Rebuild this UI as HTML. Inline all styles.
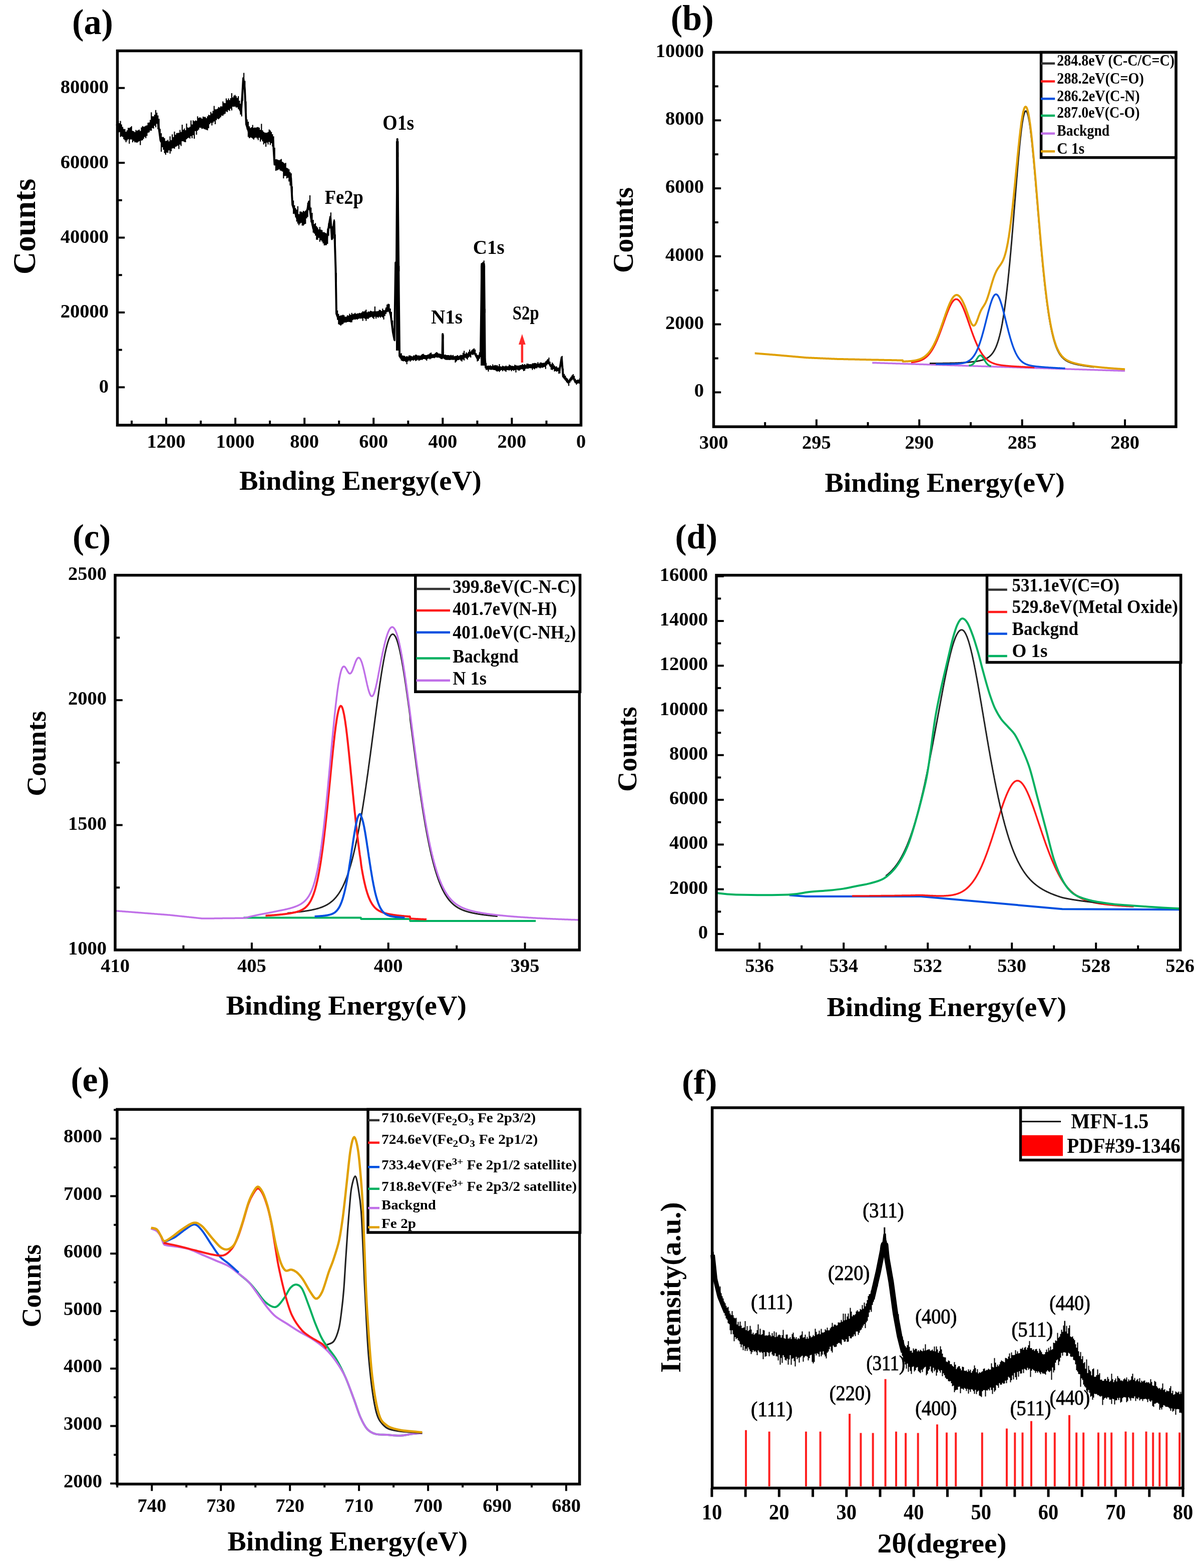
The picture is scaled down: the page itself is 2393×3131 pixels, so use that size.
<!DOCTYPE html><html><head><meta charset="utf-8"><style>html,body{margin:0;padding:0;background:#fff;}svg{display:block;}</style></head><body><svg width="2393" height="3131" viewBox="0 0 2393 3131" font-family='"Liberation Serif", "Times New Roman", serif'><rect width="100%" height="100%" fill="#fff"/><path d="M233,248.2 238.9,257 250.8,272 259.8,266 268.7,275 277.6,272 289.5,263 301.4,248.2 311.8,236.3 316.3,248.2 320.8,281 328.2,292.9 340.1,289.9 355,278 369.9,269 384.8,257 396.7,245.2 408.6,248.2 420.5,236.3 438.3,224.4 456.2,209.5 468,200.6 477,209.5 481.5,224.4 484,190 486,156 489,179.8 491.9,248.2 497.9,266 512.7,263 527.6,275 542.5,275 545.5,281 548.5,328.6 557.4,328.6 572.3,343.5 581.2,355.4 584.2,408.9 593.1,435.7 605,435.7 612.5,426.8 616.9,403 621.4,435.7 625.8,456.5 637.7,468.5 652.6,477.4 660,432.7 663,477.4 667.5,441.7 670.5,536.9 672,626.2 676.4,638 691.3,638 706.2,632 709.2,632 738.3,627.7 767.5,626.2 774.8,611.7 780.6,629.2 785,664.2 787.9,678.7 790.2,524.2 791.5,600 793.7,277.7 796.7,588.3 798.1,710.8 802.5,716.7 825.8,715.2 855,712.3 872.5,709.4 883.4,713.7 884.2,667.1 885,713.7 913.3,715.2 936.7,707.9 945.4,700.6 954.2,716.7 960,705 961.5,600 962.3,527.1 966.8,527.1 967.6,600 968.7,716.7 970.2,734.2 1000.8,735.6 1030,734.2 1059.2,731.2 1088.3,728.3 1094.2,719.6 1100,731.2 1117.5,740 1121.9,713.7 1124.8,751.7 1135,763.3 1143.8,751.7 1149.6,763.3 1158,760.4" fill="none" stroke="#000" stroke-width="4" stroke-linejoin="round"/>
<line x1="793.7" y1="282" x2="793.7" y2="700" stroke="#000" stroke-width="5.5" stroke-linecap="butt"/>
<line x1="964.6" y1="530" x2="964.6" y2="730" stroke="#000" stroke-width="9" stroke-linecap="butt"/>
<line x1="884.5" y1="669" x2="884.5" y2="712" stroke="#000" stroke-width="4" stroke-linecap="butt"/>
<rect x="234.5" y="101.5" width="926" height="747.5" stroke="#000" stroke-width="5.5" fill="none"/>
<line x1="1160.5" y1="849" x2="1160.5" y2="834.2" stroke="#000" stroke-width="4" stroke-linecap="butt"/>
<text x="1160.5" y="893.6" font-size="38.5" text-anchor="middle" font-weight="bold" fill="#000">0</text>
<line x1="1022.4" y1="849" x2="1022.4" y2="834.2" stroke="#000" stroke-width="4" stroke-linecap="butt"/>
<text x="1022.4" y="893.6" font-size="38.5" text-anchor="middle" font-weight="bold" fill="#000">200</text>
<line x1="884.3" y1="849" x2="884.3" y2="834.2" stroke="#000" stroke-width="4" stroke-linecap="butt"/>
<text x="884.3" y="893.6" font-size="38.5" text-anchor="middle" font-weight="bold" fill="#000">400</text>
<line x1="746.2" y1="849" x2="746.2" y2="834.2" stroke="#000" stroke-width="4" stroke-linecap="butt"/>
<text x="746.2" y="893.6" font-size="38.5" text-anchor="middle" font-weight="bold" fill="#000">600</text>
<line x1="608.2" y1="849" x2="608.2" y2="834.2" stroke="#000" stroke-width="4" stroke-linecap="butt"/>
<text x="608.2" y="893.6" font-size="38.5" text-anchor="middle" font-weight="bold" fill="#000">800</text>
<line x1="470.1" y1="849" x2="470.1" y2="834.2" stroke="#000" stroke-width="4" stroke-linecap="butt"/>
<text x="470.1" y="893.6" font-size="38.5" text-anchor="middle" font-weight="bold" fill="#000">1000</text>
<line x1="332" y1="849" x2="332" y2="834.2" stroke="#000" stroke-width="4" stroke-linecap="butt"/>
<text x="332" y="893.6" font-size="38.5" text-anchor="middle" font-weight="bold" fill="#000">1200</text>
<line x1="1091.5" y1="849" x2="1091.5" y2="839.8" stroke="#000" stroke-width="4" stroke-linecap="butt"/>
<line x1="953.4" y1="849" x2="953.4" y2="839.8" stroke="#000" stroke-width="4" stroke-linecap="butt"/>
<line x1="815.3" y1="849" x2="815.3" y2="839.8" stroke="#000" stroke-width="4" stroke-linecap="butt"/>
<line x1="677.2" y1="849" x2="677.2" y2="839.8" stroke="#000" stroke-width="4" stroke-linecap="butt"/>
<line x1="539.1" y1="849" x2="539.1" y2="839.8" stroke="#000" stroke-width="4" stroke-linecap="butt"/>
<line x1="401" y1="849" x2="401" y2="839.8" stroke="#000" stroke-width="4" stroke-linecap="butt"/>
<line x1="263" y1="849" x2="263" y2="839.8" stroke="#000" stroke-width="4" stroke-linecap="butt"/>
<line x1="234.5" y1="773.3" x2="249.2" y2="773.3" stroke="#000" stroke-width="4" stroke-linecap="butt"/>
<text x="217" y="783.8" font-size="38.5" text-anchor="end" font-weight="bold" fill="#000">0</text>
<line x1="234.5" y1="623.9" x2="249.2" y2="623.9" stroke="#000" stroke-width="4" stroke-linecap="butt"/>
<text x="217" y="634.4" font-size="38.5" text-anchor="end" font-weight="bold" fill="#000">20000</text>
<line x1="234.5" y1="474.5" x2="249.2" y2="474.5" stroke="#000" stroke-width="4" stroke-linecap="butt"/>
<text x="217" y="485" font-size="38.5" text-anchor="end" font-weight="bold" fill="#000">40000</text>
<line x1="234.5" y1="325.1" x2="249.2" y2="325.1" stroke="#000" stroke-width="4" stroke-linecap="butt"/>
<text x="217" y="335.6" font-size="38.5" text-anchor="end" font-weight="bold" fill="#000">60000</text>
<line x1="234.5" y1="175.7" x2="249.2" y2="175.7" stroke="#000" stroke-width="4" stroke-linecap="butt"/>
<text x="217" y="186.2" font-size="38.5" text-anchor="end" font-weight="bold" fill="#000">80000</text>
<line x1="234.5" y1="698.6" x2="243.8" y2="698.6" stroke="#000" stroke-width="4" stroke-linecap="butt"/>
<line x1="234.5" y1="549.2" x2="243.8" y2="549.2" stroke="#000" stroke-width="4" stroke-linecap="butt"/>
<line x1="234.5" y1="399.8" x2="243.8" y2="399.8" stroke="#000" stroke-width="4" stroke-linecap="butt"/>
<line x1="234.5" y1="250.4" x2="243.8" y2="250.4" stroke="#000" stroke-width="4" stroke-linecap="butt"/>
<line x1="234.5" y1="101" x2="243.8" y2="101" stroke="#000" stroke-width="4" stroke-linecap="butt"/>
<text x="144" y="68" font-size="71" text-anchor="start" font-weight="bold" fill="#000" textLength="82" lengthAdjust="spacingAndGlyphs">(a)</text>
<text x="70" y="452.4" font-size="64" text-anchor="middle" font-weight="bold" fill="#000" textLength="191.4" lengthAdjust="spacingAndGlyphs" transform="rotate(-90 70 452.4)">Counts</text>
<text x="477.9" y="978" font-size="54" text-anchor="start" font-weight="bold" fill="#000" textLength="484" lengthAdjust="spacingAndGlyphs">Binding Energy(eV)</text>
<text x="764.3" y="259" font-size="42" text-anchor="start" font-weight="bold" fill="#000" textLength="63" lengthAdjust="spacingAndGlyphs">O1s</text>
<text x="648.8" y="407" font-size="40" text-anchor="start" font-weight="bold" fill="#000" textLength="77" lengthAdjust="spacingAndGlyphs">Fe2p</text>
<text x="944.8" y="506.8" font-size="40" text-anchor="start" font-weight="bold" fill="#000" textLength="63" lengthAdjust="spacingAndGlyphs">C1s</text>
<text x="861" y="646" font-size="40" text-anchor="start" font-weight="bold" fill="#000" textLength="63" lengthAdjust="spacingAndGlyphs">N1s</text>
<text x="1023.8" y="637.6" font-size="40" text-anchor="start" font-weight="bold" fill="#000" textLength="53" lengthAdjust="spacingAndGlyphs">S2p</text>
<line x1="1042.9" y1="724" x2="1042.9" y2="684" stroke="#ff2a2a" stroke-width="4.5" stroke-linecap="butt"/>
<path d="M1036,688 L1042.9,667 L1049.8,688 Z" fill="#ff2a2a"/>
<path d="M1742.3,724.4 1742.9,724.4 1743.4,724.4 1743.9,724.4 1744.4,724.4 1745,724.4 1745.5,724.5 1746,724.5 1746.6,724.5 1747.1,724.5 1747.6,724.5 1748.1,724.5 1748.7,724.6 1749.2,724.6 1749.7,724.6 1750.3,724.6 1750.8,724.6 1751.3,724.6 1751.8,724.7 1752.4,724.7 1752.9,724.7 1753.4,724.7 1754,724.7 1754.5,724.7 1755,724.8 1755.5,724.8 1756.1,724.8 1756.6,724.8 1757.1,724.8 1757.7,724.8 1758.2,724.9 1758.7,724.9 1759.2,724.9 1759.8,724.9 1760.3,724.9 1760.8,724.9 1761.4,725 1761.9,725 1762.4,725 1762.9,725 1763.5,725 1764,725 1764.5,725.1 1765.1,725.1 1765.6,725.1 1766.1,725.1 1766.6,725.1 1767.2,725.2 1767.7,725.2 1768.2,725.2 1768.8,725.2 1769.3,725.2 1769.8,725.2 1770.3,725.3 1770.9,725.3 1771.4,725.3 1771.9,725.3 1772.5,725.3 1773,725.3 1773.5,725.4 1774,725.4 1774.6,725.4 1775.1,725.4 1775.6,725.4 1776.2,725.4 1776.7,725.5 1777.2,725.5 1777.7,725.5 1778.3,725.5 1778.8,725.5 1779.3,725.5 1779.9,725.6 1780.4,725.6 1780.9,725.6 1781.4,725.6 1782,725.6 1782.5,725.6 1783,725.7 1783.6,725.7 1784.1,725.7 1784.6,725.7 1785.1,725.7 1785.7,725.7 1786.2,725.8 1786.7,725.8 1787.3,725.8 1787.8,725.8 1788.3,725.8 1788.8,725.8 1789.4,725.9 1789.9,725.9 1790.4,725.9 1791,725.9 1791.5,725.9 1792,726 1792.5,726 1793.1,726 1793.6,726 1794.1,726 1794.7,726 1795.2,726.1 1795.7,726.1 1796.2,726.1 1796.8,726.1 1797.3,726.1 1797.8,726.1 1798.4,726.2 1798.9,726.2 1799.4,726.2 1799.9,726.2 1800.5,726.2 1801,726.2 1801.5,726.3 1802.1,726.3 1802.6,726.3 1803.1,726.3 1803.6,726.3 1804.2,726.3 1804.7,726.4 1805.2,726.4 1805.8,726.4 1806.3,726.4 1806.8,726.4 1807.3,726.4 1807.9,726.5 1808.4,726.5 1808.9,726.5 1809.5,726.5 1810,726.5 1810.5,726.5 1811,726.6 1811.6,726.6 1812.1,726.6 1812.6,726.6 1813.2,726.6 1813.7,726.6 1814.2,726.7 1814.7,726.7 1815.3,726.7 1815.8,726.7 1816.3,726.7 1816.9,726.8 1817.4,726.8 1817.9,726.8 1818.4,726.8 1819,726.8 1819.5,726.8 1820,726.9 1820.6,726.9 1821.1,726.9 1821.6,726.9 1822.1,726.9 1822.7,726.9 1823.2,727 1823.7,727 1824.3,727 1824.8,727 1825.3,727 1825.8,727 1826.4,727.1 1826.9,727.1 1827.4,727.1 1828,727.1 1828.5,727.1 1829,727.1 1829.5,727.2 1830.1,727.2 1830.6,727.2 1831.1,727.2 1831.7,727.2 1832.2,727.2 1832.7,727.3 1833.2,727.3 1833.8,727.3 1834.3,727.3 1834.8,727.3 1835.4,727.3 1835.9,727.4 1836.4,727.4 1836.9,727.4 1837.5,727.4 1838,727.4 1838.5,727.4 1839.1,727.5 1839.6,727.5 1840.1,727.5 1840.6,727.5 1841.2,727.5 1841.7,727.5 1842.2,727.6 1842.8,727.6 1843.3,727.6 1843.8,727.6 1844.3,727.6 1844.9,727.7 1845.4,727.7 1845.9,727.7 1846.5,727.7 1847,727.7 1847.5,727.7 1848,727.8 1848.6,727.8 1849.1,727.8 1849.6,727.8 1850.2,727.8 1850.7,727.8 1851.2,727.9 1851.7,727.9 1852.3,727.9 1852.8,727.9 1853.3,727.9 1853.9,727.9 1854.4,728 1854.9,728 1855.4,728 1856,728 1856.5,728 1857,728 1857.6,728.1 1858.1,728.1 1858.6,728.1 1859.1,728.1 1859.7,728.1 1860.2,728.1 1860.7,728.2 1861.3,728.2 1861.8,728.2 1862.3,728.2 1862.8,728.2 1863.4,728.2 1863.9,728.3 1864.4,728.3 1865,728.3 1865.5,728.3 1866,728.3 1866.5,728.3 1867.1,728.4 1867.6,728.4 1868.1,728.4 1868.7,728.4 1869.2,728.4 1869.7,728.5 1870.2,728.5 1870.8,728.5 1871.3,728.5 1871.8,728.5 1872.4,728.5 1872.9,728.6 1873.4,728.6 1873.9,728.6 1874.5,728.6 1875,728.6 1875.5,728.6 1876.1,728.7 1876.6,728.7 1877.1,728.7 1877.6,728.7 1878.2,728.7 1878.7,728.7 1879.2,728.8 1879.8,728.8 1880.3,728.8 1880.8,728.8 1881.3,728.8 1881.9,728.8 1882.4,728.9 1882.9,728.9 1883.5,728.9 1884,728.9 1884.5,728.9 1885,728.9 1885.6,729 1886.1,729 1886.6,729 1887.2,729 1887.7,729 1888.2,729 1888.7,729.1 1889.3,729.1 1889.8,729.1 1890.3,729.1 1890.9,729.1 1891.4,729.1 1891.9,729.2 1892.4,729.2 1893,729.2 1893.5,729.2 1894,729.2 1894.6,729.3 1895.1,729.3 1895.6,729.3 1896.1,729.3 1896.7,729.3 1897.2,729.3 1897.7,729.4 1898.3,729.4 1898.8,729.4 1899.3,729.4 1899.8,729.4 1900.4,729.4 1900.9,729.5 1901.4,729.5 1902,729.5 1902.5,729.5 1903,729.5 1903.5,729.5 1904.1,729.6 1904.6,729.6 1905.1,729.6 1905.7,729.6 1906.2,729.6 1906.7,729.6 1907.2,729.7 1907.8,729.7 1908.3,729.7 1908.8,729.7 1909.4,729.7 1909.9,729.7 1910.4,729.8 1910.9,729.8 1911.5,729.8 1912,729.8 1912.5,729.8 1913.1,729.8 1913.6,729.9 1914.1,729.9 1914.6,729.9 1915.2,729.9 1915.7,729.9 1916.2,729.9 1916.8,730 1917.3,730 1917.8,730 1918.3,730 1918.9,730 1919.4,730 1919.9,730.1 1920.5,730.1 1921,730.1 1921.5,730.1 1922,730.1 1922.6,730.2 1923.1,730.2 1923.6,730.2 1924.2,730.2 1924.7,730.2 1925.2,730.2 1925.7,730.3 1926.3,730.3 1926.8,730.3 1927.3,730.3 1927.9,730.3 1928.4,730.3 1928.9,730.4 1929.4,730.4 1930,730.4 1930.5,730.4 1931,730.4 1931.6,730.4 1932.1,730.5 1932.6,730.5 1933.1,730.5 1933.7,730.5 1934.2,730.5 1934.7,730.5 1935.3,730.6 1935.8,730.6 1936.3,730.6 1936.8,730.6 1937.4,730.6 1937.9,730.6 1938.4,730.7 1939,730.7 1939.5,730.7 1940,730.7 1940.5,730.7 1941.1,730.7 1941.6,730.8 1942.1,730.8 1942.7,730.8 1943.2,730.8 1943.7,730.8 1944.2,730.8 1944.8,730.9 1945.3,730.9 1945.8,730.9 1946.4,730.9 1946.9,730.9 1947.4,731 1947.9,731 1948.5,731 1949,731 1949.5,731 1950.1,731 1950.6,731.1 1951.1,731.1 1951.6,731.1 1952.2,731.1 1952.7,731.1 1953.2,731.1 1953.8,731.2 1954.3,731.2 1954.8,731.2 1955.3,731.2 1955.9,731.2 1956.4,731.2 1956.9,731.3 1957.5,731.3 1958,731.3 1958.5,731.3 1959,731.3 1959.6,731.3 1960.1,731.4 1960.6,731.4 1961.2,731.4 1961.7,731.4 1962.2,731.4 1962.7,731.4 1963.3,731.5 1963.8,731.5 1964.3,731.5 1964.9,731.5 1965.4,731.5 1965.9,731.5 1966.4,731.6 1967,731.6 1967.5,731.6 1968,731.6 1968.6,731.6 1969.1,731.6 1969.6,731.7 1970.1,731.7 1970.7,731.7 1971.2,731.7 1971.7,731.7 1972.3,731.8 1972.8,731.8 1973.3,731.8 1973.8,731.8 1974.4,731.8 1974.9,731.8 1975.4,731.9 1976,731.9 1976.5,731.9 1977,731.9 1977.5,731.9 1978.1,731.9 1978.6,732 1979.1,732 1979.7,732 1980.2,732 1980.7,732 1981.2,732 1981.8,732.1 1982.3,732.1 1982.8,732.1 1983.4,732.1 1983.9,732.1 1984.4,732.1 1984.9,732.2 1985.5,732.2 1986,732.2 1986.5,732.2 1987.1,732.2 1987.6,732.2 1988.1,732.3 1988.6,732.3 1989.2,732.3 1989.7,732.3 1990.2,732.3 1990.8,732.3 1991.3,732.4 1991.8,732.4 1992.3,732.4 1992.9,732.4 1993.4,732.4 1993.9,732.4 1994.5,732.5 1995,732.5 1995.5,732.5 1996,732.5 1996.6,732.5 1997.1,732.5 1997.6,732.6 1998.2,732.6 1998.7,732.6 1999.2,732.6 1999.7,732.6 2000.3,732.7 2000.8,732.7 2001.3,732.7 2001.9,732.7 2002.4,732.7 2002.9,732.7 2003.4,732.8 2004,732.8 2004.5,732.8 2005,732.8 2005.6,732.8 2006.1,732.8 2006.6,732.9 2007.1,732.9 2007.7,732.9 2008.2,732.9 2008.7,732.9 2009.3,732.9 2009.8,733 2010.3,733 2010.8,733 2011.4,733 2011.9,733 2012.4,733 2013,733.1 2013.5,733.1 2014,733.1 2014.5,733.1 2015.1,733.1 2015.6,733.1 2016.1,733.2 2016.7,733.2 2017.2,733.2 2017.7,733.2 2018.2,733.2 2018.8,733.2 2019.3,733.3 2019.8,733.3 2020.4,733.3 2020.9,733.3 2021.4,733.3 2021.9,733.3 2022.5,733.4 2023,733.4 2023.5,733.4 2024.1,733.4 2024.6,733.4 2025.1,733.5 2025.6,733.5 2026.2,733.5 2026.7,733.5 2027.2,733.5 2027.8,733.5 2028.3,733.6 2028.8,733.6 2029.3,733.6 2029.9,733.6 2030.4,733.6 2030.9,733.6 2031.5,733.7 2032,733.7 2032.5,733.7 2033,733.7 2033.6,733.7 2034.1,733.7 2034.6,733.8 2035.2,733.8 2035.7,733.8 2036.2,733.8 2036.7,733.8 2037.3,733.8 2037.8,733.9 2038.3,733.9 2038.9,733.9 2039.4,733.9 2039.9,733.9 2040.4,733.9 2041,734 2041.5,734 2042,734 2042.6,734 2043.1,734 2043.6,734 2044.1,734.1 2044.7,734.1 2045.2,734.1 2045.7,734.1 2046.3,734.1 2046.8,734.1 2047.3,734.2 2047.8,734.2 2048.4,734.2 2048.9,734.2 2049.4,734.2 2050,734.2 2050.5,734.3 2051,734.3 2051.5,734.3 2052.1,734.3 2052.6,734.3 2053.1,734.4 2053.7,734.4 2054.2,734.4 2054.7,734.4 2055.2,734.4 2055.8,734.4 2056.3,734.5 2056.8,734.5 2057.4,734.5 2057.9,734.5 2058.4,734.5 2058.9,734.5 2059.5,734.6 2060,734.6 2060.5,734.6 2061.1,734.6 2061.6,734.6 2062.1,734.6 2062.6,734.7 2063.2,734.7 2063.7,734.7 2064.2,734.7 2064.8,734.7 2065.3,734.7 2065.8,734.8 2066.3,734.8 2066.9,734.8 2067.4,734.8 2067.9,734.8 2068.5,734.8 2069,734.9 2069.5,734.9 2070,734.9 2070.6,734.9 2071.1,734.9 2071.6,734.9 2072.2,735 2072.7,735 2073.2,735 2073.7,735 2074.3,735 2074.8,735 2075.3,735.1 2075.9,735.1 2076.4,735.1 2076.9,735.1 2077.4,735.1 2078,735.2 2078.5,735.2 2079,735.2 2079.5,735.2 2080.1,735.2 2080.6,735.2 2081.1,735.3 2081.7,735.3 2082.2,735.3 2082.7,735.3 2083.2,735.3 2083.8,735.3 2084.3,735.4 2084.8,735.4 2085.4,735.4 2085.9,735.4 2086.4,735.4 2086.9,735.4 2087.5,735.5 2088,735.5 2088.5,735.5 2089.1,735.5 2089.6,735.5 2090.1,735.5 2090.6,735.6 2091.2,735.6 2091.7,735.6 2092.2,735.6 2092.8,735.6 2093.3,735.6 2093.8,735.7 2094.3,735.7 2094.9,735.7 2095.4,735.7 2095.9,735.7 2096.5,735.7 2097,735.8 2097.5,735.8 2098,735.8 2098.6,735.8 2099.1,735.8 2099.6,735.8 2100.2,735.9 2100.7,735.9 2101.2,735.9 2101.7,735.9 2102.3,735.9 2102.8,736 2103.3,736 2103.9,736 2104.4,736 2104.9,736 2105.4,736 2106,736.1 2106.5,736.1 2107,736.1 2107.6,736.1 2108.1,736.1 2108.6,736.1 2109.1,736.2 2109.7,736.2 2110.2,736.2 2110.7,736.2 2111.3,736.2 2111.8,736.2 2112.3,736.3 2112.8,736.3 2113.4,736.3 2113.9,736.3 2114.4,736.3 2115,736.3 2115.5,736.4 2116,736.4 2116.5,736.4 2117.1,736.4 2117.6,736.4 2118.1,736.4 2118.7,736.5 2119.2,736.5 2119.7,736.5 2120.2,736.5 2120.8,736.5 2121.3,736.5 2121.8,736.6 2122.4,736.6 2122.9,736.6 2123.4,736.6 2123.9,736.6 2124.5,736.6 2125,736.7 2125.5,736.7 2126.1,736.7 2126.6,736.7 2127.1,736.7 2127.6,736.7 2128.2,736.8 2128.7,736.8 2129.2,736.8 2129.8,736.8 2130.3,736.8 2130.8,736.9 2131.3,736.9 2131.9,736.9 2132.4,736.9 2132.9,736.9 2133.5,736.9 2134,737 2134.5,737 2135,737 2135.6,737 2136.1,737 2136.6,737 2137.2,737.1 2137.7,737.1 2138.2,737.1 2138.7,737.1 2139.3,737.1 2139.8,737.1 2140.3,737.2 2140.9,737.2 2141.4,737.2 2141.9,737.2 2142.4,737.2 2143,737.2 2143.5,737.3 2144,737.3 2144.6,737.3 2145.1,737.3 2145.6,737.3 2146.1,737.3 2146.7,737.4 2147.2,737.4 2147.7,737.4 2148.3,737.4 2148.8,737.4 2149.3,737.4 2149.8,737.5 2150.4,737.5 2150.9,737.5 2151.4,737.5 2152,737.5 2152.5,737.5 2153,737.6 2153.5,737.6 2154.1,737.6 2154.6,737.6 2155.1,737.6 2155.7,737.7 2156.2,737.7 2156.7,737.7 2157.2,737.7 2157.8,737.7 2158.3,737.7 2158.8,737.8 2159.4,737.8 2159.9,737.8 2160.4,737.8 2160.9,737.8 2161.5,737.8 2162,737.9 2162.5,737.9 2163.1,737.9 2163.6,737.9 2164.1,737.9 2164.6,737.9 2165.2,738 2165.7,738 2166.2,738 2166.8,738 2167.3,738 2167.8,738 2168.3,738.1 2168.9,738.1 2169.4,738.1 2169.9,738.1 2170.5,738.1 2171,738.1 2171.5,738.2 2172,738.2 2172.6,738.2 2173.1,738.2 2173.6,738.2 2174.2,738.2 2174.7,738.3 2175.2,738.3 2175.7,738.3 2176.3,738.3 2176.8,738.3 2177.3,738.3 2177.9,738.4 2178.4,738.4 2178.9,738.4 2179.4,738.4 2180,738.4 2180.5,738.5 2181,738.5 2181.6,738.5 2182.1,738.5 2182.6,738.5 2183.1,738.5 2183.7,738.6 2184.2,738.6 2184.7,738.6 2185.3,738.6 2185.8,738.6 2186.3,738.6 2186.8,738.7 2187.4,738.7 2187.9,738.7 2188.4,738.7 2189,738.7 2189.5,738.7 2190,738.8 2190.5,738.8 2191.1,738.8 2191.6,738.8 2192.1,738.8 2192.7,738.8 2193.2,738.9 2193.7,738.9 2194.2,738.9 2194.8,738.9 2195.3,738.9 2195.8,738.9 2196.4,739 2196.9,739 2197.4,739 2197.9,739 2198.5,739 2199,739 2199.5,739.1 2200.1,739.1 2200.6,739.1 2201.1,739.1 2201.6,739.1 2202.2,739.1 2202.7,739.2 2203.2,739.2 2203.8,739.2 2204.3,739.2 2204.8,739.2 2205.3,739.2 2205.9,739.3 2206.4,739.3 2206.9,739.3 2207.5,739.3 2208,739.3 2208.5,739.4 2209,739.4 2209.6,739.4 2210.1,739.4 2210.6,739.4 2211.2,739.4 2211.7,739.5 2212.2,739.5 2212.7,739.5 2213.3,739.5 2213.8,739.5 2214.3,739.5 2214.9,739.6 2215.4,739.6 2215.9,739.6 2216.4,739.6 2217,739.6 2217.5,739.6 2218,739.7 2218.6,739.7 2219.1,739.7 2219.6,739.7 2220.1,739.7 2220.7,739.7 2221.2,739.8 2221.7,739.8 2222.3,739.8 2222.8,739.8 2223.3,739.8 2223.8,739.8 2224.4,739.9 2224.9,739.9 2225.4,739.9 2226,739.9 2226.5,739.9 2227,739.9 2227.5,740 2228.1,740 2228.6,740 2229.1,740 2229.7,740 2230.2,740 2230.7,740.1 2231.2,740.1 2231.8,740.1 2232.3,740.1 2232.8,740.1 2233.4,740.2 2233.9,740.2 2234.4,740.2 2234.9,740.2 2235.5,740.2 2236,740.2 2236.5,740.3 2237.1,740.3 2237.6,740.3 2238.1,740.3 2238.6,740.3 2239.2,740.3 2239.7,740.4 2240.2,740.4 2240.8,740.4 2241.3,740.4 2241.8,740.4 2242.3,740.4 2242.9,740.5 2243.4,740.5 2243.9,740.5 2244.5,740.5 2245,740.5 2245.5,740.5 2246,740.6 2246.6,740.6 2247.1,740.6" fill="none" stroke="#c070e8" stroke-width="3.5" stroke-linejoin="round"/>
<path d="M1857,725.4 1857.6,725.4 1858.1,725.4 1858.6,725.4 1859.1,725.4 1859.7,725.4 1860.2,725.4 1860.7,725.4 1861.3,725.4 1861.8,725.4 1862.3,725.4 1862.8,725.4 1863.4,725.4 1863.9,725.4 1864.4,725.4 1865,725.4 1865.5,725.4 1866,725.4 1866.5,725.4 1867.1,725.4 1867.6,725.4 1868.1,725.4 1868.7,725.4 1869.2,725.4 1869.7,725.4 1870.2,725.4 1870.8,725.4 1871.3,725.4 1871.8,725.4 1872.4,725.4 1872.9,725.4 1873.4,725.4 1873.9,725.4 1874.5,725.4 1875,725.4 1875.5,725.4 1876.1,725.4 1876.6,725.4 1877.1,725.4 1877.6,725.4 1878.2,725.4 1878.7,725.4 1879.2,725.4 1879.8,725.4 1880.3,725.4 1880.8,725.4 1881.3,725.4 1881.9,725.4 1882.4,725.4 1882.9,725.4 1883.5,725.3 1884,725.3 1884.5,725.3 1885,725.3 1885.6,725.3 1886.1,725.3 1886.6,725.3 1887.2,725.3 1887.7,725.3 1888.2,725.3 1888.7,725.3 1889.3,725.3 1889.8,725.3 1890.3,725.3 1890.9,725.3 1891.4,725.3 1891.9,725.2 1892.4,725.2 1893,725.2 1893.5,725.2 1894,725.2 1894.6,725.2 1895.1,725.2 1895.6,725.2 1896.1,725.2 1896.7,725.2 1897.2,725.1 1897.7,725.1 1898.3,725.1 1898.8,725.1 1899.3,725.1 1899.8,725.1 1900.4,725.1 1900.9,725.1 1901.4,725 1902,725 1902.5,725 1903,725 1903.5,725 1904.1,725 1904.6,725 1905.1,724.9 1905.7,724.9 1906.2,724.9 1906.7,724.9 1907.2,724.9 1907.8,724.9 1908.3,724.8 1908.8,724.8 1909.4,724.8 1909.9,724.8 1910.4,724.8 1910.9,724.7 1911.5,724.7 1912,724.7 1912.5,724.7 1913.1,724.7 1913.6,724.6 1914.1,724.6 1914.6,724.6 1915.2,724.6 1915.7,724.5 1916.2,724.5 1916.8,724.5 1917.3,724.5 1917.8,724.4 1918.3,724.4 1918.9,724.4 1919.4,724.4 1919.9,724.3 1920.5,724.3 1921,724.3 1921.5,724.3 1922,724.2 1922.6,724.2 1923.1,724.2 1923.6,724.1 1924.2,724.1 1924.7,724.1 1925.2,724 1925.7,724 1926.3,724 1926.8,723.9 1927.3,723.9 1927.9,723.9 1928.4,723.8 1928.9,723.8 1929.4,723.7 1930,723.7 1930.5,723.7 1931,723.6 1931.6,723.6 1932.1,723.5 1932.6,723.5 1933.1,723.5 1933.7,723.4 1934.2,723.4 1934.7,723.3 1935.3,723.3 1935.8,723.2 1936.3,723.2 1936.8,723.1 1937.4,723.1 1937.9,723 1938.4,723 1939,722.9 1939.5,722.9 1940,722.8 1940.5,722.8 1941.1,722.7 1941.6,722.6 1942.1,722.6 1942.7,722.5 1943.2,722.5 1943.7,722.4 1944.2,722.3 1944.8,722.3 1945.3,722.2 1945.8,722.1 1946.4,722.1 1946.9,722 1947.4,721.9 1947.9,721.8 1948.5,721.8 1949,721.7 1949.5,721.6 1950.1,721.5 1950.6,721.4 1951.1,721.4 1951.6,721.3 1952.2,721.2 1952.7,721.1 1953.2,721 1953.8,720.9 1954.3,720.8 1954.8,720.7 1955.3,720.6 1955.9,720.5 1956.4,720.4 1956.9,720.3 1957.5,720.2 1958,720 1958.5,719.9 1959,719.8 1959.6,719.7 1960.1,719.5 1960.6,719.4 1961.2,719.2 1961.7,719.1 1962.2,719 1962.7,718.8 1963.3,718.6 1963.8,718.5 1964.3,718.3 1964.9,718.1 1965.4,717.9 1965.9,717.7 1966.4,717.5 1967,717.3 1967.5,717.1 1968,716.9 1968.6,716.7 1969.1,716.4 1969.6,716.2 1970.1,715.9 1970.7,715.6 1971.2,715.4 1971.7,715.1 1972.3,714.8 1972.8,714.4 1973.3,714.1 1973.8,713.8 1974.4,713.4 1974.9,713 1975.4,712.6 1976,712.2 1976.5,711.8 1977,711.4 1977.5,710.9 1978.1,710.4 1978.6,709.9 1979.1,709.4 1979.7,708.8 1980.2,708.3 1980.7,707.7 1981.2,707 1981.8,706.4 1982.3,705.7 1982.8,705 1983.4,704.2 1983.9,703.5 1984.4,702.6 1984.9,701.8 1985.5,700.9 1986,700 1986.5,699 1987.1,698 1987.6,697 1988.1,695.9 1988.6,694.8 1989.2,693.6 1989.7,692.4 1990.2,691.1 1990.8,689.7 1991.3,688.4 1991.8,686.9 1992.3,685.4 1992.9,683.9 1993.4,682.2 1993.9,680.6 1994.5,678.8 1995,677 1995.5,675.1 1996,673.2 1996.6,671.1 1997.1,669 1997.6,666.9 1998.2,664.6 1998.7,662.3 1999.2,659.9 1999.7,657.4 2000.3,654.8 2000.8,652.1 2001.3,649.4 2001.9,646.6 2002.4,643.6 2002.9,640.6 2003.4,637.5 2004,634.3 2004.5,631 2005,627.6 2005.6,624.1 2006.1,620.5 2006.6,616.8 2007.1,613 2007.7,609.1 2008.2,605.1 2008.7,601 2009.3,596.8 2009.8,592.6 2010.3,588.2 2010.8,583.7 2011.4,579.1 2011.9,574.4 2012.4,569.6 2013,564.7 2013.5,559.7 2014,554.6 2014.5,549.4 2015.1,544.1 2015.6,538.7 2016.1,533.2 2016.7,527.7 2017.2,522 2017.7,516.3 2018.2,510.5 2018.8,504.6 2019.3,498.6 2019.8,492.6 2020.4,486.5 2020.9,480.3 2021.4,474.1 2021.9,467.8 2022.5,461.4 2023,455 2023.5,448.6 2024.1,442.1 2024.6,435.6 2025.1,429.1 2025.6,422.5 2026.2,415.9 2026.7,409.3 2027.2,402.7 2027.8,396.1 2028.3,389.5 2028.8,382.9 2029.3,376.4 2029.9,369.8 2030.4,363.3 2030.9,356.9 2031.5,350.5 2032,344.1 2032.5,337.9 2033,331.6 2033.6,325.5 2034.1,319.5 2034.6,313.6 2035.2,307.7 2035.7,302 2036.2,296.4 2036.7,291 2037.3,285.7 2037.8,280.5 2038.3,275.5 2038.9,270.7 2039.4,266.1 2039.9,261.6 2040.4,257.4 2041,253.3 2041.5,249.5 2042,245.8 2042.6,242.5 2043.1,239.3 2043.6,236.4 2044.1,233.7 2044.7,231.3 2045.2,229.1 2045.7,227.2 2046.3,225.6 2046.8,224.3 2047.3,223.2 2047.8,222.4 2048.4,221.9 2048.9,221.7 2049.4,221.7 2050,222 2050.5,222.6 2051,223.4 2051.5,224.5 2052.1,225.8 2052.6,227.4 2053.1,229.2 2053.7,231.3 2054.2,233.6 2054.7,236.2 2055.2,238.9 2055.8,241.9 2056.3,245.1 2056.8,248.6 2057.4,252.2 2057.9,256 2058.4,260 2058.9,264.2 2059.5,268.6 2060,273.2 2060.5,277.9 2061.1,282.7 2061.6,287.7 2062.1,292.9 2062.6,298.2 2063.2,303.6 2063.7,309.1 2064.2,314.7 2064.8,320.4 2065.3,326.2 2065.8,332.1 2066.3,338.1 2066.9,344.1 2067.4,350.2 2067.9,356.4 2068.5,362.6 2069,368.8 2069.5,375.1 2070,381.4 2070.6,387.7 2071.1,394.1 2071.6,400.4 2072.2,406.8 2072.7,413.2 2073.2,419.5 2073.7,425.8 2074.3,432.2 2074.8,438.5 2075.3,444.7 2075.9,451 2076.4,457.2 2076.9,463.3 2077.4,469.4 2078,475.5 2078.5,481.5 2079,487.5 2079.5,493.3 2080.1,499.2 2080.6,504.9 2081.1,510.6 2081.7,516.3 2082.2,521.8 2082.7,527.3 2083.2,532.7 2083.8,538 2084.3,543.2 2084.8,548.4 2085.4,553.4 2085.9,558.4 2086.4,563.3 2086.9,568.1 2087.5,572.8 2088,577.4 2088.5,582 2089.1,586.4 2089.6,590.7 2090.1,595 2090.6,599.1 2091.2,603.2 2091.7,607.2 2092.2,611 2092.8,614.8 2093.3,618.5 2093.8,622.1 2094.3,625.6 2094.9,629 2095.4,632.4 2095.9,635.6 2096.5,638.7 2097,641.8 2097.5,644.8 2098,647.7 2098.6,650.5 2099.1,653.2 2099.6,655.9 2100.2,658.4 2100.7,660.9 2101.2,663.3 2101.7,665.7 2102.3,667.9 2102.8,670.1 2103.3,672.2 2103.9,674.3 2104.4,676.3 2104.9,678.2 2105.4,680.1 2106,681.8 2106.5,683.6 2107,685.2 2107.6,686.8 2108.1,688.4 2108.6,689.9 2109.1,691.3 2109.7,692.7 2110.2,694.1 2110.7,695.4 2111.3,696.6 2111.8,697.8 2112.3,699 2112.8,700.1 2113.4,701.2 2113.9,702.2 2114.4,703.2 2115,704.1 2115.5,705 2116,705.9 2116.5,706.8 2117.1,707.6 2117.6,708.4 2118.1,709.1 2118.7,709.9 2119.2,710.5 2119.7,711.2 2120.2,711.9 2120.8,712.5 2121.3,713.1 2121.8,713.7 2122.4,714.2 2122.9,714.7 2123.4,715.2 2123.9,715.7 2124.5,716.2 2125,716.7 2125.5,717.1 2126.1,717.5 2126.6,717.9 2127.1,718.3 2127.6,718.7 2128.2,719.1 2128.7,719.4 2129.2,719.8 2129.8,720.1 2130.3,720.4 2130.8,720.7 2131.3,721 2131.9,721.3 2132.4,721.6 2132.9,721.8 2133.5,722.1 2134,722.3 2134.5,722.6 2135,722.8 2135.6,723.1 2136.1,723.3 2136.6,723.5 2137.2,723.7 2137.7,723.9 2138.2,724.1 2138.7,724.3 2139.3,724.5 2139.8,724.7 2140.3,724.8 2140.9,725 2141.4,725.2 2141.9,725.4 2142.4,725.5 2143,725.7 2143.5,725.8 2144,726 2144.6,726.1 2145.1,726.3 2145.6,726.4 2146.1,726.6 2146.7,726.7 2147.2,726.8 2147.7,727 2148.3,727.1 2148.8,727.2 2149.3,727.3 2149.8,727.5 2150.4,727.6 2150.9,727.7 2151.4,727.8 2152,727.9 2152.5,728 2153,728.2 2153.5,728.3 2154.1,728.4 2154.6,728.5 2155.1,728.6 2155.7,728.7 2156.2,728.8 2156.7,728.9 2157.2,729 2157.8,729.1 2158.3,729.2 2158.8,729.3 2159.4,729.4 2159.9,729.5 2160.4,729.6 2160.9,729.6 2161.5,729.7 2162,729.8 2162.5,729.9 2163.1,730 2163.6,730.1 2164.1,730.2 2164.6,730.3 2165.2,730.3 2165.7,730.4 2166.2,730.5 2166.8,730.6 2167.3,730.7 2167.8,730.7 2168.3,730.8 2168.9,730.9 2169.4,731 2169.9,731.1 2170.5,731.1 2171,731.2 2171.5,731.3 2172,731.3 2172.6,731.4 2173.1,731.5 2173.6,731.6 2174.2,731.6 2174.7,731.7 2175.2,731.8 2175.7,731.8 2176.3,731.9 2176.8,732 2177.3,732 2177.9,732.1 2178.4,732.2 2178.9,732.2 2179.4,732.3 2180,732.4 2180.5,732.4 2181,732.5 2181.6,732.6 2182.1,732.6 2182.6,732.7 2183.1,732.7 2183.7,732.8 2184.2,732.9 2184.7,732.9 2185.3,733" fill="none" stroke="#222" stroke-width="3" stroke-linejoin="round"/>
<path d="M1820,723.5 1820.6,723.5 1821.1,723.4 1821.6,723.4 1822.1,723.3 1822.7,723.3 1823.2,723.2 1823.7,723.2 1824.3,723.1 1824.8,723.1 1825.3,723 1825.8,722.9 1826.4,722.9 1826.9,722.8 1827.4,722.7 1828,722.6 1828.5,722.5 1829,722.5 1829.5,722.4 1830.1,722.3 1830.6,722.2 1831.1,722.1 1831.7,721.9 1832.2,721.8 1832.7,721.7 1833.2,721.6 1833.8,721.4 1834.3,721.3 1834.8,721.2 1835.4,721 1835.9,720.8 1836.4,720.7 1836.9,720.5 1837.5,720.3 1838,720.1 1838.5,719.9 1839.1,719.7 1839.6,719.5 1840.1,719.3 1840.6,719.1 1841.2,718.8 1841.7,718.6 1842.2,718.3 1842.8,718.1 1843.3,717.8 1843.8,717.5 1844.3,717.2 1844.9,716.9 1845.4,716.6 1845.9,716.2 1846.5,715.9 1847,715.5 1847.5,715.1 1848,714.7 1848.6,714.3 1849.1,713.9 1849.6,713.5 1850.2,713 1850.7,712.6 1851.2,712.1 1851.7,711.6 1852.3,711.1 1852.8,710.6 1853.3,710.1 1853.9,709.5 1854.4,708.9 1854.9,708.3 1855.4,707.7 1856,707.1 1856.5,706.5 1857,705.8 1857.6,705.1 1858.1,704.4 1858.6,703.7 1859.1,702.9 1859.7,702.2 1860.2,701.4 1860.7,700.6 1861.3,699.8 1861.8,699 1862.3,698.1 1862.8,697.2 1863.4,696.3 1863.9,695.4 1864.4,694.4 1865,693.5 1865.5,692.5 1866,691.5 1866.5,690.5 1867.1,689.4 1867.6,688.4 1868.1,687.3 1868.7,686.2 1869.2,685 1869.7,683.9 1870.2,682.7 1870.8,681.6 1871.3,680.4 1871.8,679.1 1872.4,677.9 1872.9,676.6 1873.4,675.4 1873.9,674.1 1874.5,672.8 1875,671.4 1875.5,670.1 1876.1,668.7 1876.6,667.4 1877.1,666 1877.6,664.6 1878.2,663.2 1878.7,661.7 1879.2,660.3 1879.8,658.9 1880.3,657.4 1880.8,656 1881.3,654.5 1881.9,653 1882.4,651.5 1882.9,650 1883.5,648.5 1884,647.1 1884.5,645.6 1885,644.1 1885.6,642.6 1886.1,641.1 1886.6,639.6 1887.2,638.1 1887.7,636.6 1888.2,635.1 1888.7,633.7 1889.3,632.2 1889.8,630.8 1890.3,629.3 1890.9,627.9 1891.4,626.5 1891.9,625.1 1892.4,623.7 1893,622.4 1893.5,621 1894,619.7 1894.6,618.4 1895.1,617.2 1895.6,615.9 1896.1,614.7 1896.7,613.5 1897.2,612.4 1897.7,611.3 1898.3,610.2 1898.8,609.1 1899.3,608.1 1899.8,607.1 1900.4,606.2 1900.9,605.3 1901.4,604.5 1902,603.6 1902.5,602.9 1903,602.2 1903.5,601.5 1904.1,600.9 1904.6,600.3 1905.1,599.7 1905.7,599.3 1906.2,598.8 1906.7,598.5 1907.2,598.2 1907.8,597.9 1908.3,597.7 1908.8,597.5 1909.4,597.4 1909.9,597.4 1910.4,597.4 1910.9,597.4 1911.5,597.6 1912,597.7 1912.5,598 1913.1,598.2 1913.6,598.6 1914.1,599 1914.6,599.4 1915.2,599.9 1915.7,600.4 1916.2,601 1916.8,601.7 1917.3,602.4 1917.8,603.1 1918.3,603.9 1918.9,604.7 1919.4,605.6 1919.9,606.5 1920.5,607.5 1921,608.5 1921.5,609.5 1922,610.6 1922.6,611.7 1923.1,612.8 1923.6,614 1924.2,615.2 1924.7,616.4 1925.2,617.7 1925.7,619 1926.3,620.3 1926.8,621.6 1927.3,623 1927.9,624.4 1928.4,625.8 1928.9,627.2 1929.4,628.6 1930,630.1 1930.5,631.6 1931,633 1931.6,634.5 1932.1,636 1932.6,637.5 1933.1,639 1933.7,640.6 1934.2,642.1 1934.7,643.6 1935.3,645.1 1935.8,646.7 1936.3,648.2 1936.8,649.7 1937.4,651.3 1937.9,652.8 1938.4,654.3 1939,655.8 1939.5,657.3 1940,658.8 1940.5,660.3 1941.1,661.8 1941.6,663.3 1942.1,664.7 1942.7,666.2 1943.2,667.6 1943.7,669 1944.2,670.4 1944.8,671.8 1945.3,673.2 1945.8,674.6 1946.4,675.9 1946.9,677.3 1947.4,678.6 1947.9,679.9 1948.5,681.1 1949,682.4 1949.5,683.7 1950.1,684.9 1950.6,686.1 1951.1,687.3 1951.6,688.4 1952.2,689.6 1952.7,690.7 1953.2,691.8 1953.8,692.9 1954.3,694 1954.8,695 1955.3,696 1955.9,697 1956.4,698 1956.9,699 1957.5,699.9 1958,700.9 1958.5,701.8 1959,702.6 1959.6,703.5 1960.1,704.3 1960.6,705.2 1961.2,706 1961.7,706.7 1962.2,707.5 1962.7,708.2 1963.3,709 1963.8,709.7 1964.3,710.4 1964.9,711 1965.4,711.7 1965.9,712.3 1966.4,712.9 1967,713.5 1967.5,714.1 1968,714.6 1968.6,715.2 1969.1,715.7 1969.6,716.2 1970.1,716.7 1970.7,717.2 1971.2,717.7 1971.7,718.1 1972.3,718.6 1972.8,719 1973.3,719.4 1973.8,719.8 1974.4,720.2 1974.9,720.6 1975.4,721 1976,721.3 1976.5,721.6 1977,722 1977.5,722.3 1978.1,722.6 1978.6,722.9 1979.1,723.2 1979.7,723.5 1980.2,723.7 1980.7,724 1981.2,724.2 1981.8,724.5 1982.3,724.7 1982.8,724.9 1983.4,725.1 1983.9,725.4 1984.4,725.6 1984.9,725.8 1985.5,725.9 1986,726.1 1986.5,726.3 1987.1,726.5 1987.6,726.6 1988.1,726.8 1988.6,726.9 1989.2,727.1 1989.7,727.2 1990.2,727.4 1990.8,727.5 1991.3,727.6 1991.8,727.8 1992.3,727.9 1992.9,728 1993.4,728.1 1993.9,728.2 1994.5,728.3 1995,728.4 1995.5,728.5 1996,728.6 1996.6,728.7 1997.1,728.8 1997.6,728.9 1998.2,729 1998.7,729.1 1999.2,729.1 1999.7,729.2 2000.3,729.3 2000.8,729.4 2001.3,729.4 2001.9,729.5 2002.4,729.6 2002.9,729.6 2003.4,729.7 2004,729.8 2004.5,729.8 2005,729.9 2005.6,730 2006.1,730 2006.6,730.1 2007.1,730.1 2007.7,730.2 2008.2,730.2 2008.7,730.3 2009.3,730.3 2009.8,730.4 2010.3,730.4 2010.8,730.5 2011.4,730.5 2011.9,730.6 2012.4,730.6 2013,730.7 2013.5,730.7 2014,730.7 2014.5,730.8 2015.1,730.8 2015.6,730.9 2016.1,730.9 2016.7,731 2017.2,731 2017.7,731 2018.2,731.1 2018.8,731.1 2019.3,731.2 2019.8,731.2 2020.4,731.2 2020.9,731.3 2021.4,731.3 2021.9,731.3 2022.5,731.4 2023,731.4 2023.5,731.4 2024.1,731.5 2024.6,731.5 2025.1,731.5 2025.6,731.6 2026.2,731.6 2026.7,731.7 2027.2,731.7 2027.8,731.7 2028.3,731.7 2028.8,731.8 2029.3,731.8 2029.9,731.8 2030.4,731.9 2030.9,731.9 2031.5,731.9 2032,732 2032.5,732 2033,732 2033.6,732.1 2034.1,732.1 2034.6,732.1 2035.2,732.2 2035.7,732.2 2036.2,732.2 2036.7,732.2 2037.3,732.3 2037.8,732.3 2038.3,732.3 2038.9,732.4 2039.4,732.4 2039.9,732.4 2040.4,732.4 2041,732.5 2041.5,732.5 2042,732.5 2042.6,732.6 2043.1,732.6 2043.6,732.6 2044.1,732.6 2044.7,732.7 2045.2,732.7 2045.7,732.7 2046.3,732.8 2046.8,732.8 2047.3,732.8 2047.8,732.8 2048.4,732.9 2048.9,732.9 2049.4,732.9 2050,732.9 2050.5,733 2051,733 2051.5,733 2052.1,733 2052.6,733.1 2053.1,733.1 2053.7,733.1 2054.2,733.2 2054.7,733.2 2055.2,733.2 2055.8,733.2 2056.3,733.3 2056.8,733.3 2057.4,733.3 2057.9,733.3 2058.4,733.4 2058.9,733.4 2059.5,733.4 2060,733.4 2060.5,733.5 2061.1,733.5 2061.6,733.5 2062.1,733.5 2062.6,733.6 2063.2,733.6 2063.7,733.6 2064.2,733.6 2064.8,733.6 2065.3,733.7 2065.8,733.7 2066.3,733.7" fill="none" stroke="#ff1a1a" stroke-width="3.5" stroke-linejoin="round"/>
<path d="M1869.2,727 1869.7,727 1870.2,727 1870.8,727 1871.3,727 1871.8,727 1872.4,727 1872.9,727 1873.4,727 1873.9,727 1874.5,727 1875,727 1875.5,727 1876.1,727 1876.6,727 1877.1,727 1877.6,727 1878.2,727 1878.7,727 1879.2,727 1879.8,727 1880.3,727 1880.8,727 1881.3,727 1881.9,727 1882.4,727 1882.9,727 1883.5,727 1884,727 1884.5,727 1885,727 1885.6,727 1886.1,727 1886.6,727 1887.2,727 1887.7,727 1888.2,727 1888.7,727 1889.3,727 1889.8,727 1890.3,727 1890.9,727 1891.4,727 1891.9,727 1892.4,727 1893,727 1893.5,727 1894,727 1894.6,727 1895.1,727 1895.6,726.9 1896.1,726.9 1896.7,726.9 1897.2,726.9 1897.7,726.9 1898.3,726.9 1898.8,726.9 1899.3,726.9 1899.8,726.9 1900.4,726.9 1900.9,726.8 1901.4,726.8 1902,726.8 1902.5,726.8 1903,726.8 1903.5,726.8 1904.1,726.8 1904.6,726.7 1905.1,726.7 1905.7,726.7 1906.2,726.7 1906.7,726.7 1907.2,726.6 1907.8,726.6 1908.3,726.6 1908.8,726.6 1909.4,726.5 1909.9,726.5 1910.4,726.5 1910.9,726.4 1911.5,726.4 1912,726.4 1912.5,726.3 1913.1,726.3 1913.6,726.3 1914.1,726.2 1914.6,726.2 1915.2,726.1 1915.7,726.1 1916.2,726 1916.8,726 1917.3,725.9 1917.8,725.9 1918.3,725.8 1918.9,725.7 1919.4,725.7 1919.9,725.6 1920.5,725.5 1921,725.5 1921.5,725.4 1922,725.3 1922.6,725.2 1923.1,725.1 1923.6,725 1924.2,724.9 1924.7,724.8 1925.2,724.6 1925.7,724.5 1926.3,724.4 1926.8,724.2 1927.3,724.1 1927.9,723.9 1928.4,723.8 1928.9,723.6 1929.4,723.4 1930,723.2 1930.5,723 1931,722.8 1931.6,722.6 1932.1,722.3 1932.6,722.1 1933.1,721.8 1933.7,721.5 1934.2,721.2 1934.7,720.9 1935.3,720.6 1935.8,720.3 1936.3,719.9 1936.8,719.6 1937.4,719.2 1937.9,718.8 1938.4,718.3 1939,717.9 1939.5,717.4 1940,716.9 1940.5,716.4 1941.1,715.9 1941.6,715.3 1942.1,714.7 1942.7,714.1 1943.2,713.5 1943.7,712.8 1944.2,712.1 1944.8,711.4 1945.3,710.7 1945.8,709.9 1946.4,709.1 1946.9,708.3 1947.4,707.4 1947.9,706.5 1948.5,705.6 1949,704.6 1949.5,703.6 1950.1,702.6 1950.6,701.5 1951.1,700.4 1951.6,699.3 1952.2,698.1 1952.7,696.9 1953.2,695.6 1953.8,694.3 1954.3,693 1954.8,691.7 1955.3,690.3 1955.9,688.8 1956.4,687.4 1956.9,685.9 1957.5,684.3 1958,682.7 1958.5,681.1 1959,679.5 1959.6,677.8 1960.1,676.1 1960.6,674.3 1961.2,672.6 1961.7,670.7 1962.2,668.9 1962.7,667 1963.3,665.1 1963.8,663.2 1964.3,661.3 1964.9,659.3 1965.4,657.3 1965.9,655.3 1966.4,653.3 1967,651.2 1967.5,649.2 1968,647.1 1968.6,645 1969.1,642.9 1969.6,640.8 1970.1,638.7 1970.7,636.6 1971.2,634.5 1971.7,632.4 1972.3,630.3 1972.8,628.3 1973.3,626.2 1973.8,624.2 1974.4,622.1 1974.9,620.2 1975.4,618.2 1976,616.2 1976.5,614.3 1977,612.5 1977.5,610.6 1978.1,608.8 1978.6,607.1 1979.1,605.4 1979.7,603.8 1980.2,602.2 1980.7,600.7 1981.2,599.3 1981.8,597.9 1982.3,596.6 1982.8,595.4 1983.4,594.3 1983.9,593.2 1984.4,592.2 1984.9,591.3 1985.5,590.5 1986,589.8 1986.5,589.2 1987.1,588.7 1987.6,588.3 1988.1,588 1988.6,587.8 1989.2,587.7 1989.7,587.7 1990.2,587.8 1990.8,588 1991.3,588.3 1991.8,588.7 1992.3,589.2 1992.9,589.8 1993.4,590.5 1993.9,591.3 1994.5,592.2 1995,593.2 1995.5,594.2 1996,595.4 1996.6,596.6 1997.1,597.9 1997.6,599.3 1998.2,600.7 1998.7,602.3 1999.2,603.8 1999.7,605.5 2000.3,607.2 2000.8,608.9 2001.3,610.7 2001.9,612.6 2002.4,614.5 2002.9,616.4 2003.4,618.4 2004,620.4 2004.5,622.4 2005,624.4 2005.6,626.5 2006.1,628.6 2006.6,630.7 2007.1,632.8 2007.7,634.9 2008.2,637.1 2008.7,639.2 2009.3,641.3 2009.8,643.5 2010.3,645.6 2010.8,647.7 2011.4,649.8 2011.9,651.9 2012.4,654 2013,656.1 2013.5,658.1 2014,660.2 2014.5,662.2 2015.1,664.2 2015.6,666.1 2016.1,668.1 2016.7,670 2017.2,671.9 2017.7,673.7 2018.2,675.5 2018.8,677.3 2019.3,679.1 2019.8,680.8 2020.4,682.5 2020.9,684.2 2021.4,685.8 2021.9,687.4 2022.5,688.9 2023,690.5 2023.5,691.9 2024.1,693.4 2024.6,694.8 2025.1,696.1 2025.6,697.5 2026.2,698.8 2026.7,700 2027.2,701.3 2027.8,702.4 2028.3,703.6 2028.8,704.7 2029.3,705.8 2029.9,706.8 2030.4,707.8 2030.9,708.8 2031.5,709.8 2032,710.7 2032.5,711.6 2033,712.4 2033.6,713.2 2034.1,714 2034.6,714.8 2035.2,715.5 2035.7,716.2 2036.2,716.9 2036.7,717.6 2037.3,718.2 2037.8,718.8 2038.3,719.4 2038.9,719.9 2039.4,720.4 2039.9,721 2040.4,721.4 2041,721.9 2041.5,722.4 2042,722.8 2042.6,723.2 2043.1,723.6 2043.6,724 2044.1,724.3 2044.7,724.7 2045.2,725 2045.7,725.3 2046.3,725.6 2046.8,725.9 2047.3,726.2 2047.8,726.5 2048.4,726.7 2048.9,727 2049.4,727.2 2050,727.4 2050.5,727.6 2051,727.8 2051.5,728 2052.1,728.2 2052.6,728.4 2053.1,728.6 2053.7,728.7 2054.2,728.9 2054.7,729 2055.2,729.2 2055.8,729.3 2056.3,729.4 2056.8,729.6 2057.4,729.7 2057.9,729.8 2058.4,729.9 2058.9,730 2059.5,730.2 2060,730.3 2060.5,730.4 2061.1,730.5 2061.6,730.5 2062.1,730.6 2062.6,730.7 2063.2,730.8 2063.7,730.9 2064.2,731 2064.8,731.1 2065.3,731.1 2065.8,731.2 2066.3,731.3 2066.9,731.3 2067.4,731.4 2067.9,731.5 2068.5,731.5 2069,731.6 2069.5,731.7 2070,731.7 2070.6,731.8 2071.1,731.9 2071.6,731.9 2072.2,732 2072.7,732 2073.2,732.1 2073.7,732.1 2074.3,732.2 2074.8,732.2 2075.3,732.3 2075.9,732.3 2076.4,732.4 2076.9,732.4 2077.4,732.5 2078,732.5 2078.5,732.6 2079,732.6 2079.5,732.7 2080.1,732.7 2080.6,732.8 2081.1,732.8 2081.7,732.8 2082.2,732.9 2082.7,732.9 2083.2,733 2083.8,733 2084.3,733.1 2084.8,733.1 2085.4,733.1 2085.9,733.2 2086.4,733.2 2086.9,733.3 2087.5,733.3 2088,733.3 2088.5,733.4 2089.1,733.4 2089.6,733.5 2090.1,733.5 2090.6,733.5 2091.2,733.6 2091.7,733.6 2092.2,733.6 2092.8,733.7 2093.3,733.7 2093.8,733.7 2094.3,733.8 2094.9,733.8 2095.4,733.9 2095.9,733.9 2096.5,733.9 2097,734 2097.5,734 2098,734 2098.6,734.1 2099.1,734.1 2099.6,734.1 2100.2,734.2 2100.7,734.2 2101.2,734.2 2101.7,734.3 2102.3,734.3 2102.8,734.3 2103.3,734.3 2103.9,734.4 2104.4,734.4 2104.9,734.4 2105.4,734.5 2106,734.5 2106.5,734.5 2107,734.6 2107.6,734.6 2108.1,734.6 2108.6,734.7 2109.1,734.7 2109.7,734.7 2110.2,734.7 2110.7,734.8 2111.3,734.8 2111.8,734.8 2112.3,734.9 2112.8,734.9 2113.4,734.9 2113.9,734.9 2114.4,735 2115,735 2115.5,735 2116,735.1 2116.5,735.1 2117.1,735.1 2117.6,735.1 2118.1,735.2 2118.7,735.2 2119.2,735.2 2119.7,735.2 2120.2,735.3 2120.8,735.3 2121.3,735.3 2121.8,735.4 2122.4,735.4 2122.9,735.4 2123.4,735.4 2123.9,735.5 2124.5,735.5 2125,735.5 2125.5,735.5 2126.1,735.6 2126.6,735.6 2127.1,735.6 2127.6,735.6" fill="none" stroke="#0050e0" stroke-width="3.5" stroke-linejoin="round"/>
<path d="M1935.3,730 1935.8,729.9 1936.3,729.9 1936.8,729.8 1937.4,729.7 1937.9,729.6 1938.4,729.5 1939,729.3 1939.5,729.2 1940,729 1940.5,728.8 1941.1,728.5 1941.6,728.2 1942.1,727.9 1942.7,727.6 1943.2,727.2 1943.7,726.7 1944.2,726.3 1944.8,725.8 1945.3,725.2 1945.8,724.6 1946.4,724 1946.9,723.3 1947.4,722.6 1947.9,721.8 1948.5,721 1949,720.2 1949.5,719.4 1950.1,718.6 1950.6,717.7 1951.1,716.9 1951.6,716 1952.2,715.2 1952.7,714.4 1953.2,713.6 1953.8,712.9 1954.3,712.2 1954.8,711.6 1955.3,711 1955.9,710.6 1956.4,710.2 1956.9,709.9 1957.5,709.7 1958,709.6 1958.5,709.6 1959,709.7 1959.6,709.9 1960.1,710.2 1960.6,710.6 1961.2,711.1 1961.7,711.7 1962.2,712.3 1962.7,713 1963.3,713.8 1963.8,714.6 1964.3,715.4 1964.9,716.3 1965.4,717.1 1965.9,718 1966.4,718.9 1967,719.8 1967.5,720.7 1968,721.5 1968.6,722.3 1969.1,723.1 1969.6,723.9 1970.1,724.6 1970.7,725.3 1971.2,725.9 1971.7,726.5 1972.3,727.1 1972.8,727.6 1973.3,728 1973.8,728.5 1974.4,728.9 1974.9,729.2 1975.4,729.5 1976,729.8 1976.5,730.1 1977,730.3 1977.5,730.5 1978.1,730.7 1978.6,730.9 1979.1,731 1979.7,731.2" fill="none" stroke="#00b060" stroke-width="3.5" stroke-linejoin="round"/>
<path d="M1507.7,705.5 1508.2,705.5 1508.7,705.5 1509.2,705.6 1509.8,705.6 1510.3,705.7 1510.8,705.7 1511.4,705.8 1511.9,705.8 1512.4,705.8 1512.9,705.9 1513.5,705.9 1514,706 1514.5,706 1515.1,706 1515.6,706.1 1516.1,706.1 1516.6,706.2 1517.2,706.2 1517.7,706.3 1518.2,706.3 1518.8,706.3 1519.3,706.4 1519.8,706.4 1520.3,706.5 1520.9,706.5 1521.4,706.6 1521.9,706.6 1522.5,706.6 1523,706.7 1523.5,706.7 1524,706.8 1524.6,706.8 1525.1,706.8 1525.6,706.9 1526.2,706.9 1526.7,707 1527.2,707 1527.7,707.1 1528.3,707.1 1528.8,707.1 1529.3,707.2 1529.9,707.2 1530.4,707.3 1530.9,707.3 1531.4,707.3 1532,707.4 1532.5,707.4 1533,707.5 1533.6,707.5 1534.1,707.6 1534.6,707.6 1535.1,707.6 1535.7,707.7 1536.2,707.7 1536.7,707.8 1537.3,707.8 1537.8,707.9 1538.3,707.9 1538.8,707.9 1539.4,708 1539.9,708 1540.4,708.1 1541,708.1 1541.5,708.1 1542,708.2 1542.5,708.2 1543.1,708.3 1543.6,708.3 1544.1,708.4 1544.7,708.4 1545.2,708.4 1545.7,708.5 1546.2,708.5 1546.8,708.6 1547.3,708.6 1547.8,708.6 1548.4,708.7 1548.9,708.7 1549.4,708.8 1549.9,708.8 1550.5,708.9 1551,708.9 1551.5,709 1552.1,709 1552.6,709.1 1553.1,709.1 1553.6,709.2 1554.2,709.2 1554.7,709.2 1555.2,709.3 1555.8,709.3 1556.3,709.4 1556.8,709.4 1557.3,709.5 1557.9,709.5 1558.4,709.6 1558.9,709.6 1559.5,709.7 1560,709.7 1560.5,709.8 1561,709.8 1561.6,709.9 1562.1,709.9 1562.6,709.9 1563.2,710 1563.7,710 1564.2,710.1 1564.7,710.1 1565.3,710.2 1565.8,710.2 1566.3,710.3 1566.9,710.3 1567.4,710.4 1567.9,710.4 1568.4,710.5 1569,710.5 1569.5,710.6 1570,710.6 1570.6,710.6 1571.1,710.7 1571.6,710.7 1572.1,710.8 1572.7,710.8 1573.2,710.9 1573.7,710.9 1574.3,711 1574.8,711 1575.3,711.1 1575.8,711.1 1576.4,711.2 1576.9,711.2 1577.4,711.2 1578,711.3 1578.5,711.3 1579,711.4 1579.5,711.4 1580.1,711.5 1580.6,711.5 1581.1,711.6 1581.7,711.6 1582.2,711.7 1582.7,711.7 1583.2,711.8 1583.8,711.8 1584.3,711.9 1584.8,711.9 1585.4,711.9 1585.9,712 1586.4,712 1586.9,712.1 1587.5,712.1 1588,712.2 1588.5,712.2 1589.1,712.3 1589.6,712.3 1590.1,712.4 1590.6,712.4 1591.2,712.5 1591.7,712.5 1592.2,712.6 1592.8,712.6 1593.3,712.6 1593.8,712.7 1594.3,712.7 1594.9,712.8 1595.4,712.8 1595.9,712.9 1596.5,712.9 1597,713 1597.5,713 1598,713.1 1598.6,713.1 1599.1,713.2 1599.6,713.2 1600.2,713.3 1600.7,713.3 1601.2,713.3 1601.7,713.4 1602.3,713.4 1602.8,713.5 1603.3,713.5 1603.9,713.6 1604.4,713.6 1604.9,713.7 1605.4,713.7 1606,713.8 1606.5,713.8 1607,713.9 1607.6,713.9 1608.1,714 1608.6,714 1609.1,714 1609.7,714.1 1610.2,714.1 1610.7,714.2 1611.3,714.2 1611.8,714.2 1612.3,714.2 1612.8,714.3 1613.4,714.3 1613.9,714.3 1614.4,714.3 1615,714.4 1615.5,714.4 1616,714.4 1616.5,714.4 1617.1,714.4 1617.6,714.5 1618.1,714.5 1618.7,714.5 1619.2,714.5 1619.7,714.6 1620.2,714.6 1620.8,714.6 1621.3,714.6 1621.8,714.7 1622.4,714.7 1622.9,714.7 1623.4,714.7 1623.9,714.8 1624.5,714.8 1625,714.8 1625.5,714.8 1626.1,714.8 1626.6,714.9 1627.1,714.9 1627.6,714.9 1628.2,714.9 1628.7,715 1629.2,715 1629.8,715 1630.3,715 1630.8,715.1 1631.3,715.1 1631.9,715.1 1632.4,715.1 1632.9,715.1 1633.5,715.2 1634,715.2 1634.5,715.2 1635,715.2 1635.6,715.3 1636.1,715.3 1636.6,715.3 1637.2,715.3 1637.7,715.4 1638.2,715.4 1638.7,715.4 1639.3,715.4 1639.8,715.4 1640.3,715.5 1640.9,715.5 1641.4,715.5 1641.9,715.5 1642.4,715.6 1643,715.6 1643.5,715.6 1644,715.6 1644.6,715.7 1645.1,715.7 1645.6,715.7 1646.1,715.7 1646.7,715.8 1647.2,715.8 1647.7,715.8 1648.3,715.8 1648.8,715.8 1649.3,715.9 1649.8,715.9 1650.4,715.9 1650.9,715.9 1651.4,716 1652,716 1652.5,716 1653,716 1653.5,716.1 1654.1,716.1 1654.6,716.1 1655.1,716.1 1655.7,716.1 1656.2,716.2 1656.7,716.2 1657.2,716.2 1657.8,716.2 1658.3,716.3 1658.8,716.3 1659.4,716.3 1659.9,716.3 1660.4,716.4 1660.9,716.4 1661.5,716.4 1662,716.4 1662.5,716.5 1663.1,716.5 1663.6,716.5 1664.1,716.5 1664.6,716.5 1665.2,716.6 1665.7,716.6 1666.2,716.6 1666.8,716.6 1667.3,716.7 1667.8,716.7 1668.3,716.7 1668.9,716.7 1669.4,716.8 1669.9,716.8 1670.5,716.8 1671,716.8 1671.5,716.8 1672,716.9 1672.6,716.9 1673.1,716.9 1673.6,716.9 1674.2,716.9 1674.7,716.9 1675.2,716.9 1675.7,717 1676.3,717 1676.8,717 1677.3,717 1677.9,717 1678.4,717 1678.9,717 1679.4,717 1680,717 1680.5,717.1 1681,717.1 1681.6,717.1 1682.1,717.1 1682.6,717.1 1683.1,717.1 1683.7,717.1 1684.2,717.1 1684.7,717.1 1685.3,717.2 1685.8,717.2 1686.3,717.2 1686.8,717.2 1687.4,717.2 1687.9,717.2 1688.4,717.2 1689,717.2 1689.5,717.3 1690,717.3 1690.5,717.3 1691.1,717.3 1691.6,717.3 1692.1,717.3 1692.7,717.3 1693.2,717.3 1693.7,717.3 1694.2,717.4 1694.8,717.4 1695.3,717.4 1695.8,717.4 1696.4,717.4 1696.9,717.4 1697.4,717.4 1697.9,717.4 1698.5,717.5 1699,717.5 1699.5,717.5 1700.1,717.5 1700.6,717.5 1701.1,717.5 1701.6,717.5 1702.2,717.5 1702.7,717.5 1703.2,717.6 1703.8,717.6 1704.3,717.6 1704.8,717.6 1705.3,717.6 1705.9,717.6 1706.4,717.6 1706.9,717.6 1707.5,717.6 1708,717.7 1708.5,717.7 1709,717.7 1709.6,717.7 1710.1,717.7 1710.6,717.7 1711.2,717.7 1711.7,717.7 1712.2,717.8 1712.7,717.8 1713.3,717.8 1713.8,717.8 1714.3,717.8 1714.9,717.8 1715.4,717.8 1715.9,717.8 1716.4,717.8 1717,717.9 1717.5,717.9 1718,717.9 1718.6,717.9 1719.1,717.9 1719.6,717.9 1720.1,717.9 1720.7,717.9 1721.2,718 1721.7,718 1722.3,718 1722.8,718 1723.3,718 1723.8,718 1724.4,718 1724.9,718 1725.4,718 1726,718.1 1726.5,718.1 1727,718.1 1727.5,718.1 1728.1,718.1 1728.6,718.1 1729.1,718.1 1729.7,718.1 1730.2,718.2 1730.7,718.2 1731.2,718.2 1731.8,718.2 1732.3,718.2 1732.8,718.2 1733.4,718.2 1733.9,718.2 1734.4,718.2 1734.9,718.3 1735.5,718.3 1736,718.3 1736.5,718.3 1737.1,718.3 1737.6,718.3 1738.1,718.3 1738.6,718.3 1739.2,718.3 1739.7,718.3 1740.2,718.4 1740.8,718.4 1741.3,718.4 1741.8,718.4 1742.3,718.4 1742.9,718.4 1743.4,718.4 1743.9,718.4 1744.4,718.4 1745,718.4 1745.5,718.5 1746,718.5 1746.6,718.5 1747.1,718.5 1747.6,718.5 1748.1,718.5 1748.7,718.5 1749.2,718.5 1749.7,718.5 1750.3,718.5 1750.8,718.6 1751.3,718.6 1751.8,718.6 1752.4,718.6 1752.9,718.6 1753.4,718.6 1754,718.6 1754.5,718.6 1755,718.6 1755.5,718.7 1756.1,718.7 1756.6,718.7 1757.1,718.7 1757.7,718.7 1758.2,718.7 1758.7,718.7 1759.2,718.7 1759.8,718.7 1760.3,718.7 1760.8,718.8 1761.4,718.8 1761.9,718.8 1762.4,718.8 1762.9,718.8 1763.5,718.8 1764,718.8 1764.5,718.8 1765.1,718.8 1765.6,718.8 1766.1,718.9 1766.6,718.9 1767.2,718.9 1767.7,718.9 1768.2,718.9 1768.8,718.9 1769.3,718.9 1769.8,718.9 1770.3,718.9 1770.9,719 1771.4,719 1771.9,719 1772.5,719 1773,719 1773.5,719 1774,719 1774.6,719 1775.1,719 1775.6,719 1776.2,719.1 1776.7,719.1 1777.2,719.1 1777.7,719.1 1778.3,719.1 1778.8,719.1 1779.3,719.1 1779.9,719.1 1780.4,719.1 1780.9,719.1 1781.4,719.2 1782,719.2 1782.5,719.2 1783,719.2 1783.6,719.2 1784.1,719.2 1784.6,719.2 1785.1,719.2 1785.7,719.2 1786.2,719.2 1786.7,719.3 1787.3,719.3 1787.8,719.3 1788.3,719.3 1788.8,719.3 1789.4,719.3 1789.9,719.3 1790.4,719.3 1791,719.3 1791.5,719.4 1792,719.4 1792.5,719.4 1793.1,719.4 1793.6,719.4 1794.1,719.4 1794.7,719.4 1795.2,719.4 1795.7,719.4 1796.2,719.4 1796.8,719.5 1797.3,719.5 1797.8,719.5 1798.4,719.5 1798.9,719.5 1799.4,719.5 1799.9,719.5 1800.5,719.5 1801,719.5 1801.5,719.5 1802.1,719.6 1802.6,719.6 1803.1,719.6 1803.6,721.8 1804.2,721.8 1804.7,721.8 1805.2,721.8 1805.8,721.8 1806.3,721.7 1806.8,721.7 1807.3,721.7 1807.9,721.7 1808.4,721.7 1808.9,721.6 1809.5,721.6 1810,721.6 1810.5,721.6 1811,721.5 1811.6,721.5 1812.1,721.5 1812.6,721.5 1813.2,721.4 1813.7,721.4 1814.2,721.4 1814.7,721.3 1815.3,721.3 1815.8,721.2 1816.3,721.2 1816.9,721.2 1817.4,721.1 1817.9,721.1 1818.4,721 1819,721 1819.5,720.9 1820,720.9 1820.6,720.8 1821.1,720.8 1821.6,720.7 1822.1,720.6 1822.7,720.6 1823.2,720.5 1823.7,720.4 1824.3,720.4 1824.8,720.3 1825.3,720.2 1825.8,720.1 1826.4,720.1 1826.9,720 1827.4,719.9 1828,719.8 1828.5,719.7 1829,719.6 1829.5,719.5 1830.1,719.4 1830.6,719.2 1831.1,719.1 1831.7,719 1832.2,718.9 1832.7,718.7 1833.2,718.6 1833.8,718.4 1834.3,718.3 1834.8,718.1 1835.4,717.9 1835.9,717.8 1836.4,717.6 1836.9,717.4 1837.5,717.2 1838,717 1838.5,716.8 1839.1,716.6 1839.6,716.3 1840.1,716.1 1840.6,715.8 1841.2,715.6 1841.7,715.3 1842.2,715 1842.8,714.7 1843.3,714.4 1843.8,714.1 1844.3,713.8 1844.9,713.5 1845.4,713.1 1845.9,712.8 1846.5,712.4 1847,712 1847.5,711.6 1848,711.2 1848.6,710.8 1849.1,710.4 1849.6,709.9 1850.2,709.5 1850.7,709 1851.2,708.5 1851.7,708 1852.3,707.4 1852.8,706.9 1853.3,706.3 1853.9,705.8 1854.4,705.2 1854.9,704.5 1855.4,703.9 1856,703.3 1856.5,702.6 1857,701.9 1857.6,701.2 1858.1,700.5 1858.6,699.7 1859.1,699 1859.7,698.2 1860.2,697.4 1860.7,696.6 1861.3,695.7 1861.8,694.8 1862.3,694 1862.8,693.1 1863.4,692.1 1863.9,691.2 1864.4,690.2 1865,689.2 1865.5,688.2 1866,687.2 1866.5,686.1 1867.1,685.1 1867.6,684 1868.1,682.8 1868.7,681.7 1869.2,680.6 1869.7,679.4 1870.2,678.2 1870.8,677 1871.3,675.7 1871.8,674.5 1872.4,673.2 1872.9,671.9 1873.4,670.6 1873.9,669.3 1874.5,667.9 1875,666.6 1875.5,665.2 1876.1,663.8 1876.6,662.4 1877.1,661 1877.6,659.6 1878.2,658.1 1878.7,656.7 1879.2,655.2 1879.8,653.7 1880.3,652.2 1880.8,650.7 1881.3,649.2 1881.9,647.7 1882.4,646.2 1882.9,644.7 1883.5,643.1 1884,641.6 1884.5,640.1 1885,638.5 1885.6,637 1886.1,635.4 1886.6,633.9 1887.2,632.4 1887.7,630.9 1888.2,629.3 1888.7,627.8 1889.3,626.3 1889.8,624.8 1890.3,623.3 1890.9,621.9 1891.4,620.4 1891.9,619 1892.4,617.6 1893,616.1 1893.5,614.8 1894,613.4 1894.6,612.1 1895.1,610.7 1895.6,609.4 1896.1,608.2 1896.7,606.9 1897.2,605.7 1897.7,604.6 1898.3,603.4 1898.8,602.3 1899.3,601.2 1899.8,600.2 1900.4,599.2 1900.9,598.2 1901.4,597.3 1902,596.5 1902.5,595.6 1903,594.8 1903.5,594.1 1904.1,593.4 1904.6,592.8 1905.1,592.2 1905.7,591.6 1906.2,591.1 1906.7,590.7 1907.2,590.3 1907.8,589.9 1908.3,589.6 1908.8,589.4 1909.4,589.2 1909.9,589.1 1910.4,589 1910.9,589 1911.5,589 1912,589.1 1912.5,589.2 1913.1,589.4 1913.6,589.7 1914.1,590 1914.6,590.3 1915.2,590.7 1915.7,591.1 1916.2,591.6 1916.8,592.2 1917.3,592.8 1917.8,593.4 1918.3,594.1 1918.9,594.8 1919.4,595.6 1919.9,596.4 1920.5,597.2 1921,598.1 1921.5,599 1922,600 1922.6,601 1923.1,602.1 1923.6,603.1 1924.2,604.2 1924.7,605.4 1925.2,606.6 1925.7,607.8 1926.3,609 1926.8,610.3 1927.3,611.6 1927.9,612.9 1928.4,614.3 1928.9,615.7 1929.4,617.1 1930,618.5 1930.5,620 1931,621.4 1931.6,622.9 1932.1,624.4 1932.6,625.9 1933.1,627.4 1933.7,628.9 1934.2,630.4 1934.7,631.9 1935.3,633.4 1935.8,634.9 1936.3,636.3 1936.8,637.7 1937.4,639.1 1937.9,640.4 1938.4,641.7 1939,642.9 1939.5,644 1940,645.1 1940.5,646.1 1941.1,647 1941.6,647.8 1942.1,648.5 1942.7,649 1943.2,649.5 1943.7,649.9 1944.2,650.1 1944.8,650.2 1945.3,650.2 1945.8,650 1946.4,649.7 1946.9,649.3 1947.4,648.8 1947.9,648.1 1948.5,647.3 1949,646.4 1949.5,645.4 1950.1,644.3 1950.6,643.1 1951.1,641.8 1951.6,640.5 1952.2,639.1 1952.7,637.6 1953.2,636.2 1953.8,634.7 1954.3,633.1 1954.8,631.6 1955.3,630.1 1955.9,628.7 1956.4,627.3 1956.9,625.9 1957.5,624.5 1958,623.3 1958.5,622 1959,620.9 1959.6,619.8 1960.1,618.7 1960.6,617.8 1961.2,616.8 1961.7,615.9 1962.2,615.1 1962.7,614.3 1963.3,613.4 1963.8,612.7 1964.3,611.9 1964.9,611.1 1965.4,610.2 1965.9,609.4 1966.4,608.5 1967,607.6 1967.5,606.7 1968,605.7 1968.6,604.6 1969.1,603.5 1969.6,602.3 1970.1,601.1 1970.7,599.8 1971.2,598.5 1971.7,597.1 1972.3,595.6 1972.8,594.1 1973.3,592.5 1973.8,590.9 1974.4,589.2 1974.9,587.5 1975.4,585.8 1976,584 1976.5,582.2 1977,580.4 1977.5,578.6 1978.1,576.8 1978.6,575 1979.1,573.1 1979.7,571.3 1980.2,569.5 1980.7,567.7 1981.2,565.9 1981.8,564.1 1982.3,562.4 1982.8,560.7 1983.4,559 1983.9,557.4 1984.4,555.8 1984.9,554.3 1985.5,552.8 1986,551.3 1986.5,549.9 1987.1,548.6 1987.6,547.3 1988.1,546 1988.6,544.8 1989.2,543.6 1989.7,542.5 1990.2,541.4 1990.8,540.4 1991.3,539.4 1991.8,538.5 1992.3,537.6 1992.9,536.7 1993.4,535.9 1993.9,535.1 1994.5,534.3 1995,533.5 1995.5,532.8 1996,532 1996.6,531.3 1997.1,530.5 1997.6,529.8 1998.2,529.1 1998.7,528.3 1999.2,527.5 1999.7,526.7 2000.3,525.9 2000.8,525 2001.3,524.1 2001.9,523.1 2002.4,522.1 2002.9,521.1 2003.4,520 2004,518.8 2004.5,517.5 2005,516.2 2005.6,514.8 2006.1,513.3 2006.6,511.8 2007.1,510.1 2007.7,508.4 2008.2,506.5 2008.7,504.6 2009.3,502.6 2009.8,500.4 2010.3,498.2 2010.8,495.8 2011.4,493.3 2011.9,490.7 2012.4,488 2013,485.2 2013.5,482.3 2014,479.2 2014.5,476.1 2015.1,472.8 2015.6,469.4 2016.1,465.8 2016.7,462.2 2017.2,458.5 2017.7,454.6 2018.2,450.6 2018.8,446.5 2019.3,442.3 2019.8,438 2020.4,433.6 2020.9,429.1 2021.4,424.5 2021.9,419.8 2022.5,415 2023,410.1 2023.5,405.1 2024.1,400.1 2024.6,395 2025.1,389.8 2025.6,384.6 2026.2,379.3 2026.7,374 2027.2,368.6 2027.8,363.2 2028.3,357.7 2028.8,352.2 2029.3,346.8 2029.9,341.3 2030.4,335.8 2030.9,330.3 2031.5,324.8 2032,319.4 2032.5,314 2033,308.6 2033.6,303.3 2034.1,298.1 2034.6,292.9 2035.2,287.8 2035.7,282.8 2036.2,277.9 2036.7,273.1 2037.3,268.4 2037.8,263.9 2038.3,259.4 2038.9,255.2 2039.4,251.1 2039.9,247.1 2040.4,243.3 2041,239.7 2041.5,236.3 2042,233.2 2042.6,230.2 2043.1,227.4 2043.6,224.8 2044.1,222.5 2044.7,220.5 2045.2,218.6 2045.7,217 2046.3,215.7 2046.8,214.7 2047.3,213.9 2047.8,213.3 2048.4,213.1 2048.9,213.1 2049.4,213.3 2050,213.9 2050.5,214.6 2051,215.6 2051.5,216.9 2052.1,218.4 2052.6,220.2 2053.1,222.2 2053.7,224.4 2054.2,226.8 2054.7,229.5 2055.2,232.4 2055.8,235.6 2056.3,238.9 2056.8,242.5 2057.4,246.2 2057.9,250.1 2058.4,254.3 2058.9,258.6 2059.5,263 2060,267.7 2060.5,272.5 2061.1,277.4 2061.6,282.5 2062.1,287.8 2062.6,293.1 2063.2,298.6 2063.7,304.2 2064.2,309.9 2064.8,315.6 2065.3,321.5 2065.8,327.5 2066.3,333.5 2066.9,339.6 2067.4,345.8 2067.9,352 2068.5,358.2 2069,364.5 2069.5,370.9 2070,377.2 2070.6,383.6 2071.1,390 2071.6,396.4 2072.2,402.8 2072.7,409.2 2073.2,415.6 2073.7,422 2074.3,428.3 2074.8,434.7 2075.3,441 2075.9,447.3 2076.4,453.5 2076.9,459.7 2077.4,465.8 2078,471.9 2078.5,478 2079,484 2079.5,489.9 2080.1,495.8 2080.6,501.6 2081.1,507.3 2081.7,512.9 2082.2,518.5 2082.7,524 2083.2,529.5 2083.8,534.8 2084.3,540.1 2084.8,545.2 2085.4,550.3 2085.9,555.3 2086.4,560.3 2086.9,565.1 2087.5,569.8 2088,574.5 2088.5,579 2089.1,583.5 2089.6,587.8 2090.1,592.1 2090.6,596.3 2091.2,600.4 2091.7,604.4 2092.2,608.3 2092.8,612.1 2093.3,615.8 2093.8,619.4 2094.3,622.9 2094.9,626.4 2095.4,629.7 2095.9,633 2096.5,636.2 2097,639.2 2097.5,642.2 2098,645.2 2098.6,648 2099.1,650.7 2099.6,653.4 2100.2,656 2100.7,658.5 2101.2,660.9 2101.7,663.3 2102.3,665.6 2102.8,667.8 2103.3,669.9 2103.9,672 2104.4,674 2104.9,675.9 2105.4,677.8 2106,679.6 2106.5,681.3 2107,683 2107.6,684.7 2108.1,686.2 2108.6,687.7 2109.1,689.2 2109.7,690.6 2110.2,692 2110.7,693.3 2111.3,694.5 2111.8,695.8 2112.3,696.9 2112.8,698 2113.4,699.1 2113.9,700.2 2114.4,701.2 2115,702.1 2115.5,703.1 2116,704 2116.5,704.8 2117.1,705.7 2117.6,706.5 2118.1,707.2 2118.7,708 2119.2,708.7 2119.7,709.4 2120.2,710 2120.8,710.7 2121.3,711.3 2121.8,711.8 2122.4,712.4 2122.9,713 2123.4,713.5 2123.9,714 2124.5,714.5 2125,714.9 2125.5,715.4 2126.1,715.8 2126.6,716.2 2127.1,716.6 2127.6,717 2128.2,717.4 2128.7,717.8 2129.2,718.1 2129.8,718.5 2130.3,718.8 2130.8,719.1 2131.3,719.4 2131.9,719.7 2132.4,720 2132.9,720.3 2133.5,720.5 2134,720.8 2134.5,721 2135,721.3 2135.6,721.5 2136.1,721.8 2136.6,722 2137.2,722.2 2137.7,722.4 2138.2,722.6 2138.7,722.8 2139.3,723 2139.8,723.2 2140.3,723.4 2140.9,723.6 2141.4,723.8 2141.9,723.9 2142.4,724.1 2143,724.3 2143.5,724.4 2144,724.6 2144.6,724.7 2145.1,724.9 2145.6,725.1 2146.1,725.2 2146.7,725.3 2147.2,725.5 2147.7,725.6 2148.3,725.8 2148.8,725.9 2149.3,726 2149.8,726.2 2150.4,726.3 2150.9,726.4 2151.4,726.5 2152,726.7 2152.5,726.8 2153,726.9 2153.5,727 2154.1,727.1 2154.6,727.2 2155.1,727.4 2155.7,727.5 2156.2,727.6 2156.7,727.7 2157.2,727.8 2157.8,727.9 2158.3,728 2158.8,728.1 2159.4,728.2 2159.9,728.3 2160.4,728.4 2160.9,728.5 2161.5,728.6 2162,728.7 2162.5,728.8 2163.1,728.9 2163.6,729 2164.1,729.1 2164.6,729.1 2165.2,729.2 2165.7,729.3 2166.2,729.4 2166.8,729.5 2167.3,729.6 2167.8,729.7 2168.3,729.7 2168.9,729.8 2169.4,729.9 2169.9,730 2170.5,730.1 2171,730.2 2171.5,730.2 2172,730.3 2172.6,730.4 2173.1,730.5 2173.6,730.5 2174.2,730.6 2174.7,730.7 2175.2,730.8 2175.7,730.8 2176.3,730.9 2176.8,731 2177.3,731.1 2177.9,731.1 2178.4,731.2 2178.9,731.3 2179.4,731.3 2180,731.4 2180.5,731.5 2181,731.5 2181.6,731.6 2182.1,731.7 2182.6,731.7 2183.1,731.8 2183.7,731.9 2184.2,731.9 2184.7,732 2185.3,732.1 2185.8,732.1 2186.3,732.2 2186.8,732.3 2187.4,732.3 2187.9,732.4 2188.4,732.4 2189,732.5 2189.5,732.6 2190,732.6 2190.5,732.7 2191.1,732.7 2191.6,732.8 2192.1,732.8 2192.7,732.9 2193.2,733 2193.7,733 2194.2,733.1 2194.8,733.1 2195.3,733.2 2195.8,733.2 2196.4,733.3 2196.9,733.3 2197.4,733.4 2197.9,733.5 2198.5,733.5 2199,733.6 2199.5,733.6 2200.1,733.7 2200.6,733.7 2201.1,733.8 2201.6,733.8 2202.2,733.9 2202.7,733.9 2203.2,734 2203.8,734 2204.3,734.1 2204.8,734.1 2205.3,734.2 2205.9,734.2 2206.4,734.3 2206.9,734.3 2207.5,734.4 2208,734.4 2208.5,734.4 2209,734.5 2209.6,734.5 2210.1,734.6 2210.6,734.6 2211.2,734.7 2211.7,734.7 2212.2,734.8 2212.7,734.8 2213.3,734.9 2213.8,734.9 2214.3,734.9 2214.9,735 2215.4,735 2215.9,735.1 2216.4,735.1 2217,735.2 2217.5,735.2 2218,735.2 2218.6,735.3 2219.1,735.3 2219.6,735.4 2220.1,735.4 2220.7,735.5 2221.2,735.5 2221.7,735.5 2222.3,735.6 2222.8,735.6 2223.3,735.7 2223.8,735.7 2224.4,735.7 2224.9,735.8 2225.4,735.8 2226,735.9 2226.5,735.9 2227,735.9 2227.5,736 2228.1,736 2228.6,736.1 2229.1,736.1 2229.7,736.1 2230.2,736.2 2230.7,736.2 2231.2,736.2 2231.8,736.3 2232.3,736.3 2232.8,736.4 2233.4,736.4 2233.9,736.4 2234.4,736.5 2234.9,736.5 2235.5,736.5 2236,736.6 2236.5,736.6 2237.1,736.7 2237.6,736.7 2238.1,736.7 2238.6,736.8 2239.2,736.8 2239.7,736.8 2240.2,736.9 2240.8,736.9 2241.3,736.9 2241.8,737 2242.3,737 2242.9,737 2243.4,737.1 2243.9,737.1 2244.5,737.1 2245,737.2 2245.5,737.2 2246,737.2 2246.6,737.3 2247.1,737.3" fill="none" stroke="#e0a000" stroke-width="4" stroke-linejoin="round"/>
<rect x="1425.5" y="104.5" width="923.5" height="747.6" stroke="#000" stroke-width="5.5" fill="none"/>
<line x1="2247.1" y1="852.1" x2="2247.1" y2="837.4" stroke="#000" stroke-width="4" stroke-linecap="butt"/>
<text x="2247.1" y="896.1" font-size="38.5" text-anchor="middle" font-weight="bold" fill="#000">280</text>
<line x1="2041.7" y1="852.1" x2="2041.7" y2="837.4" stroke="#000" stroke-width="4" stroke-linecap="butt"/>
<text x="2041.7" y="896.1" font-size="38.5" text-anchor="middle" font-weight="bold" fill="#000">285</text>
<line x1="1836.3" y1="852.1" x2="1836.3" y2="837.4" stroke="#000" stroke-width="4" stroke-linecap="butt"/>
<text x="1836.3" y="896.1" font-size="38.5" text-anchor="middle" font-weight="bold" fill="#000">290</text>
<line x1="1630.9" y1="852.1" x2="1630.9" y2="837.4" stroke="#000" stroke-width="4" stroke-linecap="butt"/>
<text x="1630.9" y="896.1" font-size="38.5" text-anchor="middle" font-weight="bold" fill="#000">295</text>
<line x1="1425.5" y1="852.1" x2="1425.5" y2="837.4" stroke="#000" stroke-width="4" stroke-linecap="butt"/>
<text x="1425.5" y="896.1" font-size="38.5" text-anchor="middle" font-weight="bold" fill="#000">300</text>
<line x1="2144.4" y1="852.1" x2="2144.4" y2="842.9" stroke="#000" stroke-width="4" stroke-linecap="butt"/>
<line x1="1939" y1="852.1" x2="1939" y2="842.9" stroke="#000" stroke-width="4" stroke-linecap="butt"/>
<line x1="1733.6" y1="852.1" x2="1733.6" y2="842.9" stroke="#000" stroke-width="4" stroke-linecap="butt"/>
<line x1="1528.2" y1="852.1" x2="1528.2" y2="842.9" stroke="#000" stroke-width="4" stroke-linecap="butt"/>
<line x1="1425.5" y1="783.4" x2="1440.2" y2="783.4" stroke="#000" stroke-width="4" stroke-linecap="butt"/>
<text x="1406" y="792.4" font-size="38.5" text-anchor="end" font-weight="bold" fill="#000">0</text>
<line x1="1425.5" y1="647.6" x2="1440.2" y2="647.6" stroke="#000" stroke-width="4" stroke-linecap="butt"/>
<text x="1406" y="656.6" font-size="38.5" text-anchor="end" font-weight="bold" fill="#000">2000</text>
<line x1="1425.5" y1="511.8" x2="1440.2" y2="511.8" stroke="#000" stroke-width="4" stroke-linecap="butt"/>
<text x="1406" y="520.8" font-size="38.5" text-anchor="end" font-weight="bold" fill="#000">4000</text>
<line x1="1425.5" y1="376.1" x2="1440.2" y2="376.1" stroke="#000" stroke-width="4" stroke-linecap="butt"/>
<text x="1406" y="385.1" font-size="38.5" text-anchor="end" font-weight="bold" fill="#000">6000</text>
<line x1="1425.5" y1="240.3" x2="1440.2" y2="240.3" stroke="#000" stroke-width="4" stroke-linecap="butt"/>
<text x="1406" y="249.3" font-size="38.5" text-anchor="end" font-weight="bold" fill="#000">8000</text>
<line x1="1425.5" y1="104.5" x2="1440.2" y2="104.5" stroke="#000" stroke-width="4" stroke-linecap="butt"/>
<text x="1406" y="113.5" font-size="38.5" text-anchor="end" font-weight="bold" fill="#000">10000</text>
<line x1="1425.5" y1="715.5" x2="1434.8" y2="715.5" stroke="#000" stroke-width="4" stroke-linecap="butt"/>
<line x1="1425.5" y1="579.7" x2="1434.8" y2="579.7" stroke="#000" stroke-width="4" stroke-linecap="butt"/>
<line x1="1425.5" y1="444" x2="1434.8" y2="444" stroke="#000" stroke-width="4" stroke-linecap="butt"/>
<line x1="1425.5" y1="308.2" x2="1434.8" y2="308.2" stroke="#000" stroke-width="4" stroke-linecap="butt"/>
<line x1="1425.5" y1="172.4" x2="1434.8" y2="172.4" stroke="#000" stroke-width="4" stroke-linecap="butt"/>
<text x="1339.7" y="60" font-size="71" text-anchor="start" font-weight="bold" fill="#000" textLength="86" lengthAdjust="spacingAndGlyphs">(b)</text>
<text x="1264" y="459.5" font-size="56" text-anchor="middle" font-weight="bold" fill="#000" textLength="171" lengthAdjust="spacingAndGlyphs" transform="rotate(-90 1264 459.5)">Counts</text>
<text x="1647.4" y="982" font-size="54" text-anchor="start" font-weight="bold" fill="#000" textLength="479.5" lengthAdjust="spacingAndGlyphs">Binding Energy(eV)</text>
<rect x="2079.6" y="104.5" width="269.4" height="210.1" stroke="#000" stroke-width="5.5" fill="#fff"/>
<line x1="2079" y1="126.7" x2="2107.2" y2="126.7" stroke="#333" stroke-width="4.5" stroke-linecap="butt"/>
<text x="2111.3" y="131.2" font-size="31.5" text-anchor="start" font-weight="bold" fill="#000" textLength="234.7" lengthAdjust="spacingAndGlyphs">284.8eV (C-C/C=C)</text>
<line x1="2079" y1="162.5" x2="2107.2" y2="162.5" stroke="#ff1a1a" stroke-width="4.5" stroke-linecap="butt"/>
<text x="2111.3" y="167" font-size="31.5" text-anchor="start" font-weight="bold" fill="#000" textLength="173.5" lengthAdjust="spacingAndGlyphs">288.2eV(C=O)</text>
<line x1="2079" y1="197.2" x2="2107.2" y2="197.2" stroke="#0050e0" stroke-width="4.5" stroke-linecap="butt"/>
<text x="2111.3" y="201.7" font-size="31.5" text-anchor="start" font-weight="bold" fill="#000" textLength="165.3" lengthAdjust="spacingAndGlyphs">286.2eV(C-N)</text>
<line x1="2079" y1="230.9" x2="2107.2" y2="230.9" stroke="#00b060" stroke-width="4.5" stroke-linecap="butt"/>
<text x="2111.3" y="235.4" font-size="31.5" text-anchor="start" font-weight="bold" fill="#000" textLength="165.3" lengthAdjust="spacingAndGlyphs">287.0eV(C-O)</text>
<line x1="2079" y1="266.6" x2="2107.2" y2="266.6" stroke="#c070e8" stroke-width="4.5" stroke-linecap="butt"/>
<text x="2111.3" y="271.1" font-size="31.5" text-anchor="start" font-weight="bold" fill="#000" textLength="105" lengthAdjust="spacingAndGlyphs">Backgnd</text>
<line x1="2079" y1="302.3" x2="2107.2" y2="302.3" stroke="#e0a000" stroke-width="4.5" stroke-linecap="butt"/>
<text x="2111.3" y="306.8" font-size="31.5" text-anchor="start" font-weight="bold" fill="#000" textLength="55" lengthAdjust="spacingAndGlyphs">C 1s</text>
<path d="M486.6,1832.6 487.3,1832.6 488,1832.6 488.6,1832.6 489.3,1832.6 490,1832.6 490.6,1832.6 491.3,1832.6 491.9,1832.6 492.6,1832.6 493.3,1832.6 493.9,1832.6 494.6,1832.6 495.3,1832.6 495.9,1832.6 496.6,1832.6 497.2,1832.6 497.9,1832.6 498.6,1832.6 499.2,1832.6 499.9,1832.6 500.6,1832.6 501.2,1832.6 501.9,1832.6 502.6,1832.6 503.2,1832.6 503.9,1832.6 504.5,1832.6 505.2,1832.6 505.9,1832.6 506.5,1832.6 507.2,1832.6 507.9,1832.6 508.5,1832.6 509.2,1832.6 509.8,1832.6 510.5,1832.6 511.2,1832.6 511.8,1832.6 512.5,1832.6 513.2,1832.6 513.8,1832.6 514.5,1832.6 515.2,1832.6 515.8,1832.6 516.5,1832.6 517.1,1832.6 517.8,1832.6 518.5,1832.6 519.1,1832.6 519.8,1832.6 520.5,1832.6 521.1,1832.6 521.8,1832.6 522.4,1832.6 523.1,1832.6 523.8,1832.6 524.4,1832.6 525.1,1832.6 525.8,1832.6 526.4,1832.6 527.1,1832.6 527.8,1832.6 528.4,1832.6 529.1,1832.6 529.7,1832.6 530.4,1832.6 531.1,1832.6 531.7,1832.6 532.4,1832.6 533.1,1832.6 533.7,1832.6 534.4,1832.6 535,1832.6 535.7,1832.6 536.4,1832.6 537,1832.6 537.7,1832.6 538.4,1832.6 539,1832.6 539.7,1832.6 540.4,1832.6 541,1832.6 541.7,1832.6 542.3,1832.6 543,1832.6 543.7,1832.6 544.3,1832.6 545,1832.6 545.7,1832.6 546.3,1832.6 547,1832.6 547.6,1832.6 548.3,1832.6 549,1832.6 549.6,1832.6 550.3,1832.6 551,1832.6 551.6,1832.6 552.3,1832.6 553,1832.6 553.6,1832.6 554.3,1832.6 554.9,1832.6 555.6,1832.6 556.3,1832.6 556.9,1832.6 557.6,1832.6 558.3,1832.6 558.9,1832.6 559.6,1832.6 560.2,1832.6 560.9,1832.6 561.6,1832.6 562.2,1832.6 562.9,1832.6 563.6,1832.6 564.2,1832.6 564.9,1832.6 565.6,1832.6 566.2,1832.6 566.9,1832.6 567.5,1832.6 568.2,1832.6 568.9,1832.6 569.5,1832.6 570.2,1832.6 570.9,1832.6 571.5,1832.6 572.2,1832.6 572.8,1832.6 573.5,1832.6 574.2,1832.6 574.8,1832.6 575.5,1832.6 576.2,1832.6 576.8,1832.6 577.5,1832.6 578.2,1832.6 578.8,1832.6 579.5,1832.6 580.1,1832.6 580.8,1832.6 581.5,1832.6 582.1,1832.6 582.8,1832.6 583.5,1832.6 584.1,1832.6 584.8,1832.6 585.4,1832.6 586.1,1832.6 586.8,1832.6 587.4,1832.6 588.1,1832.6 588.8,1832.6 589.4,1832.6 590.1,1832.6 590.8,1832.6 591.4,1832.6 592.1,1832.6 592.7,1832.6 593.4,1832.6 594.1,1832.6 594.7,1832.6 595.4,1832.6 596.1,1832.6 596.7,1832.6 597.4,1832.6 598,1832.6 598.7,1832.6 599.4,1832.6 600,1832.6 600.7,1832.6 601.4,1832.6 602,1832.6 602.7,1832.6 603.4,1832.6 604,1832.6 604.7,1832.6 605.3,1832.6 606,1832.6 606.7,1832.6 607.3,1832.6 608,1832.6 608.7,1832.6 609.3,1832.6 610,1832.6 610.6,1832.6 611.3,1832.6 612,1832.6 612.6,1832.6 613.3,1832.6 614,1832.6 614.6,1832.6 615.3,1832.6 616,1832.6 616.6,1832.6 617.3,1832.6 617.9,1832.6 618.6,1832.6 619.3,1832.6 619.9,1832.6 620.6,1832.6 621.3,1832.6 621.9,1832.6 622.6,1832.6 623.2,1832.6 623.9,1832.6 624.6,1832.6 625.2,1832.6 625.9,1832.6 626.6,1832.6 627.2,1832.6 627.9,1832.6 628.6,1832.6 629.2,1832.6 629.9,1832.6 630.5,1832.6 631.2,1832.6 631.9,1832.6 632.5,1832.6 633.2,1832.6 633.9,1832.6 634.5,1832.6 635.2,1832.6 635.8,1832.6 636.5,1832.6 637.2,1832.6 637.8,1832.6 638.5,1832.6 639.2,1832.6 639.8,1832.6 640.5,1832.6 641.2,1832.6 641.8,1832.6 642.5,1832.6 643.1,1832.6 643.8,1832.6 644.5,1832.6 645.1,1832.6 645.8,1832.6 646.5,1832.6 647.1,1832.6 647.8,1832.6 648.4,1832.6 649.1,1832.6 649.8,1832.6 650.4,1832.6 651.1,1832.6 651.8,1832.6 652.4,1832.6 653.1,1832.6 653.8,1832.6 654.4,1832.6 655.1,1832.6 655.7,1832.6 656.4,1832.6 657.1,1832.6 657.7,1832.6 658.4,1832.6 659.1,1832.6 659.7,1832.6 660.4,1832.6 661,1832.6 661.7,1832.6 662.4,1832.6 663,1832.6 663.7,1832.6 664.4,1832.6 665,1832.6 665.7,1832.6 666.4,1832.6 667,1832.6 667.7,1832.6 668.3,1832.6 669,1832.6 669.7,1832.6 670.3,1832.6 671,1832.6 671.7,1832.6 672.3,1832.6 673,1832.6 673.6,1832.6 674.3,1832.6 675,1832.6 675.6,1832.6 676.3,1832.6 677,1832.6 677.6,1832.6 678.3,1832.6 679,1832.6 679.6,1832.6 680.3,1832.6 680.9,1832.6 681.6,1832.6 682.3,1832.6 682.9,1832.6 683.6,1832.6 684.3,1832.6 684.9,1832.6 685.6,1832.6 686.2,1832.6 686.9,1832.6 687.6,1832.6 688.2,1832.6 688.9,1832.6 689.6,1832.6 690.2,1832.6 690.9,1832.6 691.6,1832.6 692.2,1832.6 692.9,1832.6 693.5,1832.6 694.2,1832.6 694.9,1832.6 695.5,1832.6 696.2,1832.6 696.9,1832.6 697.5,1832.6 698.2,1832.6 698.8,1832.6 699.5,1832.6 700.2,1832.6 700.8,1832.6 701.5,1832.6 702.2,1832.6 702.8,1832.6 703.5,1832.6 704.2,1832.6 704.8,1832.6 705.5,1832.6 706.1,1832.6 706.8,1832.6 707.5,1832.6 708.1,1832.6 708.8,1832.6 709.5,1832.6 710.1,1832.6 710.8,1832.6 711.4,1832.6 712.1,1832.6 712.8,1832.6 713.4,1832.6 714.1,1832.6 714.8,1832.6 715.4,1832.6 716.1,1832.6 716.8,1832.6 717.4,1832.6 718.1,1832.6 718.7,1832.6 719.4,1832.6 720.1,1832.6 720.7,1832.6 721.4,1835.1 722.1,1835.1 722.7,1835.1 723.4,1835.1 724,1835.1 724.7,1835.1 725.4,1835.1 726,1835.1 726.7,1835.1 727.4,1835.1 728,1835.1 728.7,1835.1 729.4,1835.1 730,1835.1 730.7,1835.1 731.3,1835.1 732,1835.1 732.7,1835.1 733.3,1835.1 734,1835.1 734.7,1835.1 735.3,1835.1 736,1835.1 736.6,1835.1 737.3,1835.1 738,1835.1 738.6,1835.1 739.3,1835.1 740,1835.1 740.6,1835.1 741.3,1835.1 742,1835.1 742.6,1835.1 743.3,1835.1 743.9,1835.1 744.6,1835.1 745.3,1835.1 745.9,1835.1 746.6,1835.1 747.3,1835.1 747.9,1835.1 748.6,1835.1 749.2,1835.1 749.9,1835.1 750.6,1835.1 751.2,1835.1 751.9,1835.1 752.6,1835.1 753.2,1835.1 753.9,1835.1 754.6,1835.1 755.2,1835.1 755.9,1835.1 756.5,1835.1 757.2,1835.1 757.9,1835.1 758.5,1835.1 759.2,1835.1 759.9,1835.1 760.5,1835.1 761.2,1835.1 761.8,1835.1 762.5,1835.1 763.2,1835.1 763.8,1835.1 764.5,1835.1 765.2,1835.1 765.8,1835.1 766.5,1835.1 767.2,1835.1 767.8,1835.1 768.5,1835.1 769.1,1835.1 769.8,1835.1 770.5,1835.1 771.1,1835.1 771.8,1835.1 772.5,1835.1 773.1,1835.1 773.8,1835.1 774.4,1835.1 775.1,1835.1 775.8,1835.1 776.4,1835.1 777.1,1835.1 777.8,1835.1 778.4,1835.1 779.1,1835.1 779.8,1835.1 780.4,1835.1 781.1,1835.1 781.7,1835.1 782.4,1835.1 783.1,1835.1 783.7,1835.1 784.4,1835.1 785.1,1835.1 785.7,1835.1 786.4,1835.1 787,1835.1 787.7,1835.1 788.4,1835.1 789,1835.1 789.7,1835.1 790.4,1835.1 791,1835.1 791.7,1835.1 792.4,1835.1 793,1835.1 793.7,1835.1 794.3,1835.1 795,1835.1 795.7,1835.1 796.3,1835.1 797,1835.1 797.7,1835.1 798.3,1835.1 799,1835.1 799.6,1835.1 800.3,1835.1 801,1835.1 801.6,1835.1 802.3,1835.1 803,1835.1 803.6,1835.1 804.3,1835.1 805,1835.1 805.6,1835.1 806.3,1835.1 806.9,1835.1 807.6,1835.1 808.3,1835.1 808.9,1835.1 809.6,1835.1 810.3,1835.1 810.9,1835.1 811.6,1835.1 812.2,1835.1 812.9,1835.1 813.6,1835.1 814.2,1835.1 814.9,1835.1 815.6,1835.1 816.2,1835.1 816.9,1835.1 817.6,1835.1 818.2,1835.1 818.9,1835.1 819.5,1839.1 820.2,1839.1 820.9,1839.1 821.5,1839.1 822.2,1839.1 822.9,1839.1 823.5,1839.1 824.2,1839.1 824.8,1839.1 825.5,1839.1 826.2,1839.1 826.8,1839.1 827.5,1839.1 828.2,1839.1 828.8,1839.1 829.5,1839.1 830.2,1839.1 830.8,1839.1 831.5,1839.1 832.1,1839.1 832.8,1839.1 833.5,1839.1 834.1,1839.1 834.8,1839.1 835.5,1839.1 836.1,1839.1 836.8,1839.1 837.4,1839.1 838.1,1839.1 838.8,1839.1 839.4,1839.1 840.1,1839.1 840.8,1839.1 841.4,1839.1 842.1,1839.1 842.8,1839.1 843.4,1839.1 844.1,1839.1 844.7,1839.1 845.4,1839.1 846.1,1839.1 846.7,1839.1 847.4,1839.1 848.1,1839.1 848.7,1839.1 849.4,1839.1 850,1839.1 850.7,1839.1 851.4,1839.1 852,1839.1 852.7,1839.1 853.4,1839.1 854,1839.1 854.7,1839.1 855.4,1839.1 856,1839.1 856.7,1839.1 857.3,1839.1 858,1839.1 858.7,1839.1 859.3,1839.1 860,1839.1 860.7,1839.1 861.3,1839.1 862,1839.1 862.6,1839.1 863.3,1839.1 864,1839.1 864.6,1839.1 865.3,1839.1 866,1839.1 866.6,1839.1 867.3,1839.1 868,1839.1 868.6,1839.1 869.3,1839.1 869.9,1839.1 870.6,1839.1 871.3,1839.1 871.9,1839.1 872.6,1839.1 873.3,1839.1 873.9,1839.1 874.6,1839.1 875.2,1839.1 875.9,1839.1 876.6,1839.1 877.2,1839.1 877.9,1839.1 878.6,1839.1 879.2,1839.1 879.9,1839.1 880.6,1839.1 881.2,1839.1 881.9,1839.1 882.5,1839.1 883.2,1839.1 883.9,1839.1 884.5,1839.1 885.2,1839.1 885.9,1839.1 886.5,1839.1 887.2,1839.1 887.8,1839.1 888.5,1839.1 889.2,1839.1 889.8,1839.1 890.5,1839.1 891.2,1839.1 891.8,1839.1 892.5,1839.1 893.1,1839.1 893.8,1839.1 894.5,1839.1 895.1,1839.1 895.8,1839.1 896.5,1839.1 897.1,1839.1 897.8,1839.1 898.5,1839.1 899.1,1839.1 899.8,1839.1 900.4,1839.1 901.1,1839.1 901.8,1839.1 902.4,1839.1 903.1,1839.1 903.8,1839.1 904.4,1839.1 905.1,1839.1 905.7,1839.1 906.4,1839.1 907.1,1839.1 907.7,1839.1 908.4,1839.1 909.1,1839.1 909.7,1839.1 910.4,1839.1 911.1,1839.1 911.7,1839.1 912.4,1839.1 913,1839.1 913.7,1839.1 914.4,1839.1 915,1839.1 915.7,1839.1 916.4,1839.1 917,1839.1 917.7,1839.1 918.3,1839.1 919,1839.1 919.7,1839.1 920.3,1839.1 921,1839.1 921.7,1839.1 922.3,1839.1 923,1839.1 923.7,1839.1 924.3,1839.1 925,1839.1 925.6,1839.1 926.3,1839.1 927,1839.1 927.6,1839.1 928.3,1839.1 929,1839.1 929.6,1839.1 930.3,1839.1 930.9,1839.1 931.6,1839.1 932.3,1839.1 932.9,1839.1 933.6,1839.1 934.3,1839.1 934.9,1839.1 935.6,1839.1 936.3,1839.1 936.9,1839.1 937.6,1839.1 938.2,1839.1 938.9,1839.1 939.6,1839.1 940.2,1839.1 940.9,1839.1 941.6,1839.1 942.2,1839.1 942.9,1839.1 943.5,1839.1 944.2,1839.1 944.9,1839.1 945.5,1839.1 946.2,1839.1 946.9,1839.1 947.5,1839.1 948.2,1839.1 948.9,1839.1 949.5,1839.1 950.2,1839.1 950.8,1839.1 951.5,1839.1 952.2,1839.1 952.8,1839.1 953.5,1839.1 954.2,1839.1 954.8,1839.1 955.5,1839.1 956.1,1839.1 956.8,1839.1 957.5,1839.1 958.1,1839.1 958.8,1839.1 959.5,1839.1 960.1,1839.1 960.8,1839.1 961.5,1839.1 962.1,1839.1 962.8,1839.1 963.4,1839.1 964.1,1839.1 964.8,1839.1 965.4,1839.1 966.1,1839.1 966.8,1839.1 967.4,1839.1 968.1,1839.1 968.7,1839.1 969.4,1839.1 970.1,1839.1 970.7,1839.1 971.4,1839.1 972.1,1839.1 972.7,1839.1 973.4,1839.1 974.1,1839.1 974.7,1839.1 975.4,1839.1 976,1839.1 976.7,1839.1 977.4,1839.1 978,1839.1 978.7,1839.1 979.4,1839.1 980,1839.1 980.7,1839.1 981.3,1839.1 982,1839.1 982.7,1839.1 983.3,1839.1 984,1839.1 984.7,1839.1 985.3,1839.1 986,1839.1 986.7,1839.1 987.3,1839.1 988,1839.1 988.6,1839.1 989.3,1839.1 990,1839.1 990.6,1839.1 991.3,1839.1 992,1839.1 992.6,1839.1 993.3,1839.1 993.9,1839.1 994.6,1839.1 995.3,1839.1 995.9,1839.1 996.6,1839.1 997.3,1839.1 997.9,1839.1 998.6,1839.1 999.3,1839.1 999.9,1839.1 1000.6,1839.1 1001.2,1839.1 1001.9,1839.1 1002.6,1839.1 1003.2,1839.1 1003.9,1839.1 1004.6,1839.1 1005.2,1839.1 1005.9,1839.1 1006.5,1839.1 1007.2,1839.1 1007.9,1839.1 1008.5,1839.1 1009.2,1839.1 1009.9,1839.1 1010.5,1839.1 1011.2,1839.1 1011.9,1839.1 1012.5,1839.1 1013.2,1839.1 1013.8,1839.1 1014.5,1839.1 1015.2,1839.1 1015.8,1839.1 1016.5,1839.1 1017.2,1839.1 1017.8,1839.1 1018.5,1839.1 1019.1,1839.1 1019.8,1839.1 1020.5,1839.1 1021.1,1839.1 1021.8,1839.1 1022.5,1839.1 1023.1,1839.1 1023.8,1839.1 1024.5,1839.1 1025.1,1839.1 1025.8,1839.1 1026.4,1839.1 1027.1,1839.1 1027.8,1839.1 1028.4,1839.1 1029.1,1839.1 1029.8,1839.1 1030.4,1839.1 1031.1,1839.1 1031.7,1839.1 1032.4,1839.1 1033.1,1839.1 1033.7,1839.1 1034.4,1839.1 1035.1,1839.1 1035.7,1839.1 1036.4,1839.1 1037.1,1839.1 1037.7,1839.1 1038.4,1839.1 1039,1839.1 1039.7,1839.1 1040.4,1839.1 1041,1839.1 1041.7,1839.1 1042.4,1839.1 1043,1839.1 1043.7,1839.1 1044.3,1839.1 1045,1839.1 1045.7,1839.1 1046.3,1839.1 1047,1839.1 1047.7,1839.1 1048.3,1839.1 1049,1839.1 1049.7,1839.1 1050.3,1839.1 1051,1839.1 1051.6,1839.1 1052.3,1839.1 1053,1839.1 1053.6,1839.1 1054.3,1839.1 1055,1839.1 1055.6,1839.1 1056.3,1839.1 1056.9,1839.1 1057.6,1839.1 1058.3,1839.1 1058.9,1839.1 1059.6,1839.1 1060.3,1839.1 1060.9,1839.1 1061.6,1839.1 1062.3,1839.1 1062.9,1839.1 1063.6,1839.1 1064.2,1839.1 1064.9,1839.1 1065.6,1839.1 1066.2,1839.1 1066.9,1839.1 1067.6,1839.1 1068.2,1839.1 1068.9,1839.1 1069.5,1839.1 1070.2,1839.1" fill="none" stroke="#00b060" stroke-width="4" stroke-linejoin="round"/>
<path d="M574.2,1823.2 574.8,1823.2 575.5,1823.1 576.2,1823.1 576.8,1823 577.5,1823 578.2,1822.9 578.8,1822.8 579.5,1822.8 580.1,1822.7 580.8,1822.7 581.5,1822.6 582.1,1822.5 582.8,1822.5 583.5,1822.4 584.1,1822.3 584.8,1822.3 585.4,1822.2 586.1,1822.1 586.8,1822.1 587.4,1822 588.1,1821.9 588.8,1821.9 589.4,1821.8 590.1,1821.7 590.8,1821.7 591.4,1821.6 592.1,1821.5 592.7,1821.4 593.4,1821.4 594.1,1821.3 594.7,1821.2 595.4,1821.1 596.1,1821.1 596.7,1821 597.4,1820.9 598,1820.8 598.7,1820.7 599.4,1820.7 600,1820.6 600.7,1820.5 601.4,1820.4 602,1820.3 602.7,1820.2 603.4,1820.2 604,1820.1 604.7,1820 605.3,1819.9 606,1819.8 606.7,1819.7 607.3,1819.6 608,1819.5 608.7,1819.4 609.3,1819.3 610,1819.2 610.6,1819.1 611.3,1819 612,1818.9 612.6,1818.8 613.3,1818.7 614,1818.6 614.6,1818.5 615.3,1818.4 616,1818.3 616.6,1818.1 617.3,1818 617.9,1817.9 618.6,1817.8 619.3,1817.7 619.9,1817.5 620.6,1817.4 621.3,1817.3 621.9,1817.2 622.6,1817 623.2,1816.9 623.9,1816.7 624.6,1816.6 625.2,1816.5 625.9,1816.3 626.6,1816.2 627.2,1816 627.9,1815.9 628.6,1815.7 629.2,1815.6 629.9,1815.4 630.5,1815.2 631.2,1815.1 631.9,1814.9 632.5,1814.7 633.2,1814.5 633.9,1814.3 634.5,1814.2 635.2,1814 635.8,1813.8 636.5,1813.6 637.2,1813.4 637.8,1813.2 638.5,1812.9 639.2,1812.7 639.8,1812.5 640.5,1812.3 641.2,1812 641.8,1811.8 642.5,1811.6 643.1,1811.3 643.8,1811 644.5,1810.8 645.1,1810.5 645.8,1810.2 646.5,1809.9 647.1,1809.6 647.8,1809.3 648.4,1809 649.1,1808.7 649.8,1808.4 650.4,1808.1 651.1,1807.7 651.8,1807.4 652.4,1807 653.1,1806.6 653.8,1806.3 654.4,1805.9 655.1,1805.5 655.7,1805.1 656.4,1804.6 657.1,1804.2 657.7,1803.8 658.4,1803.3 659.1,1802.8 659.7,1802.4 660.4,1801.9 661,1801.3 661.7,1800.8 662.4,1800.3 663,1799.7 663.7,1799.2 664.4,1798.6 665,1798 665.7,1797.4 666.4,1796.7 667,1796.1 667.7,1795.4 668.3,1794.7 669,1794 669.7,1793.3 670.3,1792.5 671,1791.7 671.7,1790.9 672.3,1790.1 673,1789.3 673.6,1788.4 674.3,1787.6 675,1786.6 675.6,1785.7 676.3,1784.8 677,1783.8 677.6,1782.8 678.3,1781.7 679,1780.7 679.6,1779.6 680.3,1778.5 680.9,1777.3 681.6,1776.1 682.3,1774.9 682.9,1773.7 683.6,1772.4 684.3,1771.1 684.9,1769.8 685.6,1768.4 686.2,1767 686.9,1765.5 687.6,1764.1 688.2,1762.5 688.9,1761 689.6,1759.4 690.2,1757.8 690.9,1756.1 691.6,1754.4 692.2,1752.7 692.9,1750.9 693.5,1749.1 694.2,1747.2 694.9,1745.3 695.5,1743.3 696.2,1741.3 696.9,1739.3 697.5,1737.2 698.2,1735.1 698.8,1732.9 699.5,1730.7 700.2,1728.4 700.8,1726.1 701.5,1723.7 702.2,1721.3 702.8,1718.8 703.5,1716.3 704.2,1713.8 704.8,1711.1 705.5,1708.5 706.1,1705.8 706.8,1703 707.5,1700.2 708.1,1697.3 708.8,1694.4 709.5,1691.4 710.1,1688.4 710.8,1685.3 711.4,1682.2 712.1,1679 712.8,1675.8 713.4,1672.5 714.1,1669.2 714.8,1665.8 715.4,1662.4 716.1,1658.9 716.8,1655.3 717.4,1651.7 718.1,1648.1 718.7,1644.4 719.4,1640.6 720.1,1636.8 720.7,1633 721.4,1631.6 722.1,1627.6 722.7,1623.6 723.4,1619.5 724,1615.4 724.7,1611.3 725.4,1607.1 726,1602.9 726.7,1598.6 727.4,1594.3 728,1589.9 728.7,1585.5 729.4,1581 730,1576.5 730.7,1572 731.3,1567.4 732,1562.8 732.7,1558.1 733.3,1553.4 734,1548.7 734.7,1544 735.3,1539.2 736,1534.4 736.6,1529.5 737.3,1524.7 738,1519.8 738.6,1514.9 739.3,1510 740,1505 740.6,1500 741.3,1495 742,1490 742.6,1485 743.3,1480 743.9,1475 744.6,1470 745.3,1464.9 745.9,1459.9 746.6,1454.9 747.3,1449.8 747.9,1444.8 748.6,1439.8 749.2,1434.8 749.9,1429.8 750.6,1424.8 751.2,1419.9 751.9,1415 752.6,1410.1 753.2,1405.2 753.9,1400.3 754.6,1395.5 755.2,1390.8 755.9,1386 756.5,1381.4 757.2,1376.7 757.9,1372.1 758.5,1367.6 759.2,1363.1 759.9,1358.7 760.5,1354.3 761.2,1350 761.8,1345.8 762.5,1341.7 763.2,1337.6 763.8,1333.6 764.5,1329.7 765.2,1325.9 765.8,1322.2 766.5,1318.5 767.2,1315 767.8,1311.6 768.5,1308.2 769.1,1305 769.8,1301.9 770.5,1298.9 771.1,1296 771.8,1293.2 772.5,1290.5 773.1,1288 773.8,1285.6 774.4,1283.4 775.1,1281.2 775.8,1279.2 776.4,1277.4 777.1,1275.6 777.8,1274.1 778.4,1272.6 779.1,1271.3 779.8,1270.2 780.4,1269.2 781.1,1268.3 781.7,1267.6 782.4,1267.1 783.1,1266.7 783.7,1266.4 784.4,1266.3 785.1,1266.4 785.7,1266.6 786.4,1267 787,1267.5 787.7,1268.2 788.4,1269 789,1270 789.7,1271.1 790.4,1272.3 791,1273.7 791.7,1275.3 792.4,1277 793,1278.8 793.7,1280.8 794.3,1282.9 795,1285.1 795.7,1287.5 796.3,1290 797,1292.6 797.7,1295.4 798.3,1298.2 799,1301.2 799.6,1304.3 800.3,1307.5 801,1310.8 801.6,1314.2 802.3,1317.8 803,1321.4 803.6,1325.1 804.3,1328.9 805,1332.8 805.6,1336.7 806.3,1340.8 806.9,1344.9 807.6,1349.1 808.3,1353.4 808.9,1357.7 809.6,1362.2 810.3,1366.6 810.9,1371.1 811.6,1375.7 812.2,1380.3 812.9,1385 813.6,1389.7 814.2,1394.5 814.9,1399.3 815.6,1404.1 816.2,1409 816.9,1413.9 817.6,1418.8 818.2,1423.8 818.9,1428.7 819.5,1437.7 820.2,1442.7 820.9,1447.7 821.5,1452.7 822.2,1457.8 822.9,1462.8 823.5,1467.8 824.2,1472.9 824.8,1477.9 825.5,1482.9 826.2,1487.9 826.8,1493 827.5,1498 828.2,1502.9 828.8,1507.9 829.5,1512.9 830.2,1517.8 830.8,1522.7 831.5,1527.6 832.1,1532.5 832.8,1537.3 833.5,1542.1 834.1,1546.9 834.8,1551.7 835.5,1556.4 836.1,1561.1 836.8,1565.8 837.4,1570.4 838.1,1575 838.8,1579.5 839.4,1584 840.1,1588.5 840.8,1592.9 841.4,1597.3 842.1,1601.6 842.8,1605.9 843.4,1610.2 844.1,1614.4 844.7,1618.5 845.4,1622.7 846.1,1626.7 846.7,1630.7 847.4,1634.7 848.1,1638.6 848.7,1642.5 849.4,1646.3 850,1650.1 850.7,1653.8 851.4,1657.4 852,1661 852.7,1664.6 853.4,1668.1 854,1671.5 854.7,1674.9 855.4,1678.3 856,1681.6 856.7,1684.8 857.3,1688 858,1691.2 858.7,1694.2 859.3,1697.3 860,1700.3 860.7,1703.2 861.3,1706.1 862,1708.9 862.6,1711.7 863.3,1714.4 864,1717.1 864.6,1719.7 865.3,1722.3 866,1724.8 866.6,1727.2 867.3,1729.7 868,1732 868.6,1734.4 869.3,1736.7 869.9,1738.9 870.6,1741.1 871.3,1743.2 871.9,1745.3 872.6,1747.4 873.3,1749.4 873.9,1751.3 874.6,1753.3 875.2,1755.1 875.9,1757 876.6,1758.8 877.2,1760.5 877.9,1762.2 878.6,1763.9 879.2,1765.5 879.9,1767.1 880.6,1768.7 881.2,1770.2 881.9,1771.7 882.5,1773.2 883.2,1774.6 883.9,1776 884.5,1777.3 885.2,1778.6 885.9,1779.9 886.5,1781.1 887.2,1782.4 887.8,1783.5 888.5,1784.7 889.2,1785.8 889.8,1786.9 890.5,1788 891.2,1789 891.8,1790 892.5,1791 893.1,1792 893.8,1792.9 894.5,1793.8 895.1,1794.7 895.8,1795.6 896.5,1796.4 897.1,1797.3 897.8,1798.1 898.5,1798.8 899.1,1799.6 899.8,1800.3 900.4,1801 901.1,1801.7 901.8,1802.4 902.4,1803.1 903.1,1803.7 903.8,1804.3 904.4,1804.9 905.1,1805.5 905.7,1806.1 906.4,1806.7 907.1,1807.2 907.7,1807.7 908.4,1808.2 909.1,1808.7 909.7,1809.2 910.4,1809.7 911.1,1810.2 911.7,1810.6 912.4,1811 913,1811.5 913.7,1811.9 914.4,1812.3 915,1812.7 915.7,1813.1 916.4,1813.4 917,1813.8 917.7,1814.1 918.3,1814.5 919,1814.8 919.7,1815.1 920.3,1815.5 921,1815.8 921.7,1816.1 922.3,1816.4 923,1816.7 923.7,1816.9 924.3,1817.2 925,1817.5 925.6,1817.7 926.3,1818 927,1818.2 927.6,1818.5 928.3,1818.7 929,1818.9 929.6,1819.2 930.3,1819.4 930.9,1819.6 931.6,1819.8 932.3,1820 932.9,1820.2 933.6,1820.4 934.3,1820.6 934.9,1820.8 935.6,1821 936.3,1821.2 936.9,1821.3 937.6,1821.5 938.2,1821.7 938.9,1821.8 939.6,1822 940.2,1822.2 940.9,1822.3 941.6,1822.5 942.2,1822.6 942.9,1822.8 943.5,1822.9 944.2,1823.1 944.9,1823.2 945.5,1823.3 946.2,1823.5 946.9,1823.6 947.5,1823.7 948.2,1823.9 948.9,1824 949.5,1824.1 950.2,1824.2 950.8,1824.4 951.5,1824.5 952.2,1824.6 952.8,1824.7 953.5,1824.8 954.2,1824.9 954.8,1825.1 955.5,1825.2 956.1,1825.3 956.8,1825.4 957.5,1825.5 958.1,1825.6 958.8,1825.7 959.5,1825.8 960.1,1825.9 960.8,1826 961.5,1826.1 962.1,1826.2 962.8,1826.3 963.4,1826.4 964.1,1826.4 964.8,1826.5 965.4,1826.6 966.1,1826.7 966.8,1826.8 967.4,1826.9 968.1,1827 968.7,1827.1 969.4,1827.1 970.1,1827.2 970.7,1827.3 971.4,1827.4 972.1,1827.5 972.7,1827.5 973.4,1827.6 974.1,1827.7 974.7,1827.8 975.4,1827.8 976,1827.9 976.7,1828 977.4,1828.1 978,1828.1 978.7,1828.2 979.4,1828.3 980,1828.3 980.7,1828.4 981.3,1828.5 982,1828.5 982.7,1828.6 983.3,1828.7 984,1828.7 984.7,1828.8 985.3,1828.9 986,1828.9 986.7,1829 987.3,1829.1 988,1829.1 988.6,1829.2 989.3,1829.2 990,1829.3 990.6,1829.4 991.3,1829.4 992,1829.5 992.6,1829.5 993.3,1829.6 993.9,1829.7" fill="none" stroke="#222" stroke-width="3" stroke-linejoin="round"/>
<path d="M530.4,1828.4 531.1,1828.4 531.7,1828.4 532.4,1828.3 533.1,1828.3 533.7,1828.2 534.4,1828.2 535,1828.2 535.7,1828.1 536.4,1828.1 537,1828.1 537.7,1828 538.4,1828 539,1827.9 539.7,1827.9 540.4,1827.8 541,1827.8 541.7,1827.8 542.3,1827.7 543,1827.7 543.7,1827.6 544.3,1827.6 545,1827.5 545.7,1827.5 546.3,1827.4 547,1827.4 547.6,1827.3 548.3,1827.3 549,1827.2 549.6,1827.2 550.3,1827.1 551,1827.1 551.6,1827 552.3,1826.9 553,1826.9 553.6,1826.8 554.3,1826.8 554.9,1826.7 555.6,1826.7 556.3,1826.6 556.9,1826.5 557.6,1826.5 558.3,1826.4 558.9,1826.3 559.6,1826.3 560.2,1826.2 560.9,1826.1 561.6,1826.1 562.2,1826 562.9,1825.9 563.6,1825.9 564.2,1825.8 564.9,1825.7 565.6,1825.6 566.2,1825.6 566.9,1825.5 567.5,1825.4 568.2,1825.3 568.9,1825.2 569.5,1825.2 570.2,1825.1 570.9,1825 571.5,1824.9 572.2,1824.8 572.8,1824.7 573.5,1824.6 574.2,1824.5 574.8,1824.4 575.5,1824.3 576.2,1824.2 576.8,1824.1 577.5,1824 578.2,1823.9 578.8,1823.8 579.5,1823.7 580.1,1823.6 580.8,1823.5 581.5,1823.3 582.1,1823.2 582.8,1823.1 583.5,1823 584.1,1822.8 584.8,1822.7 585.4,1822.6 586.1,1822.4 586.8,1822.3 587.4,1822.2 588.1,1822 588.8,1821.8 589.4,1821.7 590.1,1821.5 590.8,1821.4 591.4,1821.2 592.1,1821 592.7,1820.8 593.4,1820.6 594.1,1820.4 594.7,1820.2 595.4,1820 596.1,1819.8 596.7,1819.6 597.4,1819.3 598,1819.1 598.7,1818.8 599.4,1818.6 600,1818.3 600.7,1818 601.4,1817.7 602,1817.4 602.7,1817.1 603.4,1816.7 604,1816.4 604.7,1816 605.3,1815.6 606,1815.2 606.7,1814.8 607.3,1814.3 608,1813.9 608.7,1813.4 609.3,1812.8 610,1812.3 610.6,1811.7 611.3,1811.1 612,1810.5 612.6,1809.8 613.3,1809.1 614,1808.4 614.6,1807.6 615.3,1806.8 616,1806 616.6,1805.1 617.3,1804.1 617.9,1803.2 618.6,1802.1 619.3,1801 619.9,1799.9 620.6,1798.7 621.3,1797.4 621.9,1796.1 622.6,1794.7 623.2,1793.2 623.9,1791.7 624.6,1790.1 625.2,1788.4 625.9,1786.7 626.6,1784.8 627.2,1782.9 627.9,1780.9 628.6,1778.8 629.2,1776.6 629.9,1774.3 630.5,1771.9 631.2,1769.4 631.9,1766.7 632.5,1764 633.2,1761.2 633.9,1758.3 634.5,1755.2 635.2,1752.1 635.8,1748.8 636.5,1745.4 637.2,1741.8 637.8,1738.2 638.5,1734.4 639.2,1730.5 639.8,1726.5 640.5,1722.3 641.2,1718 641.8,1713.6 642.5,1709 643.1,1704.4 643.8,1699.5 644.5,1694.6 645.1,1689.5 645.8,1684.3 646.5,1679 647.1,1673.6 647.8,1668 648.4,1662.4 649.1,1656.6 649.8,1650.7 650.4,1644.7 651.1,1638.6 651.8,1632.3 652.4,1626.1 653.1,1619.7 653.8,1613.2 654.4,1606.7 655.1,1600.1 655.7,1593.4 656.4,1586.7 657.1,1580 657.7,1573.2 658.4,1566.4 659.1,1559.5 659.7,1552.7 660.4,1545.9 661,1539.1 661.7,1532.3 662.4,1525.6 663,1518.9 663.7,1512.3 664.4,1505.7 665,1499.3 665.7,1492.9 666.4,1486.7 667,1480.6 667.7,1474.7 668.3,1468.9 669,1463.3 669.7,1457.9 670.3,1452.8 671,1447.8 671.7,1443.1 672.3,1438.6 673,1434.4 673.6,1430.5 674.3,1426.9 675,1423.6 675.6,1420.6 676.3,1418 677,1415.7 677.6,1413.8 678.3,1412.2 679,1411 679.6,1410.1 680.3,1409.6 680.9,1409.6 681.6,1409.8 682.3,1410.5 682.9,1411.5 683.6,1412.9 684.3,1414.7 684.9,1416.8 685.6,1419.3 686.2,1422.1 686.9,1425.2 687.6,1428.7 688.2,1432.4 688.9,1436.5 689.6,1440.8 690.2,1445.4 690.9,1450.2 691.6,1455.3 692.2,1460.6 692.9,1466.1 693.5,1471.8 694.2,1477.6 694.9,1483.7 695.5,1489.8 696.2,1496.1 696.9,1502.5 697.5,1509 698.2,1515.6 698.8,1522.2 699.5,1528.9 700.2,1535.7 700.8,1542.5 701.5,1549.3 702.2,1556.1 702.8,1563 703.5,1569.8 704.2,1576.6 704.8,1583.4 705.5,1590.1 706.1,1596.8 706.8,1603.4 707.5,1610 708.1,1616.5 708.8,1622.9 709.5,1629.2 710.1,1635.5 710.8,1641.6 711.4,1647.7 712.1,1653.6 712.8,1659.5 713.4,1665.2 714.1,1670.8 714.8,1676.3 715.4,1681.7 716.1,1687 716.8,1692.1 717.4,1697.1 718.1,1702 718.7,1706.7 719.4,1711.3 720.1,1715.8 720.7,1720.2 721.4,1726.9 722.1,1731 722.7,1735 723.4,1738.8 724,1742.5 724.7,1746.1 725.4,1749.6 726,1752.9 726.7,1756.2 727.4,1759.3 728,1762.3 728.7,1765.1 729.4,1767.9 730,1770.6 730.7,1773.1 731.3,1775.6 732,1777.9 732.7,1780.2 733.3,1782.3 734,1784.4 734.7,1786.4 735.3,1788.2 736,1790 736.6,1791.8 737.3,1793.4 738,1795 738.6,1796.5 739.3,1797.9 740,1799.3 740.6,1800.6 741.3,1801.8 742,1803 742.6,1804.1 743.3,1805.1 743.9,1806.2 744.6,1807.1 745.3,1808 745.9,1808.9 746.6,1809.7 747.3,1810.5 747.9,1811.3 748.6,1812 749.2,1812.7 749.9,1813.3 750.6,1813.9 751.2,1814.5 751.9,1815.1 752.6,1815.6 753.2,1816.1 753.9,1816.6 754.6,1817 755.2,1817.5 755.9,1817.9 756.5,1818.3 757.2,1818.7 757.9,1819 758.5,1819.4 759.2,1819.7 759.9,1820 760.5,1820.3 761.2,1820.6 761.8,1820.9 762.5,1821.2 763.2,1821.5 763.8,1821.7 764.5,1821.9 765.2,1822.2 765.8,1822.4 766.5,1822.6 767.2,1822.8 767.8,1823 768.5,1823.2 769.1,1823.4 769.8,1823.6 770.5,1823.8 771.1,1823.9 771.8,1824.1 772.5,1824.3 773.1,1824.4 773.8,1824.6 774.4,1824.7 775.1,1824.9 775.8,1825 776.4,1825.1 777.1,1825.3 777.8,1825.4 778.4,1825.5 779.1,1825.7 779.8,1825.8 780.4,1825.9 781.1,1826 781.7,1826.1 782.4,1826.2 783.1,1826.4 783.7,1826.5 784.4,1826.6 785.1,1826.7 785.7,1826.8 786.4,1826.9 787,1827 787.7,1827.1 788.4,1827.2 789,1827.3 789.7,1827.3 790.4,1827.4 791,1827.5 791.7,1827.6 792.4,1827.7 793,1827.8 793.7,1827.9 794.3,1827.9 795,1828 795.7,1828.1 796.3,1828.2 797,1828.2 797.7,1828.3 798.3,1828.4 799,1828.5 799.6,1828.5 800.3,1828.6 801,1828.7 801.6,1828.7 802.3,1828.8 803,1828.9 803.6,1828.9 804.3,1829 805,1829.1 805.6,1829.1 806.3,1829.2 806.9,1829.2 807.6,1829.3 808.3,1829.4 808.9,1829.4 809.6,1829.5 810.3,1829.5 810.9,1829.6 811.6,1829.6 812.2,1829.7 812.9,1829.7 813.6,1829.8 814.2,1829.8 814.9,1829.9 815.6,1829.9 816.2,1830 816.9,1830 817.6,1830.1 818.2,1830.1 818.9,1830.2 819.5,1834.2 820.2,1834.3 820.9,1834.3 821.5,1834.3 822.2,1834.4 822.9,1834.4 823.5,1834.5 824.2,1834.5 824.8,1834.6 825.5,1834.6 826.2,1834.6 826.8,1834.7 827.5,1834.7 828.2,1834.8 828.8,1834.8 829.5,1834.8 830.2,1834.9 830.8,1834.9 831.5,1834.9 832.1,1835 832.8,1835 833.5,1835 834.1,1835.1 834.8,1835.1 835.5,1835.1 836.1,1835.2 836.8,1835.2 837.4,1835.2 838.1,1835.3 838.8,1835.3 839.4,1835.3 840.1,1835.4 840.8,1835.4 841.4,1835.4 842.1,1835.5 842.8,1835.5 843.4,1835.5 844.1,1835.5 844.7,1835.6 845.4,1835.6 846.1,1835.6 846.7,1835.7 847.4,1835.7 848.1,1835.7 848.7,1835.7 849.4,1835.8 850,1835.8 850.7,1835.8 851.4,1835.8 852,1835.9" fill="none" stroke="#ff1a1a" stroke-width="4" stroke-linejoin="round"/>
<path d="M628.6,1830 629.2,1829.9 629.9,1829.9 630.5,1829.9 631.2,1829.8 631.9,1829.8 632.5,1829.7 633.2,1829.7 633.9,1829.7 634.5,1829.6 635.2,1829.6 635.8,1829.5 636.5,1829.5 637.2,1829.4 637.8,1829.4 638.5,1829.3 639.2,1829.3 639.8,1829.2 640.5,1829.2 641.2,1829.1 641.8,1829.1 642.5,1829 643.1,1828.9 643.8,1828.9 644.5,1828.8 645.1,1828.7 645.8,1828.7 646.5,1828.6 647.1,1828.5 647.8,1828.4 648.4,1828.4 649.1,1828.3 649.8,1828.2 650.4,1828.1 651.1,1828 651.8,1827.9 652.4,1827.8 653.1,1827.7 653.8,1827.6 654.4,1827.5 655.1,1827.3 655.7,1827.2 656.4,1827.1 657.1,1826.9 657.7,1826.8 658.4,1826.6 659.1,1826.4 659.7,1826.2 660.4,1826 661,1825.8 661.7,1825.6 662.4,1825.4 663,1825.1 663.7,1824.8 664.4,1824.5 665,1824.2 665.7,1823.9 666.4,1823.5 667,1823.1 667.7,1822.7 668.3,1822.3 669,1821.8 669.7,1821.3 670.3,1820.7 671,1820.1 671.7,1819.5 672.3,1818.8 673,1818.1 673.6,1817.3 674.3,1816.5 675,1815.6 675.6,1814.7 676.3,1813.6 677,1812.6 677.6,1811.4 678.3,1810.2 679,1808.9 679.6,1807.5 680.3,1806.1 680.9,1804.5 681.6,1802.9 682.3,1801.1 682.9,1799.3 683.6,1797.4 684.3,1795.4 684.9,1793.2 685.6,1791 686.2,1788.6 686.9,1786.2 687.6,1783.6 688.2,1780.9 688.9,1778.1 689.6,1775.2 690.2,1772.2 690.9,1769.1 691.6,1765.8 692.2,1762.5 692.9,1759 693.5,1755.4 694.2,1751.7 694.9,1747.9 695.5,1744.1 696.2,1740.1 696.9,1736.1 697.5,1731.9 698.2,1727.7 698.8,1723.5 699.5,1719.1 700.2,1714.8 700.8,1710.4 701.5,1705.9 702.2,1701.5 702.8,1697 703.5,1692.5 704.2,1688.1 704.8,1683.7 705.5,1679.3 706.1,1675 706.8,1670.8 707.5,1666.7 708.1,1662.7 708.8,1658.8 709.5,1655 710.1,1651.4 710.8,1647.9 711.4,1644.7 712.1,1641.7 712.8,1638.8 713.4,1636.3 714.1,1633.9 714.8,1631.9 715.4,1630.1 716.1,1628.6 716.8,1627.4 717.4,1626.5 718.1,1625.9 718.7,1625.6 719.4,1625.6 720.1,1626 720.7,1626.7 721.4,1630.2 722.1,1631.5 722.7,1633 723.4,1634.9 724,1637.1 724.7,1639.5 725.4,1642.1 726,1645 726.7,1648.1 727.4,1651.4 728,1654.9 728.7,1658.6 729.4,1662.4 730,1666.3 730.7,1670.4 731.3,1674.5 732,1678.8 732.7,1683.1 733.3,1687.5 734,1691.9 734.7,1696.3 735.3,1700.8 736,1705.2 736.6,1709.7 737.3,1714.1 738,1718.5 738.6,1722.9 739.3,1727.2 740,1731.4 740.6,1735.6 741.3,1739.7 742,1743.8 742.6,1747.7 743.3,1751.5 743.9,1755.3 744.6,1758.9 745.3,1762.5 745.9,1765.9 746.6,1769.3 747.3,1772.5 747.9,1775.6 748.6,1778.6 749.2,1781.5 749.9,1784.2 750.6,1786.9 751.2,1789.4 751.9,1791.8 752.6,1794.1 753.2,1796.4 753.9,1798.5 754.6,1800.5 755.2,1802.4 755.9,1804.2 756.5,1805.9 757.2,1807.5 757.9,1809 758.5,1810.4 759.2,1811.8 759.9,1813.1 760.5,1814.3 761.2,1815.4 761.8,1816.4 762.5,1817.4 763.2,1818.4 763.8,1819.2 764.5,1820 765.2,1820.8 765.8,1821.5 766.5,1822.2 767.2,1822.8 767.8,1823.4 768.5,1823.9 769.1,1824.4 769.8,1824.9 770.5,1825.3 771.1,1825.7 771.8,1826.1 772.5,1826.5 773.1,1826.8 773.8,1827.1 774.4,1827.4 775.1,1827.7 775.8,1827.9 776.4,1828.2 777.1,1828.4 777.8,1828.6 778.4,1828.8 779.1,1829 779.8,1829.1 780.4,1829.3 781.1,1829.5 781.7,1829.6 782.4,1829.7 783.1,1829.9 783.7,1830 784.4,1830.1 785.1,1830.2 785.7,1830.3 786.4,1830.4 787,1830.5 787.7,1830.6 788.4,1830.7 789,1830.8 789.7,1830.9 790.4,1831 791,1831 791.7,1831.1 792.4,1831.2 793,1831.2 793.7,1831.3 794.3,1831.4 795,1831.4 795.7,1831.5 796.3,1831.6 797,1831.6 797.7,1831.7 798.3,1831.7 799,1831.8 799.6,1831.8 800.3,1831.9 801,1831.9 801.6,1832 802.3,1832 803,1832.1 803.6,1832.1 804.3,1832.2 805,1832.2 805.6,1832.3 806.3,1832.3 806.9,1832.3 807.6,1832.4 808.3,1832.4" fill="none" stroke="#0050e0" stroke-width="4" stroke-linejoin="round"/>
<path d="M230,1818.7 230.7,1818.7 231.3,1818.8 232,1818.8 232.7,1818.9 233.3,1818.9 234,1819 234.6,1819 235.3,1819.1 236,1819.1 236.6,1819.2 237.3,1819.2 238,1819.3 238.6,1819.3 239.3,1819.4 239.9,1819.4 240.6,1819.5 241.3,1819.5 241.9,1819.6 242.6,1819.6 243.3,1819.7 243.9,1819.7 244.6,1819.8 245.3,1819.9 245.9,1819.9 246.6,1820 247.2,1820 247.9,1820.1 248.6,1820.1 249.2,1820.2 249.9,1820.2 250.6,1820.3 251.2,1820.3 251.9,1820.4 252.5,1820.4 253.2,1820.5 253.9,1820.5 254.5,1820.6 255.2,1820.6 255.9,1820.7 256.5,1820.7 257.2,1820.8 257.9,1820.8 258.5,1820.9 259.2,1820.9 259.8,1821 260.5,1821 261.2,1821.1 261.8,1821.1 262.5,1821.2 263.2,1821.2 263.8,1821.3 264.5,1821.3 265.1,1821.4 265.8,1821.5 266.5,1821.5 267.1,1821.6 267.8,1821.6 268.5,1821.7 269.1,1821.7 269.8,1821.8 270.5,1821.8 271.1,1821.9 271.8,1821.9 272.4,1822 273.1,1822 273.8,1822.1 274.4,1822.1 275.1,1822.2 275.8,1822.2 276.4,1822.3 277.1,1822.3 277.7,1822.4 278.4,1822.4 279.1,1822.5 279.7,1822.5 280.4,1822.6 281.1,1822.6 281.7,1822.7 282.4,1822.7 283.1,1822.8 283.7,1822.8 284.4,1822.9 285,1822.9 285.7,1823 286.4,1823 287,1823.1 287.7,1823.2 288.4,1823.2 289,1823.3 289.7,1823.3 290.3,1823.4 291,1823.4 291.7,1823.5 292.3,1823.5 293,1823.6 293.7,1823.6 294.3,1823.7 295,1823.7 295.7,1823.8 296.3,1823.8 297,1823.9 297.6,1823.9 298.3,1824 299,1824 299.6,1824.1 300.3,1824.1 301,1824.2 301.6,1824.2 302.3,1824.3 302.9,1824.3 303.6,1824.4 304.3,1824.4 304.9,1824.5 305.6,1824.5 306.3,1824.6 306.9,1824.6 307.6,1824.7 308.3,1824.7 308.9,1824.8 309.6,1824.9 310.2,1824.9 310.9,1825 311.6,1825 312.2,1825.1 312.9,1825.1 313.6,1825.2 314.2,1825.2 314.9,1825.3 315.5,1825.3 316.2,1825.4 316.9,1825.4 317.5,1825.5 318.2,1825.5 318.9,1825.6 319.5,1825.6 320.2,1825.7 320.9,1825.7 321.5,1825.8 322.2,1825.8 322.8,1825.9 323.5,1825.9 324.2,1826 324.8,1826 325.5,1826.1 326.2,1826.1 326.8,1826.2 327.5,1826.2 328.1,1826.3 328.8,1826.3 329.5,1826.4 330.1,1826.4 330.8,1826.5 331.5,1826.6 332.1,1826.6 332.8,1826.7 333.5,1826.7 334.1,1826.8 334.8,1826.8 335.4,1826.9 336.1,1826.9 336.8,1827 337.4,1827 338.1,1827.1 338.8,1827.1 339.4,1827.2 340.1,1827.2 340.7,1827.3 341.4,1827.4 342.1,1827.5 342.7,1827.5 343.4,1827.6 344.1,1827.7 344.7,1827.7 345.4,1827.8 346.1,1827.9 346.7,1828 347.4,1828 348,1828.1 348.7,1828.2 349.4,1828.2 350,1828.3 350.7,1828.4 351.4,1828.5 352,1828.5 352.7,1828.6 353.3,1828.7 354,1828.7 354.7,1828.8 355.3,1828.9 356,1828.9 356.7,1829 357.3,1829.1 358,1829.2 358.7,1829.2 359.3,1829.3 360,1829.4 360.6,1829.4 361.3,1829.5 362,1829.6 362.6,1829.7 363.3,1829.7 364,1829.8 364.6,1829.9 365.3,1829.9 365.9,1830 366.6,1830.1 367.3,1830.1 367.9,1830.2 368.6,1830.3 369.3,1830.4 369.9,1830.4 370.6,1830.5 371.3,1830.6 371.9,1830.6 372.6,1830.7 373.2,1830.8 373.9,1830.9 374.6,1830.9 375.2,1831 375.9,1831.1 376.6,1831.1 377.2,1831.2 377.9,1831.3 378.5,1831.4 379.2,1831.4 379.9,1831.5 380.5,1831.6 381.2,1831.6 381.9,1831.7 382.5,1831.8 383.2,1831.8 383.9,1831.9 384.5,1832 385.2,1832.1 385.8,1832.1 386.5,1832.2 387.2,1832.3 387.8,1832.3 388.5,1832.4 389.2,1832.5 389.8,1832.6 390.5,1832.6 391.1,1832.7 391.8,1832.8 392.5,1832.8 393.1,1832.9 393.8,1833 394.5,1833 395.1,1833.1 395.8,1833.2 396.5,1833.3 397.1,1833.3 397.8,1833.4 398.4,1833.5 399.1,1833.5 399.8,1833.6 400.4,1833.7 401.1,1833.8 401.8,1833.8 402.4,1833.9 403.1,1834 403.7,1834 404.4,1834.1 405.1,1834.1 405.7,1834.1 406.4,1834.1 407.1,1834.1 407.7,1834.1 408.4,1834.1 409.1,1834.1 409.7,1834.1 410.4,1834.1 411,1834.1 411.7,1834 412.4,1834 413,1834 413.7,1834 414.4,1834 415,1834 415.7,1834 416.3,1834 417,1834 417.7,1834 418.3,1834 419,1834 419.7,1834 420.3,1833.9 421,1833.9 421.7,1833.9 422.3,1833.9 423,1833.9 423.6,1833.9 424.3,1833.9 425,1833.9 425.6,1833.9 426.3,1833.9 427,1833.9 427.6,1833.9 428.3,1833.8 428.9,1833.8 429.6,1833.8 430.3,1833.8 430.9,1833.8 431.6,1833.8 432.3,1833.8 432.9,1833.8 433.6,1833.8 434.3,1833.8 434.9,1833.8 435.6,1833.8 436.2,1833.7 436.9,1833.7 437.6,1833.7 438.2,1833.7 438.9,1833.7 439.6,1833.7 440.2,1833.7 440.9,1833.7 441.5,1833.7 442.2,1833.7 442.9,1833.7 443.5,1833.7 444.2,1833.7 444.9,1833.6 445.5,1833.6 446.2,1833.6 446.9,1833.6 447.5,1833.6 448.2,1833.6 448.8,1833.6 449.5,1833.6 450.2,1833.6 450.8,1833.6 451.5,1833.6 452.2,1833.6 452.8,1833.5 453.5,1833.5 454.1,1833.5 454.8,1833.5 455.5,1833.5 456.1,1833.5 456.8,1833.5 457.5,1833.5 458.1,1833.5 458.8,1833.5 459.4,1833.5 460.1,1833.5 460.8,1833.5 461.4,1833.4 462.1,1833.4 462.8,1833.4 463.4,1833.4 464.1,1833.4 464.8,1833.4 465.4,1833.4 466.1,1833.4 466.7,1833.4 467.4,1833.4 468.1,1833.4 468.7,1833.4 469.4,1833.3 470.1,1833.3 470.7,1833.3 471.4,1833.3 472,1833.3 472.7,1833.3 473.4,1833.3 474,1833.3 474.7,1833.3 475.4,1833.3 476,1833.3 476.7,1833.3 477.4,1833.2 478,1833.2 478.7,1833.2 479.3,1833.2 480,1833.2 480.7,1833.2 481.3,1833.2 482,1833.2 482.7,1833.2 483.3,1833.2 484,1833.2 484.6,1833.2 485.3,1833.2 486,1833.1 486.6,1833.1 487.3,1833 488,1832.9 488.6,1832.8 489.3,1832.7 490,1832.6 490.6,1832.5 491.3,1832.4 491.9,1832.3 492.6,1832.1 493.3,1832 493.9,1831.8 494.6,1831.6 495.3,1831.5 495.9,1831.3 496.6,1831.1 497.2,1831 497.9,1830.8 498.6,1830.6 499.2,1830.5 499.9,1830.3 500.6,1830.2 501.2,1830 501.9,1829.9 502.6,1829.7 503.2,1829.5 503.9,1829.4 504.5,1829.2 505.2,1829.1 505.9,1828.9 506.5,1828.8 507.2,1828.6 507.9,1828.5 508.5,1828.4 509.2,1828.2 509.8,1828.1 510.5,1827.9 511.2,1827.8 511.8,1827.6 512.5,1827.5 513.2,1827.4 513.8,1827.2 514.5,1827.1 515.2,1826.9 515.8,1826.8 516.5,1826.7 517.1,1826.5 517.8,1826.4 518.5,1826.3 519.1,1826.1 519.8,1826 520.5,1825.9 521.1,1825.7 521.8,1825.6 522.4,1825.5 523.1,1825.3 523.8,1825.2 524.4,1825.1 525.1,1825 525.8,1824.8 526.4,1824.7 527.1,1824.6 527.8,1824.4 528.4,1824.3 529.1,1824.2 529.7,1824.1 530.4,1823.9 531.1,1823.8 531.7,1823.7 532.4,1823.6 533.1,1823.4 533.7,1823.3 534.4,1823.2 535,1823.1 535.7,1822.9 536.4,1822.8 537,1822.7 537.7,1822.5 538.4,1822.4 539,1822.3 539.7,1822.2 540.4,1822 541,1821.9 541.7,1821.8 542.3,1821.7 543,1821.5 543.7,1821.4 544.3,1821.3 545,1821.1 545.7,1821 546.3,1820.9 547,1820.7 547.6,1820.6 548.3,1820.5 549,1820.3 549.6,1820.2 550.3,1820.1 551,1819.9 551.6,1819.8 552.3,1819.6 553,1819.5 553.6,1819.4 554.3,1819.2 554.9,1819.1 555.6,1818.9 556.3,1818.8 556.9,1818.6 557.6,1818.5 558.3,1818.4 558.9,1818.2 559.6,1818.1 560.2,1818 560.9,1817.9 561.6,1817.8 562.2,1817.6 562.9,1817.5 563.6,1817.4 564.2,1817.2 564.9,1817.1 565.6,1817 566.2,1816.8 566.9,1816.7 567.5,1816.6 568.2,1816.4 568.9,1816.3 569.5,1816.1 570.2,1816 570.9,1815.8 571.5,1815.7 572.2,1815.5 572.8,1815.4 573.5,1815.2 574.2,1815.1 574.8,1814.9 575.5,1814.7 576.2,1814.6 576.8,1814.4 577.5,1814.2 578.2,1814 578.8,1813.9 579.5,1813.7 580.1,1813.5 580.8,1813.3 581.5,1813.1 582.1,1812.9 582.8,1812.7 583.5,1812.5 584.1,1812.3 584.8,1812.1 585.4,1811.9 586.1,1811.7 586.8,1811.5 587.4,1811.2 588.1,1811 588.8,1810.8 589.4,1810.5 590.1,1810.3 590.8,1810 591.4,1809.8 592.1,1809.5 592.7,1809.2 593.4,1808.9 594.1,1808.7 594.7,1808.4 595.4,1808.1 596.1,1807.7 596.7,1807.4 597.4,1807.1 598,1806.8 598.7,1806.4 599.4,1806 600,1805.7 600.7,1805.3 601.4,1804.9 602,1804.5 602.7,1804 603.4,1803.6 604,1803.1 604.7,1802.6 605.3,1802.1 606,1801.6 606.7,1801.1 607.3,1800.5 608,1799.9 608.7,1799.3 609.3,1798.7 610,1798 610.6,1797.3 611.3,1796.6 612,1795.8 612.6,1795.1 613.3,1794.2 614,1793.4 614.6,1792.5 615.3,1791.5 616,1790.5 616.6,1789.5 617.3,1788.4 617.9,1787.3 618.6,1786.1 619.3,1784.9 619.9,1783.6 620.6,1782.2 621.3,1780.8 621.9,1779.3 622.6,1777.7 623.2,1776.1 623.9,1774.4 624.6,1772.6 625.2,1770.8 625.9,1768.8 626.6,1766.8 627.2,1764.7 627.9,1762.5 628.6,1760.2 629.2,1757.8 629.9,1755.3 630.5,1752.7 631.2,1750 631.9,1747.1 632.5,1744.2 633.2,1741.2 633.9,1738 634.5,1734.7 635.2,1731.3 635.8,1727.8 636.5,1724.2 637.2,1720.4 637.8,1716.5 638.5,1712.4 639.2,1708.3 639.8,1703.9 640.5,1699.5 641.2,1694.9 641.8,1690.2 642.5,1685.4 643.1,1680.4 643.8,1675.3 644.5,1670 645.1,1664.6 645.8,1659.1 646.5,1653.5 647.1,1647.7 647.8,1641.8 648.4,1635.8 649.1,1629.6 649.8,1623.4 650.4,1617 651.1,1610.5 651.8,1604 652.4,1597.3 653.1,1590.5 653.8,1583.7 654.4,1576.8 655.1,1569.8 655.7,1562.7 656.4,1555.6 657.1,1548.5 657.7,1541.3 658.4,1534.1 659.1,1526.9 659.7,1519.6 660.4,1512.4 661,1505.1 661.7,1497.9 662.4,1490.7 663,1483.6 663.7,1476.5 664.4,1469.4 665,1462.4 665.7,1455.6 666.4,1448.7 667,1442 667.7,1435.4 668.3,1429 669,1422.6 669.7,1416.4 670.3,1410.4 671,1404.5 671.7,1398.8 672.3,1393.2 673,1387.9 673.6,1382.7 674.3,1377.8 675,1373 675.6,1368.5 676.3,1364.2 677,1360.2 677.6,1356.4 678.3,1352.8 679,1349.5 679.6,1346.4 680.3,1343.7 680.9,1341.2 681.6,1338.9 682.3,1336.9 682.9,1335.3 683.6,1333.8 684.3,1332.7 684.9,1331.8 685.6,1331.2 686.2,1330.9 686.9,1330.8 687.6,1330.9 688.2,1331.2 688.9,1331.8 689.6,1332.5 690.2,1333.4 690.9,1334.4 691.6,1335.5 692.2,1336.7 692.9,1337.9 693.5,1339.1 694.2,1340.3 694.9,1341.4 695.5,1342.4 696.2,1343.3 696.9,1344.1 697.5,1344.6 698.2,1345 698.8,1345.1 699.5,1345 700.2,1344.7 700.8,1344.1 701.5,1343.3 702.2,1342.3 702.8,1341.1 703.5,1339.8 704.2,1338.2 704.8,1336.6 705.5,1334.8 706.1,1332.9 706.8,1331 707.5,1329.1 708.1,1327.2 708.8,1325.4 709.5,1323.6 710.1,1321.8 710.8,1320.2 711.4,1318.8 712.1,1317.5 712.8,1316.3 713.4,1315.3 714.1,1314.5 714.8,1313.9 715.4,1313.5 716.1,1313.3 716.8,1313.3 717.4,1313.6 718.1,1314 718.7,1314.7 719.4,1315.6 720.1,1316.6 720.7,1317.9 721.4,1319.4 722.1,1321.1 722.7,1322.9 723.4,1324.9 724,1327.1 724.7,1329.5 725.4,1331.9 726,1334.5 726.7,1337.2 727.4,1340 728,1342.9 728.7,1345.9 729.4,1348.8 730,1351.9 730.7,1354.9 731.3,1357.9 732,1360.9 732.7,1363.9 733.3,1366.8 734,1369.6 734.7,1372.3 735.3,1374.9 736,1377.3 736.6,1379.6 737.3,1381.7 738,1383.6 738.6,1385.3 739.3,1386.8 740,1388 740.6,1389 741.3,1389.7 742,1390.1 742.6,1390.3 743.3,1390.2 743.9,1389.9 744.6,1389.2 745.3,1388.3 745.9,1387.2 746.6,1385.8 747.3,1384.1 747.9,1382.2 748.6,1380.1 749.2,1377.8 749.9,1375.3 750.6,1372.7 751.2,1369.8 751.9,1366.9 752.6,1363.8 753.2,1360.6 753.9,1357.3 754.6,1354 755.2,1350.6 755.9,1347.1 756.5,1343.6 757.2,1340.1 757.9,1336.6 758.5,1333.1 759.2,1329.6 759.9,1326.1 760.5,1322.6 761.2,1319.2 761.8,1315.8 762.5,1312.4 763.2,1309.1 763.8,1305.9 764.5,1302.7 765.2,1299.6 765.8,1296.5 766.5,1293.6 767.2,1290.7 767.8,1287.8 768.5,1285.1 769.1,1282.4 769.8,1279.9 770.5,1277.4 771.1,1275 771.8,1272.7 772.5,1270.6 773.1,1268.5 773.8,1266.5 774.4,1264.7 775.1,1263 775.8,1261.3 776.4,1259.8 777.1,1258.5 777.8,1257.2 778.4,1256.1 779.1,1255.1 779.8,1254.3 780.4,1253.6 781.1,1253 781.7,1252.6 782.4,1252.3 783.1,1252.1 783.7,1252.1 784.4,1252.3 785.1,1252.6 785.7,1253 786.4,1253.6 787,1254.3 787.7,1255.2 788.4,1256.2 789,1257.3 789.7,1258.6 790.4,1260.1 791,1261.6 791.7,1263.4 792.4,1265.2 793,1267.2 793.7,1269.3 794.3,1271.6 795,1274 795.7,1276.5 796.3,1279.2 797,1281.9 797.7,1284.8 798.3,1287.8 799,1290.9 799.6,1294.2 800.3,1297.5 801,1300.9 801.6,1304.5 802.3,1308.1 803,1311.9 803.6,1315.7 804.3,1319.6 805,1323.6 805.6,1327.7 806.3,1331.9 806.9,1336.1 807.6,1340.4 808.3,1344.8 808.9,1349.3 809.6,1353.8 810.3,1358.3 810.9,1363 811.6,1367.6 812.2,1372.4 812.9,1377.1 813.6,1382 814.2,1386.8 814.9,1391.7 815.6,1396.6 816.2,1401.6 816.9,1406.6 817.6,1411.6 818.2,1416.6 818.9,1421.6 819.5,1426.7 820.2,1431.8 820.9,1436.9 821.5,1442 822.2,1447.1 822.9,1452.2 823.5,1457.3 824.2,1462.4 824.8,1467.5 825.5,1472.6 826.2,1477.7 826.8,1482.8 827.5,1487.9 828.2,1492.9 828.8,1498 829.5,1503 830.2,1508 830.8,1513 831.5,1518 832.1,1522.9 832.8,1527.8 833.5,1532.7 834.1,1537.5 834.8,1542.4 835.5,1547.1 836.1,1551.9 836.8,1556.6 837.4,1561.3 838.1,1565.9 838.8,1570.5 839.4,1575.1 840.1,1579.6 840.8,1584.1 841.4,1588.6 842.1,1593 842.8,1597.3 843.4,1601.6 844.1,1605.9 844.7,1610.1 845.4,1614.2 846.1,1618.4 846.7,1622.4 847.4,1626.4 848.1,1630.4 848.7,1634.3 849.4,1638.2 850,1642 850.7,1645.7 851.4,1649.5 852,1653.1 852.7,1656.7 853.4,1660.3 854,1663.8 854.7,1667.2 855.4,1670.6 856,1673.9 856.7,1677.2 857.3,1680.5 858,1683.6 858.7,1686.8 859.3,1689.9 860,1692.9 860.7,1695.8 861.3,1698.8 862,1701.6 862.6,1704.4 863.3,1707.2 864,1709.9 864.6,1712.6 865.3,1715.2 866,1717.8 866.6,1720.3 867.3,1722.7 868,1725.2 868.6,1727.5 869.3,1729.8 869.9,1732.1 870.6,1734.3 871.3,1736.5 871.9,1738.6 872.6,1740.7 873.3,1742.8 873.9,1744.8 874.6,1746.7 875.2,1748.6 875.9,1750.5 876.6,1752.4 877.2,1754.1 877.9,1755.9 878.6,1757.6 879.2,1759.3 879.9,1760.9 880.6,1762.5 881.2,1764 881.9,1765.6 882.5,1767 883.2,1768.5 883.9,1769.9 884.5,1771.3 885.2,1772.6 885.9,1773.9 886.5,1775.2 887.2,1776.5 887.8,1777.7 888.5,1778.9 889.2,1780 889.8,1781.1 890.5,1782.2 891.2,1783.3 891.8,1784.4 892.5,1785.4 893.1,1786.4 893.8,1787.3 894.5,1788.3 895.1,1789.2 895.8,1790.1 896.5,1791 897.1,1791.8 897.8,1792.6 898.5,1793.4 899.1,1794.2 899.8,1795 900.4,1795.7 901.1,1796.4 901.8,1797.1 902.4,1797.8 903.1,1798.5 903.8,1799.1 904.4,1799.8 905.1,1800.4 905.7,1801 906.4,1801.6 907.1,1802.2 907.7,1802.7 908.4,1803.2 909.1,1803.8 909.7,1804.3 910.4,1804.8 911.1,1805.3 911.7,1805.7 912.4,1806.2 913,1806.7 913.7,1807.1 914.4,1807.5 915,1807.9 915.7,1808.3 916.4,1808.7 917,1809.1 917.7,1809.5 918.3,1809.9 919,1810.2 919.7,1810.6 920.3,1810.9 921,1811.2 921.7,1811.6 922.3,1811.9 923,1812.2 923.7,1812.5 924.3,1812.8 925,1813.1 925.6,1813.4 926.3,1813.6 927,1813.9 927.6,1814.2 928.3,1814.4 929,1814.7 929.6,1814.9 930.3,1815.2 930.9,1815.4 931.6,1815.6 932.3,1815.9 932.9,1816.1 933.6,1816.3 934.3,1816.5 934.9,1816.7 935.6,1816.9 936.3,1817.1 936.9,1817.3 937.6,1817.5 938.2,1817.7 938.9,1817.9 939.6,1818.1 940.2,1818.3 940.9,1818.5 941.6,1818.6 942.2,1818.8 942.9,1819 943.5,1819.1 944.2,1819.3 944.9,1819.5 945.5,1819.6 946.2,1819.8 946.9,1819.9 947.5,1820.1 948.2,1820.2 948.9,1820.4 949.5,1820.5 950.2,1820.7 950.8,1820.8 951.5,1820.9 952.2,1821.1 952.8,1821.2 953.5,1821.3 954.2,1821.5 954.8,1821.6 955.5,1821.7 956.1,1821.9 956.8,1822 957.5,1822.1 958.1,1822.2 958.8,1822.3 959.5,1822.5 960.1,1822.6 960.8,1822.7 961.5,1822.8 962.1,1822.9 962.8,1823 963.4,1823.1 964.1,1823.3 964.8,1823.4 965.4,1823.5 966.1,1823.6 966.8,1823.7 967.4,1823.8 968.1,1823.9 968.7,1824 969.4,1824.1 970.1,1824.2 970.7,1824.3 971.4,1824.4 972.1,1824.5 972.7,1824.6 973.4,1824.7 974.1,1824.8 974.7,1824.9 975.4,1824.9 976,1825 976.7,1825.1 977.4,1825.2 978,1825.3 978.7,1825.4 979.4,1825.5 980,1825.6 980.7,1825.7 981.3,1825.7 982,1825.8 982.7,1825.9 983.3,1826 984,1826.1 984.7,1826.2 985.3,1826.2 986,1826.3 986.7,1826.4 987.3,1826.5 988,1826.6 988.6,1826.6 989.3,1826.7 990,1826.8 990.6,1826.9 991.3,1826.9 992,1827 992.6,1827.1 993.3,1827.2 993.9,1827.2 994.6,1827.3 995.3,1827.4 995.9,1827.5 996.6,1827.5 997.3,1827.6 997.9,1827.7 998.6,1827.7 999.3,1827.8 999.9,1827.9 1000.6,1827.9 1001.2,1828 1001.9,1828.1 1002.6,1828.1 1003.2,1828.2 1003.9,1828.3 1004.6,1828.3 1005.2,1828.4 1005.9,1828.5 1006.5,1828.5 1007.2,1828.6 1007.9,1828.7 1008.5,1828.7 1009.2,1828.8 1009.9,1828.8 1010.5,1828.9 1011.2,1829 1011.9,1829 1012.5,1829.1 1013.2,1829.2 1013.8,1829.2 1014.5,1829.3 1015.2,1829.3 1015.8,1829.4 1016.5,1829.4 1017.2,1829.5 1017.8,1829.6 1018.5,1829.6 1019.1,1829.7 1019.8,1829.7 1020.5,1829.8 1021.1,1829.8 1021.8,1829.9 1022.5,1830 1023.1,1830 1023.8,1830.1 1024.5,1830.1 1025.1,1830.2 1025.8,1830.2 1026.4,1830.3 1027.1,1830.3 1027.8,1830.4 1028.4,1830.4 1029.1,1830.5 1029.8,1830.5 1030.4,1830.6 1031.1,1830.6 1031.7,1830.7 1032.4,1830.7 1033.1,1830.8 1033.7,1830.8 1034.4,1830.9 1035.1,1830.9 1035.7,1831 1036.4,1831 1037.1,1831.1 1037.7,1831.1 1038.4,1831.2 1039,1831.2 1039.7,1831.3 1040.4,1831.3 1041,1831.4 1041.7,1831.4 1042.4,1831.4 1043,1831.5 1043.7,1831.5 1044.3,1831.6 1045,1831.6 1045.7,1831.7 1046.3,1831.7 1047,1831.8 1047.7,1831.8 1048.3,1831.8 1049,1831.9 1049.7,1831.9 1050.3,1832 1051,1832 1051.6,1832.1 1052.3,1832.1 1053,1832.1 1053.6,1832.2 1054.3,1832.2 1055,1832.3 1055.6,1832.3 1056.3,1832.4 1056.9,1832.4 1057.6,1832.4 1058.3,1832.5 1058.9,1832.5 1059.6,1832.6 1060.3,1832.6 1060.9,1832.6 1061.6,1832.7 1062.3,1832.7 1062.9,1832.8 1063.6,1832.8 1064.2,1832.8 1064.9,1832.9 1065.6,1832.9 1066.2,1832.9 1066.9,1833 1067.6,1833 1068.2,1833.1 1068.9,1833.1 1069.5,1833.1 1070.2,1833.2 1070.9,1833.2 1071.5,1833.2 1072.2,1833.3 1072.9,1833.3 1073.5,1833.4 1074.2,1833.4 1074.9,1833.4 1075.5,1833.5 1076.2,1833.5 1076.8,1833.5 1077.5,1833.6 1078.2,1833.6 1078.8,1833.6 1079.5,1833.7 1080.2,1833.7 1080.8,1833.7 1081.5,1833.8 1082.1,1833.8 1082.8,1833.8 1083.5,1833.9 1084.1,1833.9 1084.8,1833.9 1085.5,1834 1086.1,1834 1086.8,1834 1087.5,1834.1 1088.1,1834.1 1088.8,1834.1 1089.4,1834.2 1090.1,1834.2 1090.8,1834.2 1091.4,1834.3 1092.1,1834.3 1092.8,1834.3 1093.4,1834.4 1094.1,1834.4 1094.7,1834.4 1095.4,1834.5 1096.1,1834.5 1096.7,1834.5 1097.4,1834.6 1098.1,1834.6 1098.7,1834.6 1099.4,1834.7 1100.1,1834.7 1100.7,1834.7 1101.4,1834.7 1102,1834.8 1102.7,1834.8 1103.4,1834.8 1104,1834.9 1104.7,1834.9 1105.4,1834.9 1106,1835 1106.7,1835 1107.3,1835 1108,1835 1108.7,1835.1 1109.3,1835.1 1110,1835.1 1110.7,1835.2 1111.3,1835.2 1112,1835.2 1112.7,1835.2 1113.3,1835.3 1114,1835.3 1114.6,1835.3 1115.3,1835.4 1116,1835.4 1116.6,1835.4 1117.3,1835.4 1118,1835.5 1118.6,1835.5 1119.3,1835.5 1119.9,1835.5 1120.6,1835.6 1121.3,1835.6 1121.9,1835.6 1122.6,1835.7 1123.3,1835.7 1123.9,1835.7 1124.6,1835.7 1125.3,1835.8 1125.9,1835.8 1126.6,1835.8 1127.2,1835.8 1127.9,1835.9 1128.6,1835.9 1129.2,1835.9 1129.9,1835.9 1130.6,1836 1131.2,1836 1131.9,1836 1132.5,1836.1 1133.2,1836.1 1133.9,1836.1 1134.5,1836.1 1135.2,1836.2 1135.9,1836.2 1136.5,1836.2 1137.2,1836.2 1137.9,1836.3 1138.5,1836.3 1139.2,1836.3 1139.8,1836.3 1140.5,1836.4 1141.2,1836.4 1141.8,1836.4 1142.5,1836.4 1143.2,1836.5 1143.8,1836.5 1144.5,1836.5 1145.1,1836.5 1145.8,1836.6 1146.5,1836.6 1147.1,1836.6 1147.8,1836.6 1148.5,1836.6 1149.1,1836.7 1149.8,1836.7 1150.5,1836.7 1151.1,1836.7 1151.8,1836.8 1152.4,1836.8 1153.1,1836.8 1153.8,1836.8 1154.4,1836.9 1155.1,1836.9 1155.8,1836.9 1156.4,1836.9 1157.1,1837 1157.7,1837" fill="none" stroke="#c070e8" stroke-width="3.5" stroke-linejoin="round"/>
<rect x="230" y="1148.6" width="927.4" height="748.3" stroke="#000" stroke-width="5.5" fill="none"/>
<line x1="1048.6" y1="1896.9" x2="1048.6" y2="1882.2" stroke="#000" stroke-width="4" stroke-linecap="butt"/>
<text x="1048.6" y="1941.3" font-size="38.5" text-anchor="middle" font-weight="bold" fill="#000">395</text>
<line x1="775.7" y1="1896.9" x2="775.7" y2="1882.2" stroke="#000" stroke-width="4" stroke-linecap="butt"/>
<text x="775.7" y="1941.3" font-size="38.5" text-anchor="middle" font-weight="bold" fill="#000">400</text>
<line x1="502.9" y1="1896.9" x2="502.9" y2="1882.2" stroke="#000" stroke-width="4" stroke-linecap="butt"/>
<text x="502.9" y="1941.3" font-size="38.5" text-anchor="middle" font-weight="bold" fill="#000">405</text>
<line x1="230" y1="1896.9" x2="230" y2="1882.2" stroke="#000" stroke-width="4" stroke-linecap="butt"/>
<text x="230" y="1941.3" font-size="38.5" text-anchor="middle" font-weight="bold" fill="#000">410</text>
<line x1="912.2" y1="1896.9" x2="912.2" y2="1887.7" stroke="#000" stroke-width="4" stroke-linecap="butt"/>
<line x1="639.3" y1="1896.9" x2="639.3" y2="1887.7" stroke="#000" stroke-width="4" stroke-linecap="butt"/>
<line x1="366.4" y1="1896.9" x2="366.4" y2="1887.7" stroke="#000" stroke-width="4" stroke-linecap="butt"/>
<line x1="230" y1="1897" x2="244.8" y2="1897" stroke="#000" stroke-width="4" stroke-linecap="butt"/>
<text x="213" y="1906" font-size="38.5" text-anchor="end" font-weight="bold" fill="#000">1000</text>
<line x1="230" y1="1647.5" x2="244.8" y2="1647.5" stroke="#000" stroke-width="4" stroke-linecap="butt"/>
<text x="213" y="1656.5" font-size="38.5" text-anchor="end" font-weight="bold" fill="#000">1500</text>
<line x1="230" y1="1398.1" x2="244.8" y2="1398.1" stroke="#000" stroke-width="4" stroke-linecap="butt"/>
<text x="213" y="1407.1" font-size="38.5" text-anchor="end" font-weight="bold" fill="#000">2000</text>
<line x1="230" y1="1148.6" x2="244.8" y2="1148.6" stroke="#000" stroke-width="4" stroke-linecap="butt"/>
<text x="213" y="1157.6" font-size="38.5" text-anchor="end" font-weight="bold" fill="#000">2500</text>
<line x1="230" y1="1772.3" x2="239.2" y2="1772.3" stroke="#000" stroke-width="4" stroke-linecap="butt"/>
<line x1="230" y1="1522.8" x2="239.2" y2="1522.8" stroke="#000" stroke-width="4" stroke-linecap="butt"/>
<line x1="230" y1="1273.3" x2="239.2" y2="1273.3" stroke="#000" stroke-width="4" stroke-linecap="butt"/>
<text x="145" y="1095" font-size="70.5" text-anchor="start" font-weight="bold" fill="#000" textLength="76.2" lengthAdjust="spacingAndGlyphs">(c)</text>
<text x="91" y="1504.8" font-size="55" text-anchor="middle" font-weight="bold" fill="#000" textLength="170.4" lengthAdjust="spacingAndGlyphs" transform="rotate(-90 91 1504.8)">Counts</text>
<text x="451.4" y="2025.6" font-size="54" text-anchor="start" font-weight="bold" fill="#000" textLength="480.6" lengthAdjust="spacingAndGlyphs">Binding Energy(eV)</text>
<rect x="829.8" y="1148.6" width="328.8" height="232.7" stroke="#000" stroke-width="5.5" fill="#fff"/>
<line x1="831.3" y1="1175.9" x2="899" y2="1175.9" stroke="#333" stroke-width="4.5" stroke-linecap="butt"/>
<text x="904.2" y="1184.1" font-size="37" text-anchor="start" font-weight="bold" fill="#000" textLength="246.4" lengthAdjust="spacingAndGlyphs">399.8eV(C-N-C)</text>
<line x1="831.3" y1="1219" x2="899" y2="1219" stroke="#ff1a1a" stroke-width="4.5" stroke-linecap="butt"/>
<text x="904.2" y="1228.3" font-size="37" text-anchor="start" font-weight="bold" fill="#000" textLength="208.4" lengthAdjust="spacingAndGlyphs">401.7eV(N-H)</text>
<line x1="831.3" y1="1262.8" x2="899" y2="1262.8" stroke="#0050e0" stroke-width="4.5" stroke-linecap="butt"/>
<text x="904.2" y="1274.5" font-size="37" text-anchor="start" font-weight="bold" fill="#000" textLength="246.4" lengthAdjust="spacingAndGlyphs">401.0eV(C-NH<tspan font-size="24" dy="7">2</tspan><tspan dy="-7">)</tspan></text>
<line x1="831.3" y1="1314.5" x2="899" y2="1314.5" stroke="#00b060" stroke-width="4.5" stroke-linecap="butt"/>
<text x="904.2" y="1322.7" font-size="37" text-anchor="start" font-weight="bold" fill="#000" textLength="131.4" lengthAdjust="spacingAndGlyphs">Backgnd</text>
<line x1="831.3" y1="1358.7" x2="899" y2="1358.7" stroke="#c070e8" stroke-width="4.5" stroke-linecap="butt"/>
<text x="904.2" y="1366.9" font-size="37" text-anchor="start" font-weight="bold" fill="#000" textLength="67.8" lengthAdjust="spacingAndGlyphs">N 1s</text>
<path d="M1576.7,1787.5 1609.5,1790 1839.7,1790 2122,1815.2 2357,1816.3" fill="none" stroke="#0050e0" stroke-width="4" stroke-linejoin="round"/>
<path d="M1702,1789.1 1702.7,1789.1 1703.3,1789.1 1704,1789.1 1704.7,1789.1 1705.3,1789.1 1706,1789 1706.6,1789 1707.3,1789 1708,1789 1708.6,1789 1709.3,1789 1709.9,1789 1710.6,1789 1711.3,1789 1711.9,1789 1712.6,1789 1713.2,1789 1713.9,1789 1714.6,1789 1715.2,1789 1715.9,1789 1716.5,1789 1717.2,1789 1717.9,1789 1718.5,1789 1719.2,1789 1719.8,1789 1720.5,1789 1721.2,1789 1721.8,1789 1722.5,1788.9 1723.1,1788.9 1723.8,1788.9 1724.5,1788.9 1725.1,1788.9 1725.8,1788.9 1726.4,1788.9 1727.1,1788.9 1727.8,1788.9 1728.4,1788.9 1729.1,1788.9 1729.8,1788.9 1730.4,1788.9 1731.1,1788.9 1731.7,1788.9 1732.4,1788.9 1733.1,1788.9 1733.7,1788.9 1734.4,1788.9 1735,1788.9 1735.7,1788.9 1736.4,1788.9 1737,1788.8 1737.7,1788.8 1738.3,1788.8 1739,1788.8 1739.7,1788.8 1740.3,1788.8 1741,1788.8 1741.6,1788.8 1742.3,1788.8 1743,1788.8 1743.6,1788.8 1744.3,1788.8 1744.9,1788.8 1745.6,1788.8 1746.3,1788.8 1746.9,1788.8 1747.6,1788.8 1748.2,1788.8 1748.9,1788.8 1749.6,1788.7 1750.2,1788.7 1750.9,1788.7 1751.5,1788.7 1752.2,1788.7 1752.9,1788.7 1753.5,1788.7 1754.2,1788.7 1754.8,1788.7 1755.5,1788.7 1756.2,1788.7 1756.8,1788.7 1757.5,1788.7 1758.2,1788.7 1758.8,1788.7 1759.5,1788.7 1760.1,1788.6 1760.8,1788.6 1761.5,1788.6 1762.1,1788.6 1762.8,1788.6 1763.4,1788.6 1764.1,1788.6 1764.8,1788.6 1765.4,1788.6 1766.1,1788.6 1766.7,1788.6 1767.4,1788.6 1768.1,1788.6 1768.7,1788.6 1769.4,1788.6 1770,1788.5 1770.7,1788.5 1771.4,1788.5 1772,1788.5 1772.7,1788.5 1773.3,1788.5 1774,1788.5 1774.7,1788.5 1775.3,1788.5 1776,1788.5 1776.6,1788.5 1777.3,1788.5 1778,1788.5 1778.6,1788.5 1779.3,1788.4 1779.9,1788.4 1780.6,1788.4 1781.3,1788.4 1781.9,1788.4 1782.6,1788.4 1783.3,1788.4 1783.9,1788.4 1784.6,1788.4 1785.2,1788.4 1785.9,1788.4 1786.6,1788.4 1787.2,1788.3 1787.9,1788.3 1788.5,1788.3 1789.2,1788.3 1789.9,1788.3 1790.5,1788.3 1791.2,1788.3 1791.8,1788.3 1792.5,1788.3 1793.2,1788.3 1793.8,1788.3 1794.5,1788.3 1795.1,1788.2 1795.8,1788.2 1796.5,1788.2 1797.1,1788.2 1797.8,1788.2 1798.4,1788.2 1799.1,1788.2 1799.8,1788.2 1800.4,1788.2 1801.1,1788.2 1801.7,1788.1 1802.4,1788.1 1803.1,1788.1 1803.7,1788.1 1804.4,1788.1 1805,1788.1 1805.7,1788.1 1806.4,1788.1 1807,1788.1 1807.7,1788.1 1808.3,1788 1809,1788 1809.7,1788 1810.3,1788 1811,1788 1811.7,1788 1812.3,1788 1813,1788 1813.6,1787.9 1814.3,1787.9 1815,1787.9 1815.6,1787.9 1816.3,1787.9 1816.9,1787.9 1817.6,1787.9 1818.3,1787.9 1818.9,1787.9 1819.6,1787.8 1820.2,1787.8 1820.9,1787.8 1821.6,1787.8 1822.2,1787.8 1822.9,1787.8 1823.5,1787.8 1824.2,1787.7 1824.9,1787.7 1825.5,1787.7 1826.2,1787.7 1826.8,1787.7 1827.5,1787.7 1828.2,1787.7 1828.8,1787.6 1829.5,1787.6 1830.1,1787.6 1830.8,1787.6 1831.5,1787.6 1832.1,1787.6 1832.8,1787.6 1833.4,1787.5 1834.1,1787.5 1834.8,1787.5 1835.4,1787.5 1836.1,1787.5 1836.7,1787.5 1837.4,1787.4 1838.1,1787.4 1838.7,1787.4 1839.4,1787.4 1840.1,1787.4 1840.7,1787.4 1841.4,1787.5 1842,1787.5 1842.7,1787.6 1843.4,1787.6 1844,1787.6 1844.7,1787.7 1845.3,1787.7 1846,1787.8 1846.7,1787.8 1847.3,1787.8 1848,1787.9 1848.6,1787.9 1849.3,1788 1850,1788 1850.6,1788 1851.3,1788.1 1851.9,1788.1 1852.6,1788.1 1853.3,1788.2 1853.9,1788.2 1854.6,1788.2 1855.2,1788.3 1855.9,1788.3 1856.6,1788.3 1857.2,1788.4 1857.9,1788.4 1858.5,1788.4 1859.2,1788.5 1859.9,1788.5 1860.5,1788.5 1861.2,1788.5 1861.8,1788.6 1862.5,1788.6 1863.2,1788.6 1863.8,1788.7 1864.5,1788.7 1865.1,1788.7 1865.8,1788.7 1866.5,1788.8 1867.1,1788.8 1867.8,1788.8 1868.5,1788.8 1869.1,1788.8 1869.8,1788.9 1870.4,1788.9 1871.1,1788.9 1871.8,1788.9 1872.4,1788.9 1873.1,1788.9 1873.7,1788.9 1874.4,1788.9 1875.1,1789 1875.7,1789 1876.4,1789 1877,1789 1877.7,1789 1878.4,1789 1879,1789 1879.7,1789 1880.3,1789 1881,1789 1881.7,1789 1882.3,1788.9 1883,1788.9 1883.6,1788.9 1884.3,1788.9 1885,1788.9 1885.6,1788.9 1886.3,1788.8 1886.9,1788.8 1887.6,1788.8 1888.3,1788.8 1888.9,1788.7 1889.6,1788.7 1890.2,1788.6 1890.9,1788.6 1891.6,1788.6 1892.2,1788.5 1892.9,1788.5 1893.5,1788.4 1894.2,1788.3 1894.9,1788.3 1895.5,1788.2 1896.2,1788.1 1896.9,1788.1 1897.5,1788 1898.2,1787.9 1898.8,1787.8 1899.5,1787.7 1900.2,1787.6 1900.8,1787.5 1901.5,1787.4 1902.1,1787.3 1902.8,1787.2 1903.5,1787 1904.1,1786.9 1904.8,1786.8 1905.4,1786.6 1906.1,1786.5 1906.8,1786.3 1907.4,1786.2 1908.1,1786 1908.7,1785.8 1909.4,1785.6 1910.1,1785.4 1910.7,1785.2 1911.4,1785 1912,1784.8 1912.7,1784.6 1913.4,1784.4 1914,1784.1 1914.7,1783.9 1915.3,1783.6 1916,1783.3 1916.7,1783.1 1917.3,1782.8 1918,1782.5 1918.6,1782.2 1919.3,1781.8 1920,1781.5 1920.6,1781.2 1921.3,1780.8 1921.9,1780.5 1922.6,1780.1 1923.3,1779.7 1923.9,1779.3 1924.6,1778.9 1925.3,1778.4 1925.9,1778 1926.6,1777.5 1927.2,1777.1 1927.9,1776.6 1928.6,1776.1 1929.2,1775.6 1929.9,1775.1 1930.5,1774.5 1931.2,1774 1931.9,1773.4 1932.5,1772.8 1933.2,1772.2 1933.8,1771.6 1934.5,1771 1935.2,1770.3 1935.8,1769.6 1936.5,1768.9 1937.1,1768.2 1937.8,1767.5 1938.5,1766.8 1939.1,1766 1939.8,1765.2 1940.4,1764.4 1941.1,1763.6 1941.8,1762.8 1942.4,1761.9 1943.1,1761.1 1943.7,1760.2 1944.4,1759.2 1945.1,1758.3 1945.7,1757.3 1946.4,1756.4 1947,1755.4 1947.7,1754.4 1948.4,1753.3 1949,1752.2 1949.7,1751.2 1950.3,1750.1 1951,1748.9 1951.7,1747.8 1952.3,1746.6 1953,1745.4 1953.7,1744.2 1954.3,1743 1955,1741.7 1955.6,1740.4 1956.3,1739.1 1957,1737.8 1957.6,1736.4 1958.3,1735.1 1958.9,1733.7 1959.6,1732.3 1960.3,1730.8 1960.9,1729.4 1961.6,1727.9 1962.2,1726.4 1962.9,1724.8 1963.6,1723.3 1964.2,1721.7 1964.9,1720.1 1965.5,1718.5 1966.2,1716.9 1966.9,1715.2 1967.5,1713.5 1968.2,1711.9 1968.8,1710.1 1969.5,1708.4 1970.2,1706.6 1970.8,1704.9 1971.5,1703.1 1972.1,1701.3 1972.8,1699.4 1973.5,1697.6 1974.1,1695.7 1974.8,1693.9 1975.4,1692 1976.1,1690 1976.8,1688.1 1977.4,1686.2 1978.1,1684.2 1978.7,1682.3 1979.4,1680.3 1980.1,1678.3 1980.7,1676.3 1981.4,1674.3 1982.1,1672.2 1982.7,1670.2 1983.4,1668.1 1984,1666.1 1984.7,1664 1985.4,1662 1986,1659.9 1986.7,1657.8 1987.3,1655.7 1988,1653.6 1988.7,1651.6 1989.3,1649.5 1990,1647.4 1990.6,1645.3 1991.3,1643.2 1992,1641.1 1992.6,1639 1993.3,1636.9 1993.9,1634.8 1994.6,1632.8 1995.3,1630.7 1995.9,1628.6 1996.6,1626.6 1997.2,1624.6 1997.9,1622.5 1998.6,1620.5 1999.2,1618.5 1999.9,1616.5 2000.5,1614.5 2001.2,1612.6 2001.9,1610.6 2002.5,1608.7 2003.2,1606.8 2003.8,1604.9 2004.5,1603.1 2005.2,1601.2 2005.8,1599.4 2006.5,1597.6 2007.1,1595.9 2007.8,1594.1 2008.5,1592.4 2009.1,1590.8 2009.8,1589.1 2010.5,1587.5 2011.1,1585.9 2011.8,1584.4 2012.4,1582.9 2013.1,1581.4 2013.8,1580 2014.4,1578.6 2015.1,1577.2 2015.7,1575.9 2016.4,1574.6 2017.1,1573.4 2017.7,1572.2 2018.4,1571.1 2019,1570 2019.7,1568.9 2020.4,1567.9 2021,1567 2021.7,1566.1 2022.3,1565.2 2023,1564.4 2023.7,1563.7 2024.3,1563 2025,1562.4 2025.6,1561.8 2026.3,1561.2 2027,1560.7 2027.6,1560.3 2028.3,1560 2028.9,1559.6 2029.6,1559.4 2030.3,1559.2 2030.9,1559 2031.6,1558.9 2032.2,1558.9 2032.9,1558.9 2033.6,1559 2034.2,1559.2 2034.9,1559.3 2035.6,1559.6 2036.2,1559.9 2036.9,1560.2 2037.5,1560.6 2038.2,1561.1 2038.9,1561.6 2039.5,1562.2 2040.2,1562.8 2040.8,1563.4 2041.5,1564.2 2042.2,1564.9 2042.8,1565.7 2043.5,1566.6 2044.1,1567.5 2044.8,1568.5 2045.5,1569.5 2046.1,1570.5 2046.8,1571.6 2047.4,1572.7 2048.1,1573.9 2048.8,1575.1 2049.4,1576.4 2050.1,1577.7 2050.7,1579 2051.4,1580.3 2052.1,1581.8 2052.7,1583.2 2053.4,1584.7 2054,1586.2 2054.7,1587.7 2055.4,1589.3 2056,1590.8 2056.7,1592.5 2057.3,1594.1 2058,1595.8 2058.7,1597.5 2059.3,1599.2 2060,1600.9 2060.6,1602.7 2061.3,1604.5 2062,1606.3 2062.6,1608.1 2063.3,1609.9 2064,1611.8 2064.6,1613.7 2065.3,1615.5 2065.9,1617.4 2066.6,1619.3 2067.3,1621.3 2067.9,1623.2 2068.6,1625.1 2069.2,1627.1 2069.9,1629 2070.6,1631 2071.2,1632.9 2071.9,1634.9 2072.5,1636.9 2073.2,1638.8 2073.9,1640.8 2074.5,1642.8 2075.2,1644.8 2075.8,1646.7 2076.5,1648.7 2077.2,1650.7 2077.8,1652.7 2078.5,1654.6 2079.1,1656.6 2079.8,1658.6 2080.5,1660.5 2081.1,1662.5 2081.8,1664.4 2082.4,1666.4 2083.1,1668.3 2083.8,1670.2 2084.4,1672.2 2085.1,1674.1 2085.7,1676 2086.4,1677.9 2087.1,1679.7 2087.7,1681.6 2088.4,1683.5 2089,1685.3 2089.7,1687.2 2090.4,1689 2091,1690.8 2091.7,1692.6 2092.4,1694.4 2093,1696.2 2093.7,1697.9 2094.3,1699.7 2095,1701.4 2095.7,1703.2 2096.3,1704.9 2097,1706.6 2097.6,1708.2 2098.3,1709.9 2099,1711.5 2099.6,1713.2 2100.3,1714.8 2100.9,1716.4 2101.6,1718 2102.3,1719.5 2102.9,1721.1 2103.6,1722.6 2104.2,1724.1 2104.9,1725.6 2105.6,1727.1 2106.2,1728.6 2106.9,1730.1 2107.5,1731.5 2108.2,1732.9 2108.9,1734.3 2109.5,1735.7 2110.2,1737.1 2110.8,1738.4 2111.5,1739.7 2112.2,1741 2112.8,1742.3 2113.5,1743.6 2114.1,1744.9 2114.8,1746.1 2115.5,1747.4 2116.1,1748.6 2116.8,1749.8 2117.4,1750.9 2118.1,1752.1 2118.8,1753.2 2119.4,1754.4 2120.1,1755.5 2120.8,1756.6 2121.4,1757.6 2122.1,1758.7 2122.7,1759.7 2123.4,1760.7 2124.1,1761.6 2124.7,1762.6 2125.4,1763.5 2126,1764.4 2126.7,1765.3 2127.4,1766.2 2128,1767 2128.7,1767.9 2129.3,1768.7 2130,1769.5 2130.7,1770.3 2131.3,1771.1 2132,1771.9 2132.6,1772.6 2133.3,1773.4 2134,1774.1 2134.6,1774.8 2135.3,1775.6 2135.9,1776.2 2136.6,1776.9 2137.3,1777.6 2137.9,1778.2 2138.6,1778.9 2139.2,1779.5 2139.9,1780.1 2140.6,1780.7 2141.2,1781.3 2141.9,1781.9 2142.5,1782.5 2143.2,1783 2143.9,1783.6 2144.5,1784.1 2145.2,1784.6 2145.8,1785.1 2146.5,1785.6 2147.2,1786.1 2147.8,1786.6 2148.5,1787.1 2149.2,1787.5 2149.8,1788 2150.5,1788.4 2151.1,1788.9 2151.8,1789.3 2152.5,1789.7 2153.1,1790.1 2153.8,1790.5 2154.4,1790.9 2155.1,1791.3 2155.8,1791.6 2156.4,1792 2157.1,1792.4 2157.7,1792.7 2158.4,1793 2159.1,1793.4 2159.7,1793.7 2160.4,1794 2161,1794.3 2161.7,1794.6 2162.4,1794.9 2163,1795.2 2163.7,1795.5 2164.3,1795.8 2165,1796.1 2165.7,1796.3 2166.3,1796.6 2167,1796.9 2167.6,1797.1 2168.3,1797.4 2169,1797.6 2169.6,1797.8 2170.3,1798.1 2170.9,1798.3 2171.6,1798.5 2172.3,1798.7 2172.9,1798.9 2173.6,1799.1 2174.2,1799.3 2174.9,1799.5 2175.6,1799.7 2176.2,1799.9 2176.9,1800.1 2177.6,1800.3 2178.2,1800.5 2178.9,1800.7 2179.5,1800.8 2180.2,1801 2180.9,1801.2 2181.5,1801.3 2182.2,1801.5 2182.8,1801.6 2183.5,1801.8 2184.2,1801.9 2184.8,1802.1 2185.5,1802.2 2186.1,1802.4 2186.8,1802.5 2187.5,1802.6 2188.1,1802.8 2188.8,1802.9 2189.4,1803 2190.1,1803.1 2190.8,1803.3 2191.4,1803.4 2192.1,1803.5 2192.7,1803.6 2193.4,1803.7 2194.1,1803.8 2194.7,1804 2195.4,1804.1 2196,1804.2 2196.7,1804.3 2197.4,1804.4 2198,1804.5 2198.7,1804.6 2199.3,1804.7 2200,1804.8 2200.7,1804.9 2201.3,1805 2202,1805.1 2202.6,1805.1 2203.3,1805.2 2204,1805.3 2204.6,1805.4 2205.3,1805.5 2206,1805.6 2206.6,1805.7 2207.3,1805.7 2207.9,1805.8 2208.6,1805.9 2209.3,1806 2209.9,1806 2210.6,1806.1 2211.2,1806.2 2211.9,1806.3 2212.6,1806.3 2213.2,1806.4 2213.9,1806.5 2214.5,1806.6 2215.2,1806.6 2215.9,1806.7 2216.5,1806.8 2217.2,1806.8 2217.8,1806.9 2218.5,1807 2219.2,1807 2219.8,1807.1 2220.5,1807.1 2221.1,1807.2 2221.8,1807.3 2222.5,1807.3 2223.1,1807.4 2223.8,1807.4 2224.4,1807.5 2225.1,1807.6 2225.8,1807.6 2226.4,1807.7 2227.1,1807.7 2227.7,1807.8 2228.4,1807.8 2229.1,1807.9 2229.7,1807.9 2230.4,1808 2231,1808.1 2231.7,1808.1 2232.4,1808.2 2233,1808.2 2233.7,1808.3 2234.4,1808.3 2235,1808.4 2235.7,1808.4 2236.3,1808.5 2237,1808.5 2237.7,1808.5 2238.3,1808.6 2239,1808.6 2239.6,1808.7 2240.3,1808.7 2241,1808.8 2241.6,1808.8 2242.3,1808.9 2242.9,1808.9 2243.6,1809 2244.3,1809 2244.9,1809 2245.6,1809.1 2246.2,1809.1 2246.9,1809.2 2247.6,1809.2 2248.2,1809.2 2248.9,1809.3 2249.5,1809.3 2250.2,1809.4 2250.9,1809.4 2251.5,1809.5 2252.2,1809.5 2252.8,1809.5 2253.5,1809.6 2254.2,1809.6 2254.8,1809.6 2255.5,1809.7 2256.1,1809.7 2256.8,1809.8 2257.5,1809.8 2258.1,1809.8 2258.8,1809.9 2259.5,1809.9 2260.1,1809.9 2260.8,1810 2261.4,1810 2262.1,1810 2262.8,1810.1 2263.4,1810.1 2264.1,1810.1 2264.7,1810.2" fill="none" stroke="#ff1a1a" stroke-width="3.5" stroke-linejoin="round"/>
<path d="M1769.4,1749 1770,1748.5 1770.7,1748 1771.4,1747.5 1772,1747 1772.7,1746.5 1773.3,1745.9 1774,1745.4 1774.7,1744.8 1775.3,1744.2 1776,1743.6 1776.6,1743 1777.3,1742.4 1778,1741.8 1778.6,1741.2 1779.3,1740.5 1779.9,1739.8 1780.6,1739.2 1781.3,1738.5 1781.9,1737.8 1782.6,1737.1 1783.3,1736.3 1783.9,1735.6 1784.6,1734.8 1785.2,1734.1 1785.9,1733.3 1786.6,1732.5 1787.2,1731.7 1787.9,1730.8 1788.5,1730 1789.2,1729.1 1789.9,1728.2 1790.5,1727.3 1791.2,1726.4 1791.8,1725.5 1792.5,1724.5 1793.2,1723.6 1793.8,1722.6 1794.5,1721.6 1795.1,1720.6 1795.8,1719.5 1796.5,1718.5 1797.1,1717.4 1797.8,1716.3 1798.4,1715.2 1799.1,1714 1799.8,1712.9 1800.4,1711.7 1801.1,1710.5 1801.7,1709.3 1802.4,1708 1803.1,1706.8 1803.7,1705.5 1804.4,1704.2 1805,1702.9 1805.7,1701.5 1806.4,1700.1 1807,1698.7 1807.7,1697.3 1808.3,1695.9 1809,1694.4 1809.7,1692.9 1810.3,1691.4 1811,1689.9 1811.7,1688.3 1812.3,1686.7 1813,1685.1 1813.6,1683.5 1814.3,1681.8 1815,1680.1 1815.6,1678.4 1816.3,1676.6 1816.9,1674.9 1817.6,1673.1 1818.3,1671.3 1818.9,1669.4 1819.6,1667.5 1820.2,1665.6 1820.9,1663.7 1821.6,1661.7 1822.2,1659.7 1822.9,1657.7 1823.5,1655.7 1824.2,1653.6 1824.9,1651.5 1825.5,1649.4 1826.2,1647.2 1826.8,1645.1 1827.5,1642.9 1828.2,1640.6 1828.8,1638.3 1829.5,1636 1830.1,1633.7 1830.8,1631.4 1831.5,1629 1832.1,1626.6 1832.8,1624.1 1833.4,1621.7 1834.1,1619.2 1834.8,1616.6 1835.4,1614.1 1836.1,1611.5 1836.7,1608.9 1837.4,1606.2 1838.1,1603.6 1838.7,1600.9 1839.4,1598.1 1840.1,1595.4 1840.7,1592.7 1841.4,1589.9 1842,1587.2 1842.7,1584.4 1843.4,1581.5 1844,1578.7 1844.7,1575.8 1845.3,1572.9 1846,1569.9 1846.7,1567 1847.3,1564 1848,1560.9 1848.6,1557.9 1849.3,1554.8 1850,1551.7 1850.6,1548.6 1851.3,1545.5 1851.9,1542.3 1852.6,1539.1 1853.3,1535.9 1853.9,1532.7 1854.6,1529.4 1855.2,1526.2 1855.9,1522.9 1856.6,1519.6 1857.2,1516.2 1857.9,1512.9 1858.5,1509.5 1859.2,1506.1 1859.9,1502.7 1860.5,1499.3 1861.2,1495.8 1861.8,1492.4 1862.5,1488.9 1863.2,1485.4 1863.8,1481.9 1864.5,1478.4 1865.1,1474.9 1865.8,1471.4 1866.5,1467.8 1867.1,1464.3 1867.8,1460.7 1868.5,1457.1 1869.1,1453.5 1869.8,1450 1870.4,1446.4 1871.1,1442.8 1871.8,1439.2 1872.4,1435.6 1873.1,1432 1873.7,1428.4 1874.4,1424.8 1875.1,1421.2 1875.7,1417.6 1876.4,1414 1877,1410.4 1877.7,1406.9 1878.4,1403.3 1879,1399.7 1879.7,1396.2 1880.3,1392.6 1881,1389.1 1881.7,1385.6 1882.3,1382.1 1883,1378.6 1883.6,1375.2 1884.3,1371.7 1885,1368.3 1885.6,1364.9 1886.3,1361.5 1886.9,1358.2 1887.6,1354.9 1888.3,1351.6 1888.9,1348.3 1889.6,1345.1 1890.2,1341.9 1890.9,1338.7 1891.6,1335.6 1892.2,1332.5 1892.9,1329.5 1893.5,1326.5 1894.2,1323.5 1894.9,1320.6 1895.5,1317.7 1896.2,1314.9 1896.9,1312.1 1897.5,1309.4 1898.2,1306.7 1898.8,1304.1 1899.5,1301.5 1900.2,1299 1900.8,1296.6 1901.5,1294.2 1902.1,1291.9 1902.8,1289.6 1903.5,1287.4 1904.1,1285.3 1904.8,1283.3 1905.4,1281.3 1906.1,1279.4 1906.8,1277.5 1907.4,1275.7 1908.1,1274.1 1908.7,1272.4 1909.4,1270.9 1910.1,1269.4 1910.7,1268.1 1911.4,1266.8 1912,1265.6 1912.7,1264.4 1913.4,1263.4 1914,1262.4 1914.7,1261.6 1915.3,1260.8 1916,1260.1 1916.7,1259.5 1917.3,1259 1918,1258.5 1918.6,1258.2 1919.3,1257.9 1920,1257.8 1920.6,1257.7 1921.3,1257.7 1921.9,1257.8 1922.6,1258.1 1923.3,1258.4 1923.9,1258.8 1924.6,1259.4 1925.3,1260 1925.9,1260.8 1926.6,1261.7 1927.2,1262.6 1927.9,1263.7 1928.6,1264.9 1929.2,1266.2 1929.9,1267.5 1930.5,1269 1931.2,1270.6 1931.9,1272.2 1932.5,1274 1933.2,1275.9 1933.8,1277.8 1934.5,1279.8 1935.2,1281.9 1935.8,1284.1 1936.5,1286.4 1937.1,1288.8 1937.8,1291.2 1938.5,1293.8 1939.1,1296.4 1939.8,1299 1940.4,1301.8 1941.1,1304.6 1941.8,1307.5 1942.4,1310.4 1943.1,1313.4 1943.7,1316.5 1944.4,1319.6 1945.1,1322.8 1945.7,1326 1946.4,1329.3 1947,1332.7 1947.7,1336 1948.4,1339.5 1949,1342.9 1949.7,1346.5 1950.3,1350 1951,1353.6 1951.7,1357.2 1952.3,1360.9 1953,1364.5 1953.7,1368.2 1954.3,1372 1955,1375.7 1955.6,1379.5 1956.3,1383.3 1957,1387.2 1957.6,1391 1958.3,1394.9 1958.9,1398.7 1959.6,1402.6 1960.3,1406.5 1960.9,1410.4 1961.6,1414.3 1962.2,1418.2 1962.9,1422.2 1963.6,1426.1 1964.2,1430 1964.9,1433.9 1965.5,1437.9 1966.2,1441.8 1966.9,1445.7 1967.5,1449.6 1968.2,1453.5 1968.8,1457.4 1969.5,1461.3 1970.2,1465.2 1970.8,1469.1 1971.5,1472.9 1972.1,1476.8 1972.8,1480.6 1973.5,1484.4 1974.1,1488.2 1974.8,1492 1975.4,1495.8 1976.1,1499.6 1976.8,1503.3 1977.4,1507 1978.1,1510.7 1978.7,1514.4 1979.4,1518.1 1980.1,1521.7 1980.7,1525.3 1981.4,1528.9 1982.1,1532.5 1982.7,1536 1983.4,1539.5 1984,1543 1984.7,1546.5 1985.4,1549.9 1986,1553.3 1986.7,1556.7 1987.3,1560.1 1988,1563.4 1988.7,1566.7 1989.3,1570 1990,1573.2 1990.6,1576.4 1991.3,1579.6 1992,1582.8 1992.6,1585.9 1993.3,1589 1993.9,1592.1 1994.6,1595.1 1995.3,1598.1 1995.9,1601.1 1996.6,1604 1997.2,1606.9 1997.9,1609.8 1998.6,1612.6 1999.2,1615.5 1999.9,1618.2 2000.5,1621 2001.2,1623.7 2001.9,1626.4 2002.5,1629.1 2003.2,1631.7 2003.8,1634.3 2004.5,1636.9 2005.2,1639.4 2005.8,1641.9 2006.5,1644.4 2007.1,1646.8 2007.8,1649.2 2008.5,1651.6 2009.1,1653.9 2009.8,1656.2 2010.5,1658.5 2011.1,1660.8 2011.8,1663 2012.4,1665.2 2013.1,1667.4 2013.8,1669.5 2014.4,1671.6 2015.1,1673.7 2015.7,1675.7 2016.4,1677.7 2017.1,1679.7 2017.7,1681.6 2018.4,1683.6 2019,1685.5 2019.7,1687.3 2020.4,1689.2 2021,1691 2021.7,1692.8 2022.3,1694.5 2023,1696.3 2023.7,1698 2024.3,1699.6 2025,1701.3 2025.6,1702.9 2026.3,1704.5 2027,1706.1 2027.6,1707.6 2028.3,1709.2 2028.9,1710.7 2029.6,1712.1 2030.3,1713.6 2030.9,1715 2031.6,1716.4 2032.2,1717.8 2032.9,1719.2 2033.6,1720.5 2034.2,1721.8 2034.9,1723.1 2035.6,1724.4 2036.2,1725.6 2036.9,1726.8 2037.5,1728.1 2038.2,1729.2 2038.9,1730.4 2039.5,1731.5 2040.2,1732.7 2040.8,1733.8 2041.5,1734.9 2042.2,1735.9 2042.8,1737 2043.5,1738 2044.1,1739 2044.8,1740 2045.5,1741 2046.1,1742 2046.8,1742.9 2047.4,1743.8 2048.1,1744.7 2048.8,1745.6 2049.4,1746.5 2050.1,1747.4 2050.7,1748.2 2051.4,1749.1 2052.1,1749.9 2052.7,1750.7 2053.4,1751.5 2054,1752.3 2054.7,1753 2055.4,1753.8 2056,1754.5 2056.7,1755.3 2057.3,1756 2058,1756.7 2058.7,1757.4 2059.3,1758 2060,1758.7 2060.6,1759.4 2061.3,1760 2062,1760.6 2062.6,1761.2 2063.3,1761.9 2064,1762.5 2064.6,1763.1 2065.3,1763.6 2065.9,1764.2 2066.6,1764.8 2067.3,1765.3 2067.9,1765.9 2068.6,1766.4 2069.2,1766.9 2069.9,1767.4 2070.6,1767.9 2071.2,1768.4 2071.9,1768.9 2072.5,1769.4 2073.2,1769.9 2073.9,1770.4 2074.5,1770.8 2075.2,1771.3 2075.8,1771.7 2076.5,1772.2 2077.2,1772.6 2077.8,1773 2078.5,1773.5 2079.1,1773.9 2079.8,1774.3 2080.5,1774.7 2081.1,1775.1 2081.8,1775.5 2082.4,1775.9 2083.1,1776.3 2083.8,1776.6 2084.4,1777 2085.1,1777.4 2085.7,1777.7 2086.4,1778.1 2087.1,1778.4 2087.7,1778.8 2088.4,1779.1 2089,1779.5 2089.7,1779.8 2090.4,1780.1 2091,1780.5 2091.7,1780.8 2092.4,1781.1 2093,1781.4 2093.7,1781.7 2094.3,1782 2095,1782.3 2095.7,1782.6 2096.3,1782.9 2097,1783.2 2097.6,1783.5 2098.3,1783.8 2099,1784.1 2099.6,1784.3 2100.3,1784.6 2100.9,1784.9 2101.6,1785.1 2102.3,1785.4 2102.9,1785.7 2103.6,1785.9 2104.2,1786.2 2104.9,1786.5 2105.6,1786.7 2106.2,1787 2106.9,1787.2 2107.5,1787.5 2108.2,1787.7 2108.9,1787.9 2109.5,1788.2 2110.2,1788.4 2110.8,1788.6 2111.5,1788.9 2112.2,1789.1 2112.8,1789.3 2113.5,1789.6 2114.1,1789.8 2114.8,1790 2115.5,1790.2 2116.1,1790.5 2116.8,1790.7 2117.4,1790.9 2118.1,1791.1 2118.8,1791.3 2119.4,1791.5 2120.1,1791.7 2120.8,1791.9 2121.4,1792.1 2122.1,1792.3 2122.7,1792.5 2123.4,1792.6 2124.1,1792.8 2124.7,1792.9 2125.4,1793.1 2126,1793.2 2126.7,1793.3 2127.4,1793.5 2128,1793.6 2128.7,1793.7 2129.3,1793.9 2130,1794 2130.7,1794.1 2131.3,1794.3 2132,1794.4 2132.6,1794.5 2133.3,1794.6 2134,1794.8 2134.6,1794.9 2135.3,1795 2135.9,1795.1 2136.6,1795.2 2137.3,1795.4 2137.9,1795.5 2138.6,1795.6 2139.2,1795.7 2139.9,1795.8 2140.6,1795.9 2141.2,1796.1 2141.9,1796.2 2142.5,1796.3 2143.2,1796.4 2143.9,1796.5 2144.5,1796.6 2145.2,1796.7 2145.8,1796.8 2146.5,1796.9 2147.2,1797 2147.8,1797.1 2148.5,1797.2 2149.2,1797.3 2149.8,1797.4 2150.5,1797.5 2151.1,1797.6 2151.8,1797.7 2152.5,1797.8 2153.1,1797.9 2153.8,1798 2154.4,1798.1 2155.1,1798.2 2155.8,1798.3 2156.4,1798.4 2157.1,1798.5 2157.7,1798.6 2158.4,1798.7 2159.1,1798.8 2159.7,1798.9 2160.4,1798.9 2161,1799 2161.7,1799.1 2162.4,1799.2 2163,1799.3 2163.7,1799.4 2164.3,1799.5 2165,1799.5 2165.7,1799.6 2166.3,1799.7 2167,1799.8 2167.6,1799.9 2168.3,1800 2169,1800 2169.6,1800.1 2170.3,1800.2 2170.9,1800.3 2171.6,1800.4 2172.3,1800.4 2172.9,1800.5 2173.6,1800.6 2174.2,1800.7 2174.9,1800.7 2175.6,1800.8 2176.2,1800.9 2176.9,1801 2177.6,1801 2178.2,1801.1 2178.9,1801.2 2179.5,1801.3 2180.2,1801.3 2180.9,1801.4 2181.5,1801.5 2182.2,1801.5 2182.8,1801.6 2183.5,1801.7 2184.2,1801.8 2184.8,1801.8 2185.5,1801.9 2186.1,1802 2186.8,1802 2187.5,1802.1 2188.1,1802.2 2188.8,1802.2 2189.4,1802.3 2190.1,1802.4 2190.8,1802.4 2191.4,1802.5 2192.1,1802.5 2192.7,1802.6 2193.4,1802.7 2194.1,1802.7 2194.7,1802.8 2195.4,1802.9 2196,1802.9 2196.7,1803 2197.4,1803 2198,1803.1 2198.7,1803.2 2199.3,1803.2 2200,1803.3 2200.7,1803.3 2201.3,1803.4 2202,1803.5 2202.6,1803.5 2203.3,1803.6 2204,1803.6 2204.6,1803.7 2205.3,1803.7 2206,1803.8" fill="none" stroke="#222" stroke-width="3" stroke-linejoin="round"/>
<path d="M1431,1783 C1437.5,1783.6 1446,1785.9 1470,1786.5 C1494,1787.1 1550.6,1787.5 1574.7,1786.6 C1598.8,1785.7 1601.4,1782.7 1614.8,1781.3 C1628.2,1779.9 1643.4,1779.1 1655,1778 C1666.6,1776.9 1675.1,1776.1 1684.5,1774.6 C1693.9,1773.1 1702.4,1771 1711.3,1769.2 C1720.2,1767.4 1729.1,1766.4 1738,1763.9 C1746.9,1761.5 1756.9,1759.2 1764.9,1754.5 C1773,1749.8 1780,1742.9 1786.3,1735.7 C1792.5,1728.5 1797.5,1720.5 1802.4,1711.6 C1807.3,1702.7 1811.2,1694.2 1815.7,1682.2 C1820.2,1670.2 1825.1,1653.2 1829.1,1639.3 C1833.1,1625.4 1836.3,1613.4 1839.9,1599.1 C1843.5,1584.8 1847.8,1567.8 1850.6,1553.6 C1853.4,1539.4 1854.1,1533.9 1857,1514 C1859.9,1494.1 1864.1,1458 1868,1434.3 C1871.9,1410.6 1876.2,1391.1 1880.4,1371.8 C1884.6,1352.5 1889,1334.6 1892.9,1318.2 C1896.8,1301.8 1900.3,1285.5 1903.6,1273.6 C1906.9,1261.7 1909.5,1253.2 1912.5,1246.8 C1915.5,1240.4 1918.1,1235.8 1921.4,1235.2 C1924.7,1234.6 1928.5,1237.7 1932.1,1243.2 C1935.7,1248.7 1939.3,1258.4 1942.9,1268.2 C1946.5,1278 1950.3,1290.8 1953.6,1302.1 C1956.9,1313.4 1959.5,1325.1 1962.5,1336.1 C1965.5,1347.1 1968.7,1359 1971.4,1368.2 C1974.1,1377.4 1975.9,1383.7 1978.6,1391.4 C1981.3,1399.1 1983.9,1407.1 1987.5,1414.6 C1991.1,1422 1995.5,1429.8 2000,1436.1 C2004.5,1442.3 2009.8,1447 2014.3,1452.1 C2018.8,1457.1 2022.5,1459.7 2026.8,1466.4 C2031.1,1473.1 2035.1,1481.1 2040.1,1492.2 C2045,1503.3 2051,1516 2056.5,1533.1 C2062,1550.2 2067.4,1574.1 2072.9,1594.6 C2078.4,1615.1 2083.9,1635.5 2089.3,1656 C2094.8,1676.5 2099.8,1700 2105.6,1717.4 C2111.4,1734.8 2117.5,1749.1 2124,1760.4 C2130.5,1771.7 2136,1778.8 2144.6,1785 C2153.2,1791.2 2163.4,1794 2175.3,1797.3 C2187.2,1800.5 2203.8,1802.8 2216.2,1804.5 C2228.6,1806.2 2236,1806.4 2250,1807.5 C2264,1808.6 2282.2,1809.9 2300,1811 C2317.8,1812.1 2347.5,1813.8 2357,1814.3" fill="none" stroke="#00b060" stroke-width="4" stroke-linejoin="round"/>
<rect x="1431" y="1148.6" width="926.7" height="748.3" stroke="#000" stroke-width="5.5" fill="none"/>
<line x1="2357.2" y1="1896.9" x2="2357.2" y2="1882.2" stroke="#000" stroke-width="4" stroke-linecap="butt"/>
<text x="2357.2" y="1941.3" font-size="38.5" text-anchor="middle" font-weight="bold" fill="#000">526</text>
<line x1="2189.2" y1="1896.9" x2="2189.2" y2="1882.2" stroke="#000" stroke-width="4" stroke-linecap="butt"/>
<text x="2189.2" y="1941.3" font-size="38.5" text-anchor="middle" font-weight="bold" fill="#000">528</text>
<line x1="2021.2" y1="1896.9" x2="2021.2" y2="1882.2" stroke="#000" stroke-width="4" stroke-linecap="butt"/>
<text x="2021.2" y="1941.3" font-size="38.5" text-anchor="middle" font-weight="bold" fill="#000">530</text>
<line x1="1853.2" y1="1896.9" x2="1853.2" y2="1882.2" stroke="#000" stroke-width="4" stroke-linecap="butt"/>
<text x="1853.2" y="1941.3" font-size="38.5" text-anchor="middle" font-weight="bold" fill="#000">532</text>
<line x1="1685.2" y1="1896.9" x2="1685.2" y2="1882.2" stroke="#000" stroke-width="4" stroke-linecap="butt"/>
<text x="1685.2" y="1941.3" font-size="38.5" text-anchor="middle" font-weight="bold" fill="#000">534</text>
<line x1="1517.2" y1="1896.9" x2="1517.2" y2="1882.2" stroke="#000" stroke-width="4" stroke-linecap="butt"/>
<text x="1517.2" y="1941.3" font-size="38.5" text-anchor="middle" font-weight="bold" fill="#000">536</text>
<line x1="2273.2" y1="1896.9" x2="2273.2" y2="1887.7" stroke="#000" stroke-width="4" stroke-linecap="butt"/>
<line x1="2105.2" y1="1896.9" x2="2105.2" y2="1887.7" stroke="#000" stroke-width="4" stroke-linecap="butt"/>
<line x1="1937.2" y1="1896.9" x2="1937.2" y2="1887.7" stroke="#000" stroke-width="4" stroke-linecap="butt"/>
<line x1="1769.2" y1="1896.9" x2="1769.2" y2="1887.7" stroke="#000" stroke-width="4" stroke-linecap="butt"/>
<line x1="1601.2" y1="1896.9" x2="1601.2" y2="1887.7" stroke="#000" stroke-width="4" stroke-linecap="butt"/>
<line x1="1431" y1="1865" x2="1445.8" y2="1865" stroke="#000" stroke-width="4" stroke-linecap="butt"/>
<text x="1414" y="1874" font-size="38.5" text-anchor="end" font-weight="bold" fill="#000">0</text>
<line x1="1431" y1="1775.7" x2="1445.8" y2="1775.7" stroke="#000" stroke-width="4" stroke-linecap="butt"/>
<text x="1414" y="1784.7" font-size="38.5" text-anchor="end" font-weight="bold" fill="#000">2000</text>
<line x1="1431" y1="1686.4" x2="1445.8" y2="1686.4" stroke="#000" stroke-width="4" stroke-linecap="butt"/>
<text x="1414" y="1695.4" font-size="38.5" text-anchor="end" font-weight="bold" fill="#000">4000</text>
<line x1="1431" y1="1597.1" x2="1445.8" y2="1597.1" stroke="#000" stroke-width="4" stroke-linecap="butt"/>
<text x="1414" y="1606.1" font-size="38.5" text-anchor="end" font-weight="bold" fill="#000">6000</text>
<line x1="1431" y1="1507.8" x2="1445.8" y2="1507.8" stroke="#000" stroke-width="4" stroke-linecap="butt"/>
<text x="1414" y="1516.8" font-size="38.5" text-anchor="end" font-weight="bold" fill="#000">8000</text>
<line x1="1431" y1="1418.6" x2="1445.8" y2="1418.6" stroke="#000" stroke-width="4" stroke-linecap="butt"/>
<text x="1414" y="1427.6" font-size="38.5" text-anchor="end" font-weight="bold" fill="#000">10000</text>
<line x1="1431" y1="1329.3" x2="1445.8" y2="1329.3" stroke="#000" stroke-width="4" stroke-linecap="butt"/>
<text x="1414" y="1338.3" font-size="38.5" text-anchor="end" font-weight="bold" fill="#000">12000</text>
<line x1="1431" y1="1240" x2="1445.8" y2="1240" stroke="#000" stroke-width="4" stroke-linecap="butt"/>
<text x="1414" y="1249" font-size="38.5" text-anchor="end" font-weight="bold" fill="#000">14000</text>
<line x1="1431" y1="1150.7" x2="1445.8" y2="1150.7" stroke="#000" stroke-width="4" stroke-linecap="butt"/>
<text x="1414" y="1159.7" font-size="38.5" text-anchor="end" font-weight="bold" fill="#000">16000</text>
<line x1="1431" y1="1820.4" x2="1440.2" y2="1820.4" stroke="#000" stroke-width="4" stroke-linecap="butt"/>
<line x1="1431" y1="1731.1" x2="1440.2" y2="1731.1" stroke="#000" stroke-width="4" stroke-linecap="butt"/>
<line x1="1431" y1="1641.8" x2="1440.2" y2="1641.8" stroke="#000" stroke-width="4" stroke-linecap="butt"/>
<line x1="1431" y1="1552.5" x2="1440.2" y2="1552.5" stroke="#000" stroke-width="4" stroke-linecap="butt"/>
<line x1="1431" y1="1463.2" x2="1440.2" y2="1463.2" stroke="#000" stroke-width="4" stroke-linecap="butt"/>
<line x1="1431" y1="1373.9" x2="1440.2" y2="1373.9" stroke="#000" stroke-width="4" stroke-linecap="butt"/>
<line x1="1431" y1="1284.6" x2="1440.2" y2="1284.6" stroke="#000" stroke-width="4" stroke-linecap="butt"/>
<line x1="1431" y1="1195.3" x2="1440.2" y2="1195.3" stroke="#000" stroke-width="4" stroke-linecap="butt"/>
<text x="1348.6" y="1095" font-size="70.5" text-anchor="start" font-weight="bold" fill="#000" textLength="84.5" lengthAdjust="spacingAndGlyphs">(d)</text>
<text x="1270.6" y="1496" font-size="55" text-anchor="middle" font-weight="bold" fill="#000" textLength="170" lengthAdjust="spacingAndGlyphs" transform="rotate(-90 1270.6 1496)">Counts</text>
<text x="1651.6" y="2029" font-size="54" text-anchor="start" font-weight="bold" fill="#000" textLength="478.4" lengthAdjust="spacingAndGlyphs">Binding Energy(eV)</text>
<rect x="1971.5" y="1148.6" width="387.2" height="174" stroke="#000" stroke-width="5.5" fill="#fff"/>
<line x1="1973.3" y1="1177.4" x2="2011.8" y2="1177.4" stroke="#333" stroke-width="4.5" stroke-linecap="butt"/>
<text x="2021.5" y="1181" font-size="37" text-anchor="start" font-weight="bold" fill="#000" textLength="214.5" lengthAdjust="spacingAndGlyphs">531.1eV(C=O)</text>
<line x1="1973.3" y1="1222" x2="2011.8" y2="1222" stroke="#ff1a1a" stroke-width="4.5" stroke-linecap="butt"/>
<text x="2021.5" y="1224.4" font-size="37" text-anchor="start" font-weight="bold" fill="#000" textLength="331.5" lengthAdjust="spacingAndGlyphs">529.8eV(Metal Oxide)</text>
<line x1="1973.3" y1="1265.4" x2="2011.8" y2="1265.4" stroke="#0050e0" stroke-width="4.5" stroke-linecap="butt"/>
<text x="2021.5" y="1267.8" font-size="37" text-anchor="start" font-weight="bold" fill="#000" textLength="132.5" lengthAdjust="spacingAndGlyphs">Backgnd</text>
<line x1="1973.3" y1="1310" x2="2011.8" y2="1310" stroke="#00b060" stroke-width="4.5" stroke-linecap="butt"/>
<text x="2021.5" y="1311.6" font-size="37" text-anchor="start" font-weight="bold" fill="#000" textLength="71" lengthAdjust="spacingAndGlyphs">O 1s</text>
<path d="M476.7,2543.3 C480,2546.1 490.8,2554.3 496.7,2560 C502.6,2565.7 506.4,2570.8 512,2577.5 C517.5,2584.2 523.7,2594.6 530,2600 C536.3,2605.4 543.9,2611.1 550,2610 C556.1,2608.9 561.7,2599.7 566.7,2593.3 C571.7,2586.9 575.8,2576.4 580,2571.7 C584.2,2567 587.8,2564.7 591.7,2565 C595.6,2565.3 599.1,2566.4 603.3,2573.3 C607.5,2580.2 612.2,2595 616.7,2606.7 C621.2,2618.4 625.6,2632.2 630,2643.3 C634.4,2654.4 638.8,2665 643.3,2673.3 C647.8,2681.6 651.7,2686.1 656.7,2693.3 C661.7,2700.5 667.8,2707.2 673.3,2716.7 C678.8,2726.1 684.4,2737.2 690,2750 C695.6,2762.8 701.7,2780 706.7,2793.3 C711.7,2806.6 715.6,2820 720,2830 C724.4,2840 728.3,2847.8 733.3,2853.3 C738.3,2858.9 743.3,2861.4 750,2863.3 C756.7,2865.2 765,2864.4 773.3,2865 C781.6,2865.6 791.7,2867 800,2866.7 C808.3,2866.4 816.1,2864.1 823.3,2863.3 C830.5,2862.5 840,2862 843.3,2861.7" fill="none" stroke="#00b060" stroke-width="4" stroke-linejoin="round"/>
<path d="M301.7,2453.3 C303.6,2454.1 310,2455.5 313.3,2458.3 C316.6,2461.1 319.5,2465.8 321.7,2470 C323.9,2474.2 324.8,2480.5 326.7,2483.3 C328.6,2486.1 328.3,2485.6 333.3,2486.7 C338.3,2487.8 348.9,2488.6 356.7,2490 C364.5,2491.4 371.7,2492.2 380,2495 C388.3,2497.8 398.4,2503.1 406.7,2506.7 C415,2510.3 421.7,2513.1 430,2516.7 C438.3,2520.3 448.9,2523.9 456.7,2528.3 C464.5,2532.7 470,2538 476.7,2543.3 C483.4,2548.6 490,2552.8 496.7,2560 C503.4,2567.2 510.6,2578.4 516.7,2586.7 C522.8,2595 527.8,2603.1 533.3,2610 C538.8,2616.9 543.3,2622.8 550,2628.3 C556.7,2633.9 565.5,2638.3 573.3,2643.3 C581.1,2648.3 588.4,2653.3 596.7,2658.3 C605,2663.3 614.4,2667.5 623.3,2673.3 C632.2,2679.1 642.2,2686.1 650,2693.3 C657.8,2700.5 663.3,2707.2 670,2716.7 C676.7,2726.1 683.9,2737.2 690,2750 C696.1,2762.8 701.7,2780 706.7,2793.3 C711.7,2806.6 715.6,2820 720,2830 C724.4,2840 728.3,2847.8 733.3,2853.3 C738.3,2858.9 743.3,2861.4 750,2863.3 C756.7,2865.2 765,2864.4 773.3,2865 C781.6,2865.6 791.7,2867 800,2866.7 C808.3,2866.4 816.1,2864.1 823.3,2863.3 C830.5,2862.5 840,2862 843.3,2861.7" fill="none" stroke="#c070e8" stroke-width="4" stroke-linejoin="round"/>
<path d="M328.3,2480 C331.9,2478.3 343.1,2474.2 350,2470 C356.9,2465.8 363.6,2459.2 370,2455 C376.4,2450.8 382.8,2444.7 388.3,2445 C393.9,2445.3 397.5,2449.8 403.3,2456.7 C409.1,2463.6 417.2,2477.8 423.3,2486.7 C429.4,2495.6 434.4,2503.9 440,2510 C445.6,2516.1 450.6,2518.1 456.7,2523.3 C462.8,2528.5 473.4,2538.1 476.7,2541" fill="none" stroke="#0050e0" stroke-width="4" stroke-linejoin="round"/>
<path d="M326.7,2481.7 C331.7,2482.8 346.1,2485.8 356.7,2488.3 C367.2,2490.8 378.9,2493.9 390,2496.7 C401.1,2499.5 413.9,2503.3 423.3,2505 C432.8,2506.7 440,2508.6 446.7,2506.7 C453.4,2504.8 458.6,2499.2 463.3,2493.3 C468,2487.4 471.4,2479.6 475,2471 C478.6,2462.4 481.3,2453.2 484.8,2442 C488.3,2430.8 492.7,2413.7 496.2,2404 C499.7,2394.3 502.5,2389.1 505.7,2384 C508.9,2378.9 512,2373.3 515.2,2373.3 C518.4,2373.3 521.6,2377.9 524.8,2384 C528,2390.1 531.4,2400.3 534.3,2410 C537.1,2419.7 539.4,2429.5 541.9,2442 C544.4,2454.5 546.5,2470.3 549,2485 C551.5,2499.7 553.2,2513.1 556.7,2530 C560.2,2546.9 565.6,2570.6 570,2586.7 C574.4,2602.8 577.8,2615 583.3,2626.7 C588.8,2638.4 596.6,2649.2 603.3,2656.7 C610,2664.2 616.6,2667.3 623.3,2671.7 C630,2676.1 638.5,2679.8 643.3,2683.3 C648.1,2686.9 650.5,2691.4 652,2693" fill="none" stroke="#ff1a1a" stroke-width="4" stroke-linejoin="round"/>
<path d="M653.3,2685 C655.5,2683.9 662.8,2683.6 666.7,2678.3 C670.6,2673 674.2,2663 676.7,2653.3 C679.2,2643.6 680.3,2633.1 682,2620 C683.7,2606.9 685.3,2592.3 686.7,2575 C688.1,2557.7 689.2,2535.5 690.5,2516.2 C691.8,2496.9 693,2476.5 694.3,2459 C695.6,2441.5 696.8,2425.7 698.1,2411.4 C699.4,2397.1 700,2383.8 701.9,2373.3 C703.8,2362.8 707.1,2348.3 709.5,2348.6 C711.9,2348.9 714,2363.1 716,2375 C718,2386.9 719.9,2399.2 721.5,2420 C723.1,2440.8 724.2,2473.3 725.5,2500 C726.8,2526.7 727.1,2544.4 729,2580 C730.9,2615.6 733.2,2674.4 736.7,2713.3 C740.2,2752.2 745,2791.1 750,2813.3 C755,2835.5 760,2839.5 766.7,2846.7 C773.4,2853.9 780.6,2854.5 790,2856.7 C799.4,2858.9 814.4,2859.2 823.3,2860 C832.2,2860.8 840,2861.4 843.3,2861.7" fill="none" stroke="#222" stroke-width="3.2" stroke-linejoin="round"/>
<path d="M301.7,2451.7 C303.6,2452.2 310,2452.2 313.3,2455 C316.6,2457.8 319.2,2464.4 321.7,2468.3 C324.2,2472.2 324.7,2478 328.3,2478.3 C331.9,2478.6 337.5,2473.9 343.3,2470 C349.1,2466.1 356.1,2459.7 363.3,2455 C370.5,2450.3 380,2442.8 386.7,2441.7 C393.4,2440.6 397.2,2443.3 403.3,2448.3 C409.4,2453.3 417.2,2464.8 423.3,2471.7 C429.4,2478.6 435,2486.1 440,2490 C445,2493.9 448.9,2495.6 453.3,2495 C457.8,2494.4 463.1,2491 466.7,2486.7 C470.3,2482.4 472,2476.8 475,2469 C478,2461.2 481.3,2451.2 484.8,2440 C488.3,2428.8 492.7,2411.7 496.2,2401.9 C499.7,2392.1 502.5,2386.4 505.7,2381 C508.9,2375.6 512,2369.5 515.2,2369.5 C518.4,2369.5 521.6,2374.7 524.8,2381 C528,2387.3 531.4,2397.8 534.3,2407.6 C537.1,2417.4 539,2426.7 541.9,2440 C544.8,2453.3 548.2,2473.9 551.4,2487.6 C554.6,2501.2 557.8,2513.7 561,2521.9 C564.2,2530.2 567,2534.9 570.5,2537.1 C574,2539.3 578.1,2534.5 581.9,2535.2 C585.7,2535.8 589.5,2537.8 593.3,2541 C597.1,2544.2 600.3,2547.8 604.8,2554.3 C609.2,2560.8 615.5,2573.5 620,2580 C624.5,2586.5 627.8,2593.3 631.7,2593.3 C635.6,2593.3 639.1,2588.9 643.3,2580 C647.5,2571.1 653,2550.6 656.7,2540 C660.4,2529.4 662.3,2526.5 665.7,2516.2 C669.1,2505.9 673.9,2492.3 677.1,2478 C680.3,2463.7 682.2,2449.5 684.8,2430.5 C687.3,2411.5 689.9,2386.1 692.4,2363.8 C694.9,2341.6 697.5,2312.6 700,2297 C702.5,2281.4 705.1,2270.5 707.6,2270.5 C710.1,2270.5 713,2283 715.2,2297 C717.4,2311 719.4,2335.2 721,2354.3 C722.6,2373.4 723.7,2390.5 724.8,2411.4 C725.9,2432.3 726.5,2455.2 727.5,2480 C728.5,2504.8 729.5,2535.8 730.5,2560 C731.5,2584.2 731.7,2593.9 733.8,2625 C735.9,2656.1 739.5,2713.6 743.3,2746.7 C747.1,2779.8 751.7,2806.6 756.7,2823.3 C761.7,2840 766.6,2841.4 773.3,2846.7 C780,2852 788.4,2853.1 796.7,2855 C805,2856.9 815.5,2857.5 823.3,2858.3 C831.1,2859.1 840,2859.7 843.3,2860" fill="none" stroke="#e0a000" stroke-width="4.5" stroke-linejoin="round"/>
<rect x="234" y="2215.3" width="923.7" height="748.1" stroke="#000" stroke-width="5.5" fill="none"/>
<line x1="1131" y1="2963.4" x2="1131" y2="2977.2" stroke="#000" stroke-width="4" stroke-linecap="butt"/>
<text x="1131" y="3018.9" font-size="38.5" text-anchor="middle" font-weight="bold" fill="#000">680</text>
<line x1="993" y1="2963.4" x2="993" y2="2977.2" stroke="#000" stroke-width="4" stroke-linecap="butt"/>
<text x="993" y="3018.9" font-size="38.5" text-anchor="middle" font-weight="bold" fill="#000">690</text>
<line x1="855.1" y1="2963.4" x2="855.1" y2="2977.2" stroke="#000" stroke-width="4" stroke-linecap="butt"/>
<text x="855.1" y="3018.9" font-size="38.5" text-anchor="middle" font-weight="bold" fill="#000">700</text>
<line x1="717.1" y1="2963.4" x2="717.1" y2="2977.2" stroke="#000" stroke-width="4" stroke-linecap="butt"/>
<text x="717.1" y="3018.9" font-size="38.5" text-anchor="middle" font-weight="bold" fill="#000">710</text>
<line x1="579.2" y1="2963.4" x2="579.2" y2="2977.2" stroke="#000" stroke-width="4" stroke-linecap="butt"/>
<text x="579.2" y="3018.9" font-size="38.5" text-anchor="middle" font-weight="bold" fill="#000">720</text>
<line x1="441.2" y1="2963.4" x2="441.2" y2="2977.2" stroke="#000" stroke-width="4" stroke-linecap="butt"/>
<text x="441.2" y="3018.9" font-size="38.5" text-anchor="middle" font-weight="bold" fill="#000">730</text>
<line x1="303.3" y1="2963.4" x2="303.3" y2="2977.2" stroke="#000" stroke-width="4" stroke-linecap="butt"/>
<text x="303.3" y="3018.9" font-size="38.5" text-anchor="middle" font-weight="bold" fill="#000">740</text>
<line x1="1062" y1="2963.4" x2="1062" y2="2970.2" stroke="#000" stroke-width="4" stroke-linecap="butt"/>
<line x1="924.1" y1="2963.4" x2="924.1" y2="2970.2" stroke="#000" stroke-width="4" stroke-linecap="butt"/>
<line x1="786.1" y1="2963.4" x2="786.1" y2="2970.2" stroke="#000" stroke-width="4" stroke-linecap="butt"/>
<line x1="648.2" y1="2963.4" x2="648.2" y2="2970.2" stroke="#000" stroke-width="4" stroke-linecap="butt"/>
<line x1="510.2" y1="2963.4" x2="510.2" y2="2970.2" stroke="#000" stroke-width="4" stroke-linecap="butt"/>
<line x1="372.3" y1="2963.4" x2="372.3" y2="2970.2" stroke="#000" stroke-width="4" stroke-linecap="butt"/>
<line x1="234.3" y1="2963.4" x2="234.3" y2="2970.2" stroke="#000" stroke-width="4" stroke-linecap="butt"/>
<line x1="234" y1="2962.3" x2="220.2" y2="2962.3" stroke="#000" stroke-width="4" stroke-linecap="butt"/>
<text x="204" y="2969.8" font-size="38.5" text-anchor="end" font-weight="bold" fill="#000">2000</text>
<line x1="234" y1="2847.5" x2="220.2" y2="2847.5" stroke="#000" stroke-width="4" stroke-linecap="butt"/>
<text x="204" y="2855" font-size="38.5" text-anchor="end" font-weight="bold" fill="#000">3000</text>
<line x1="234" y1="2732.8" x2="220.2" y2="2732.8" stroke="#000" stroke-width="4" stroke-linecap="butt"/>
<text x="204" y="2740.3" font-size="38.5" text-anchor="end" font-weight="bold" fill="#000">4000</text>
<line x1="234" y1="2618" x2="220.2" y2="2618" stroke="#000" stroke-width="4" stroke-linecap="butt"/>
<text x="204" y="2625.5" font-size="38.5" text-anchor="end" font-weight="bold" fill="#000">5000</text>
<line x1="234" y1="2503.2" x2="220.2" y2="2503.2" stroke="#000" stroke-width="4" stroke-linecap="butt"/>
<text x="204" y="2510.7" font-size="38.5" text-anchor="end" font-weight="bold" fill="#000">6000</text>
<line x1="234" y1="2388.5" x2="220.2" y2="2388.5" stroke="#000" stroke-width="4" stroke-linecap="butt"/>
<text x="204" y="2396" font-size="38.5" text-anchor="end" font-weight="bold" fill="#000">7000</text>
<line x1="234" y1="2273.7" x2="220.2" y2="2273.7" stroke="#000" stroke-width="4" stroke-linecap="butt"/>
<text x="204" y="2281.2" font-size="38.5" text-anchor="end" font-weight="bold" fill="#000">8000</text>
<line x1="234" y1="2904.9" x2="227.2" y2="2904.9" stroke="#000" stroke-width="4" stroke-linecap="butt"/>
<line x1="234" y1="2790.2" x2="227.2" y2="2790.2" stroke="#000" stroke-width="4" stroke-linecap="butt"/>
<line x1="234" y1="2675.4" x2="227.2" y2="2675.4" stroke="#000" stroke-width="4" stroke-linecap="butt"/>
<line x1="234" y1="2560.6" x2="227.2" y2="2560.6" stroke="#000" stroke-width="4" stroke-linecap="butt"/>
<line x1="234" y1="2445.8" x2="227.2" y2="2445.8" stroke="#000" stroke-width="4" stroke-linecap="butt"/>
<line x1="234" y1="2331.1" x2="227.2" y2="2331.1" stroke="#000" stroke-width="4" stroke-linecap="butt"/>
<line x1="234" y1="2216.3" x2="227.2" y2="2216.3" stroke="#000" stroke-width="4" stroke-linecap="butt"/>
<text x="141.4" y="2178.5" font-size="70.5" text-anchor="start" font-weight="bold" fill="#000" textLength="77.4" lengthAdjust="spacingAndGlyphs">(e)</text>
<text x="81" y="2567.6" font-size="55" text-anchor="middle" font-weight="bold" fill="#000" textLength="166" lengthAdjust="spacingAndGlyphs" transform="rotate(-90 81 2567.6)">Counts</text>
<text x="454.5" y="3096" font-size="54" text-anchor="start" font-weight="bold" fill="#000" textLength="479.5" lengthAdjust="spacingAndGlyphs">Binding Energy(eV)</text>
<rect x="735" y="2215.3" width="423.6" height="245.7" stroke="#000" stroke-width="5.5" fill="#fff"/>
<line x1="735" y1="2236.9" x2="758" y2="2236.9" stroke="#333" stroke-width="4.5" stroke-linecap="butt"/>
<text x="762" y="2240.7" font-size="26.5" text-anchor="start" font-weight="bold" fill="#000" textLength="308.4" lengthAdjust="spacingAndGlyphs">710.6eV(Fe<tspan font-size="19" dy="6">2</tspan><tspan dy="-6">O<tspan font-size="19" dy="6">3</tspan><tspan dy="-6"> Fe 2p3/2)</tspan></tspan></text>
<line x1="735" y1="2281.7" x2="758" y2="2281.7" stroke="#ff1a1a" stroke-width="4.5" stroke-linecap="butt"/>
<text x="762" y="2284.2" font-size="26.5" text-anchor="start" font-weight="bold" fill="#000" textLength="312.3" lengthAdjust="spacingAndGlyphs">724.6eV(Fe<tspan font-size="19" dy="6">2</tspan><tspan dy="-6">O<tspan font-size="19" dy="6">3</tspan><tspan dy="-6"> Fe 2p1/2)</tspan></tspan></text>
<line x1="735" y1="2330.3" x2="758" y2="2330.3" stroke="#0050e0" stroke-width="4.5" stroke-linecap="butt"/>
<text x="762" y="2335.4" font-size="26.5" text-anchor="start" font-weight="bold" fill="#000" textLength="390.3" lengthAdjust="spacingAndGlyphs">733.4eV(Fe<tspan font-size="19" dy="-9">3+</tspan><tspan dy="9"> Fe 2p1/2 satellite)</tspan></text>
<line x1="735" y1="2373.8" x2="758" y2="2373.8" stroke="#00b060" stroke-width="4.5" stroke-linecap="butt"/>
<text x="762" y="2377.6" font-size="26.5" text-anchor="start" font-weight="bold" fill="#000" textLength="390.3" lengthAdjust="spacingAndGlyphs">718.8eV(Fe<tspan font-size="19" dy="-9">3+</tspan><tspan dy="9"> Fe 2p3/2 satellite)</tspan></text>
<line x1="735" y1="2412.2" x2="758" y2="2412.2" stroke="#c070e8" stroke-width="4.5" stroke-linecap="butt"/>
<text x="762" y="2414.8" font-size="26.5" text-anchor="start" font-weight="bold" fill="#000" textLength="108.8" lengthAdjust="spacingAndGlyphs">Backgnd</text>
<line x1="735" y1="2450.6" x2="758" y2="2450.6" stroke="#e0a000" stroke-width="4.5" stroke-linecap="butt"/>
<text x="762" y="2451.9" font-size="26.5" text-anchor="start" font-weight="bold" fill="#000" textLength="69" lengthAdjust="spacingAndGlyphs">Fe 2p</text>
<line x1="1490" y1="2968" x2="1490" y2="2855.7" stroke="#ff2020" stroke-width="4" stroke-linecap="butt"/>
<line x1="1536.6" y1="2968" x2="1536.6" y2="2858.6" stroke="#ff2020" stroke-width="4" stroke-linecap="butt"/>
<line x1="1610" y1="2968" x2="1610" y2="2858.6" stroke="#ff2020" stroke-width="4" stroke-linecap="butt"/>
<line x1="1638.6" y1="2968" x2="1638.6" y2="2858.6" stroke="#ff2020" stroke-width="4" stroke-linecap="butt"/>
<line x1="1697.1" y1="2968" x2="1697.1" y2="2822.9" stroke="#ff2020" stroke-width="4" stroke-linecap="butt"/>
<line x1="1719.4" y1="2968" x2="1719.4" y2="2861.4" stroke="#ff2020" stroke-width="4" stroke-linecap="butt"/>
<line x1="1743.7" y1="2968" x2="1743.7" y2="2861.4" stroke="#ff2020" stroke-width="4" stroke-linecap="butt"/>
<line x1="1768.6" y1="2968" x2="1768.6" y2="2753.7" stroke="#ff2020" stroke-width="4" stroke-linecap="butt"/>
<line x1="1790" y1="2968" x2="1790" y2="2858.6" stroke="#ff2020" stroke-width="4" stroke-linecap="butt"/>
<line x1="1809.1" y1="2968" x2="1809.1" y2="2861.4" stroke="#ff2020" stroke-width="4" stroke-linecap="butt"/>
<line x1="1833.7" y1="2968" x2="1833.7" y2="2861.4" stroke="#ff2020" stroke-width="4" stroke-linecap="butt"/>
<line x1="1872" y1="2968" x2="1872" y2="2844.3" stroke="#ff2020" stroke-width="4" stroke-linecap="butt"/>
<line x1="1891" y1="2968" x2="1891" y2="2860.5" stroke="#ff2020" stroke-width="4" stroke-linecap="butt"/>
<line x1="1909.2" y1="2968" x2="1909.2" y2="2860.5" stroke="#ff2020" stroke-width="4" stroke-linecap="butt"/>
<line x1="1961.8" y1="2968" x2="1961.8" y2="2860.5" stroke="#ff2020" stroke-width="4" stroke-linecap="butt"/>
<line x1="2011" y1="2968" x2="2011" y2="2852.5" stroke="#ff2020" stroke-width="4" stroke-linecap="butt"/>
<line x1="2027.3" y1="2968" x2="2027.3" y2="2860.5" stroke="#ff2020" stroke-width="4" stroke-linecap="butt"/>
<line x1="2042.5" y1="2968" x2="2042.5" y2="2860.5" stroke="#ff2020" stroke-width="4" stroke-linecap="butt"/>
<line x1="2060" y1="2968" x2="2060" y2="2837.6" stroke="#ff2020" stroke-width="4" stroke-linecap="butt"/>
<line x1="2089.2" y1="2968" x2="2089.2" y2="2860.5" stroke="#ff2020" stroke-width="4" stroke-linecap="butt"/>
<line x1="2106.8" y1="2968" x2="2106.8" y2="2860.5" stroke="#ff2020" stroke-width="4" stroke-linecap="butt"/>
<line x1="2136" y1="2968" x2="2136" y2="2825.7" stroke="#ff2020" stroke-width="4" stroke-linecap="butt"/>
<line x1="2150.2" y1="2968" x2="2150.2" y2="2860.5" stroke="#ff2020" stroke-width="4" stroke-linecap="butt"/>
<line x1="2164.2" y1="2968" x2="2164.2" y2="2860.5" stroke="#ff2020" stroke-width="4" stroke-linecap="butt"/>
<line x1="2194" y1="2968" x2="2194" y2="2860.5" stroke="#ff2020" stroke-width="4" stroke-linecap="butt"/>
<line x1="2207.4" y1="2968" x2="2207.4" y2="2860.5" stroke="#ff2020" stroke-width="4" stroke-linecap="butt"/>
<line x1="2220.2" y1="2968" x2="2220.2" y2="2860.5" stroke="#ff2020" stroke-width="4" stroke-linecap="butt"/>
<line x1="2248.5" y1="2968" x2="2248.5" y2="2858.5" stroke="#ff2020" stroke-width="4" stroke-linecap="butt"/>
<line x1="2263.3" y1="2968" x2="2263.3" y2="2860.5" stroke="#ff2020" stroke-width="4" stroke-linecap="butt"/>
<line x1="2289.5" y1="2968" x2="2289.5" y2="2858.5" stroke="#ff2020" stroke-width="4" stroke-linecap="butt"/>
<line x1="2303.2" y1="2968" x2="2303.2" y2="2860.5" stroke="#ff2020" stroke-width="4" stroke-linecap="butt"/>
<line x1="2316.3" y1="2968" x2="2316.3" y2="2860.5" stroke="#ff2020" stroke-width="4" stroke-linecap="butt"/>
<line x1="2330.3" y1="2968" x2="2330.3" y2="2860.5" stroke="#ff2020" stroke-width="4" stroke-linecap="butt"/>
<line x1="2356.2" y1="2968" x2="2356.2" y2="2860.5" stroke="#ff2020" stroke-width="4" stroke-linecap="butt"/>
<path d="M1422.9,2500 1428.6,2554 1437,2588.6 1448.6,2617 1462.9,2645.7 1477,2665.7 1500,2680 1534.3,2682.9 1562.9,2688.6 1591.4,2691.4 1620,2688.6 1648.6,2677 1677,2660 1705.7,2645.7 1728.6,2622.9 1742.9,2588.6 1754.3,2540 1762.9,2497 1767,2465 1771.4,2511 1780,2560 1788.6,2622.9 1797,2668.6 1806.2,2704.8 1819.3,2715.2 1838.9,2714 1858.6,2712.6 1878.2,2717.9 1891.3,2737.5 1911,2750.6 1937.2,2757.2 1956.8,2759.8 1976.4,2754.5 1996.1,2744 2025.8,2723.3 2055,2711.7 2084.2,2723.3 2101.7,2711.7 2119.2,2682.5 2127.9,2676.7 2142.5,2691.2 2157.1,2729.2 2171.7,2758.3 2200.8,2772.9 2230,2775.8 2259.2,2772.9 2288.3,2775.8 2317.5,2790.4 2346.7,2799.2 2360.5,2796.2" fill="none" stroke="#000" stroke-width="5" stroke-linejoin="round"/>
<path d="M1423.5,2505.7 1424.5,2515.2 1425.5,2524.6 1426.5,2534.1 1427.5,2543.6 1428.5,2553.1 1429.5,2557.7 1430.5,2561.8 1431.5,2565.9 1432.5,2570.1 1433.5,2574.2 1434.5,2578.3 1435.5,2582.4 1436.5,2586.5 1437.5,2589.8 1438.5,2592.3 1439.5,2594.7 1440.5,2597.2 1441.5,2599.6 1442.5,2602.1 1443.5,2604.5 1444.5,2607 1445.5,2609.4 1446.5,2611.9 1447.5,2614.3 1448.5,2616.8 1449.5,2618.8" fill="none" stroke="#000" stroke-width="9" stroke-linejoin="round"/>
<path d="M1738,2600.4 1739,2598 1740,2595.6 1741,2593.2 1742,2590.8 1743,2588.2 1744,2583.9 1745,2579.6 1746,2575.4 1747,2571.1 1748,2566.9 1749,2562.6 1750,2558.3 1751,2554.1 1752,2549.8 1753,2545.5 1754,2541.3 1755,2536.5 1756,2531.5 1757,2526.5 1758,2521.5 1759,2516.5 1760,2511.5 1761,2506.5 1762,2501.5 1763,2496.2 1764,2488.4 1765,2485 1766,2485 1767,2485 1768,2485 1769,2485.9 1770,2496.4 1771,2506.8 1772,2514.4 1773,2520.1 1774,2525.8 1775,2531.5 1776,2537.2 1777,2542.9 1778,2548.6 1779,2554.3 1780,2560 1781,2567.3 1782,2574.6 1783,2581.9 1784,2589.3 1785,2596.6 1786,2603.9 1787,2611.2 1788,2618.5 1789,2625.1 1790,2630.5 1791,2636 1792,2641.4 1793,2646.8 1794,2652.3 1795,2657.7 1796,2663.2 1797,2668.6 1798,2672.5 1799,2676.5 1800,2680.4 1801,2684.3 1802,2688.3 1803,2692.2 1804,2696.1 1805,2700.1" fill="none" stroke="#000" stroke-width="11" stroke-linejoin="round"/>
<path d="M2110,2697.9 2111,2696.2 2112,2694.5 2113,2692.8 2114,2691.2 2115,2689.5 2116,2687.8 2117,2686.2 2118,2684.5 2119,2682.8 2120,2682 2121,2681.3 2122,2680.6 2123,2680 2124,2679.3 2125,2678.6 2126,2678 2127,2677.3 2128,2676.8 2129,2677.8 2130,2678.8 2131,2679.8 2132,2680.8 2133,2681.8 2134,2682.8 2135,2683.8 2136,2684.7 2137,2685.7 2138,2686.7 2139,2687.7 2140,2688.7 2141,2689.7 2142,2690.7 2143,2692.5 2144,2695.1 2145,2697.7 2146,2700.3 2147,2702.9 2148,2705.5 2149,2708.1 2150,2710.7 2151,2713.3 2152,2715.9 2153,2718.5 2154,2721.1 2155,2723.7 2156,2726.3 2157,2728.9 2158,2731 2159,2733" fill="none" stroke="#000" stroke-width="9" stroke-linejoin="round"/>
<line x1="2126.8" y1="2637.5" x2="2126.8" y2="2680" stroke="#000" stroke-width="2.5" stroke-linecap="butt"/>
<line x1="1766.8" y1="2450.8" x2="1766.8" y2="2490" stroke="#000" stroke-width="3" stroke-linecap="butt"/>
<rect x="1422.6" y="2211.9" width="940.4" height="759.5" stroke="#000" stroke-width="5.5" fill="none"/>
<line x1="1421.9" y1="2971.4" x2="1421.9" y2="2989.2" stroke="#000" stroke-width="5" stroke-linecap="butt"/>
<text x="1421.9" y="3034.4" font-size="44" text-anchor="middle" font-weight="bold" fill="#000" textLength="40.5" lengthAdjust="spacingAndGlyphs">10</text>
<line x1="1556.3" y1="2971.4" x2="1556.3" y2="2989.2" stroke="#000" stroke-width="5" stroke-linecap="butt"/>
<text x="1556.3" y="3034.4" font-size="44" text-anchor="middle" font-weight="bold" fill="#000" textLength="40.5" lengthAdjust="spacingAndGlyphs">20</text>
<line x1="1690.8" y1="2971.4" x2="1690.8" y2="2989.2" stroke="#000" stroke-width="5" stroke-linecap="butt"/>
<text x="1690.8" y="3034.4" font-size="44" text-anchor="middle" font-weight="bold" fill="#000" textLength="40.5" lengthAdjust="spacingAndGlyphs">30</text>
<line x1="1825.2" y1="2971.4" x2="1825.2" y2="2989.2" stroke="#000" stroke-width="5" stroke-linecap="butt"/>
<text x="1825.2" y="3034.4" font-size="44" text-anchor="middle" font-weight="bold" fill="#000" textLength="40.5" lengthAdjust="spacingAndGlyphs">40</text>
<line x1="1959.7" y1="2971.4" x2="1959.7" y2="2989.2" stroke="#000" stroke-width="5" stroke-linecap="butt"/>
<text x="1959.7" y="3034.4" font-size="44" text-anchor="middle" font-weight="bold" fill="#000" textLength="40.5" lengthAdjust="spacingAndGlyphs">50</text>
<line x1="2094.1" y1="2971.4" x2="2094.1" y2="2989.2" stroke="#000" stroke-width="5" stroke-linecap="butt"/>
<text x="2094.1" y="3034.4" font-size="44" text-anchor="middle" font-weight="bold" fill="#000" textLength="40.5" lengthAdjust="spacingAndGlyphs">60</text>
<line x1="2228.6" y1="2971.4" x2="2228.6" y2="2989.2" stroke="#000" stroke-width="5" stroke-linecap="butt"/>
<text x="2228.6" y="3034.4" font-size="44" text-anchor="middle" font-weight="bold" fill="#000" textLength="40.5" lengthAdjust="spacingAndGlyphs">70</text>
<line x1="2363" y1="2971.4" x2="2363" y2="2989.2" stroke="#000" stroke-width="5" stroke-linecap="butt"/>
<text x="2363" y="3034.4" font-size="44" text-anchor="middle" font-weight="bold" fill="#000" textLength="40.5" lengthAdjust="spacingAndGlyphs">80</text>
<line x1="1489.1" y1="2971.4" x2="1489.1" y2="2989.2" stroke="#000" stroke-width="5" stroke-linecap="butt"/>
<line x1="1623.6" y1="2971.4" x2="1623.6" y2="2989.2" stroke="#000" stroke-width="5" stroke-linecap="butt"/>
<line x1="1758" y1="2971.4" x2="1758" y2="2989.2" stroke="#000" stroke-width="5" stroke-linecap="butt"/>
<line x1="1892.5" y1="2971.4" x2="1892.5" y2="2989.2" stroke="#000" stroke-width="5" stroke-linecap="butt"/>
<line x1="2026.9" y1="2971.4" x2="2026.9" y2="2989.2" stroke="#000" stroke-width="5" stroke-linecap="butt"/>
<line x1="2161.3" y1="2971.4" x2="2161.3" y2="2989.2" stroke="#000" stroke-width="5" stroke-linecap="butt"/>
<line x1="2295.8" y1="2971.4" x2="2295.8" y2="2989.2" stroke="#000" stroke-width="5" stroke-linecap="butt"/>
<text x="1362.1" y="2184.4" font-size="70.5" text-anchor="start" font-weight="bold" fill="#000" textLength="70.3" lengthAdjust="spacingAndGlyphs">(f)</text>
<text x="1358.8" y="2571" font-size="58" text-anchor="middle" font-weight="bold" fill="#000" textLength="340.7" lengthAdjust="spacingAndGlyphs" transform="rotate(-90 1358.8 2571)">Intensity(a.u.)</text>
<text x="1752.6" y="3100" font-size="55" text-anchor="start" font-weight="bold" fill="#000" textLength="258" lengthAdjust="spacingAndGlyphs">2θ(degree)</text>
<text x="1500.1" y="2613.8" font-size="42" text-anchor="start" font-weight="normal" fill="#000" textLength="83" lengthAdjust="spacingAndGlyphs" stroke="#000" stroke-width="0.9">(111)</text>
<text x="1654.1" y="2556.3" font-size="42" text-anchor="start" font-weight="normal" fill="#000" textLength="83.1" lengthAdjust="spacingAndGlyphs" stroke="#000" stroke-width="0.9">(220)</text>
<text x="1723.3" y="2430.6" font-size="42" text-anchor="start" font-weight="normal" fill="#000" textLength="82.2" lengthAdjust="spacingAndGlyphs" stroke="#000" stroke-width="0.9">(311)</text>
<text x="1828.2" y="2643.3" font-size="42" text-anchor="start" font-weight="normal" fill="#000" textLength="83.1" lengthAdjust="spacingAndGlyphs" stroke="#000" stroke-width="0.9">(400)</text>
<text x="2020.4" y="2668.7" font-size="42" text-anchor="start" font-weight="normal" fill="#000" textLength="82.8" lengthAdjust="spacingAndGlyphs" stroke="#000" stroke-width="0.9">(511)</text>
<text x="2096.2" y="2615.9" font-size="42" text-anchor="start" font-weight="normal" fill="#000" textLength="81.5" lengthAdjust="spacingAndGlyphs" stroke="#000" stroke-width="0.9">(440)</text>
<text x="1500.1" y="2828.2" font-size="42" text-anchor="start" font-weight="normal" fill="#000" textLength="83" lengthAdjust="spacingAndGlyphs" stroke="#000" stroke-width="0.9">(111)</text>
<text x="1656.8" y="2796" font-size="42" text-anchor="start" font-weight="normal" fill="#000" textLength="83" lengthAdjust="spacingAndGlyphs" stroke="#000" stroke-width="0.9">(220)</text>
<text x="1730.5" y="2735.7" font-size="42" text-anchor="start" font-weight="normal" fill="#000" textLength="77.7" lengthAdjust="spacingAndGlyphs" stroke="#000" stroke-width="0.9">(311)</text>
<text x="1828.2" y="2825.5" font-size="42" text-anchor="start" font-weight="normal" fill="#000" textLength="83.1" lengthAdjust="spacingAndGlyphs" stroke="#000" stroke-width="0.9">(400)</text>
<text x="2017.8" y="2826" font-size="42" text-anchor="start" font-weight="normal" fill="#000" textLength="81.6" lengthAdjust="spacingAndGlyphs" stroke="#000" stroke-width="0.9">(511)</text>
<text x="2096.8" y="2805" font-size="42" text-anchor="start" font-weight="normal" fill="#000" textLength="80.2" lengthAdjust="spacingAndGlyphs" stroke="#000" stroke-width="0.9">(440)</text>
<rect x="2038.6" y="2211.9" width="324" height="104.5" stroke="#000" stroke-width="5.5" fill="#fff"/>
<line x1="2041" y1="2239.5" x2="2119" y2="2239.5" stroke="#000" stroke-width="3" stroke-linecap="butt"/>
<text x="2139.3" y="2252.6" font-size="42" text-anchor="start" font-weight="bold" fill="#000" textLength="155" lengthAdjust="spacingAndGlyphs">MFN-1.5</text>
<rect x="2041" y="2266.8" width="82" height="41.5" fill="#ff0000"/>
<text x="2131.2" y="2302.2" font-size="42" text-anchor="start" font-weight="bold" fill="#000" textLength="226.8" lengthAdjust="spacingAndGlyphs">PDF#39-1346</text>
<path d="M233.0,232.2 235.2,232.2 235.2,241.1 237.4,241.1 237.4,245.9 239.6,245.9 239.6,241.6 241.8,241.6 241.8,251.0 244.0,251.0 244.0,253.4 246.2,253.4 246.2,257.4 248.4,257.4 248.4,257.8 250.6,257.8 250.6,263.1 252.8,263.1 252.8,260.2 255.0,260.2 255.0,255.2 257.2,255.2 257.2,255.5 259.4,255.5 259.4,254.1 261.6,254.1 261.6,252.1 263.8,252.1 263.8,261.3 266.0,261.3 266.0,262.1 268.2,262.1 268.2,263.7 270.4,263.7 270.4,259.4 272.6,259.4 272.6,261.1 274.8,261.1 274.8,259.8 277.0,259.8 277.0,258.7 279.2,258.7 279.2,261.4 281.4,261.4 281.4,254.4 283.6,254.4 283.6,251.8 285.8,251.8 285.8,253.0 288.0,253.0 288.0,252.6 290.2,252.6 290.2,251.0 292.4,251.0 292.4,250.2 294.6,250.2 294.6,244.9 296.8,244.9 296.8,244.5 299.0,244.5 299.0,239.6 301.2,239.6 301.2,224.3 303.4,224.3 303.4,232.2 305.6,232.2 305.6,232.3 307.8,232.3 307.8,229.0 310.0,229.0 310.0,219.7 312.2,219.7 312.2,225.0 314.4,225.0 314.4,230.4 316.6,230.4 316.6,237.2 318.8,237.2 318.8,257.4 321.0,257.4 321.0,266.0 323.2,266.0 323.2,273.6 325.4,273.6 325.4,273.6 327.6,273.6 327.6,276.1 329.8,276.1 329.8,281.5 332.0,281.5 332.0,281.0 334.2,281.0 334.2,279.2 336.4,279.2 336.4,282.2 338.6,282.2 338.6,272.3 340.8,272.3 340.8,279.7 343.0,279.7 343.0,268.2 345.2,268.2 345.2,273.7 347.4,273.7 347.4,262.7 349.6,262.7 349.6,269.1 351.8,269.1 351.8,265.8 354.0,265.8 354.0,265.6 356.2,265.6 356.2,265.2 358.4,265.2 358.4,259.6 360.6,259.6 360.6,263.6 362.8,263.6 362.8,249.1 365.0,249.1 365.0,259.1 367.2,259.1 367.2,256.5 369.4,256.5 369.4,260.0 371.6,260.0 371.6,246.8 373.8,246.8 373.8,254.5 376.0,254.5 376.0,255.0 378.2,255.0 378.2,253.2 380.4,253.2 380.4,240.5 382.6,240.5 382.6,248.4 384.8,248.4 384.8,240.3 387.0,240.3 387.0,242.0 389.2,242.0 389.2,240.4 391.4,240.4 391.4,241.3 393.6,241.3 393.6,232.3 395.8,232.3 395.8,235.6 398.0,235.6 398.0,234.2 400.2,234.2 400.2,234.9 402.4,234.9 402.4,237.1 404.6,237.1 404.6,232.8 406.8,232.8 406.8,233.4 409.0,233.4 409.0,233.5 411.2,233.5 411.2,236.1 413.4,236.1 413.4,232.3 415.6,232.3 415.6,229.2 417.8,229.2 417.8,229.9 420.0,229.9 420.0,223.4 422.2,223.4 422.2,226.6 424.4,226.6 424.4,221.5 426.6,221.5 426.6,211.5 428.8,211.5 428.8,218.2 431.0,218.2 431.0,218.3 433.2,218.3 433.2,217.1 435.4,217.1 435.4,213.8 437.6,213.8 437.6,214.8 439.8,214.8 439.8,212.2 442.0,212.2 442.0,212.4 444.2,212.4 444.2,202.6 446.4,202.6 446.4,205.6 448.6,205.6 448.6,206.1 450.8,206.1 450.8,196.4 453.0,196.4 453.0,200.0 455.2,200.0 455.2,196.4 457.4,196.4 457.4,199.8 459.6,199.8 459.6,196.1 461.8,196.1 461.8,186.1 464.0,186.1 464.0,194.5 466.2,194.5 466.2,191.2 468.4,191.2 468.4,189.4 470.6,189.4 470.6,192.0 472.8,192.0 472.8,195.5 475.0,195.5 475.0,192.1 477.2,192.1 477.2,200.9 479.4,200.9 479.4,207.2 481.6,207.2 481.6,211.5 483.8,211.5 483.8,181.4 486.0,181.4 486.0,145.5 488.2,145.5 488.2,161.5 490.4,161.5 490.4,202.4 492.6,202.4 492.6,238.4 494.8,238.4 494.8,242.9 497.0,242.9 497.0,252.2 499.2,252.2 499.2,255.6 501.4,255.6 501.4,253.9 503.6,253.9 503.6,249.5 505.8,249.5 505.8,255.2 508.0,255.2 508.0,254.5 510.2,254.5 510.2,254.9 512.4,254.9 512.4,253.7 514.6,253.7 514.6,253.7 516.8,253.7 516.8,255.1 519.0,255.1 519.0,259.2 521.2,259.2 521.2,247.2 523.4,247.2 523.4,260.2 525.6,260.2 525.6,263.2 527.8,263.2 527.8,264.7 530.0,264.7 530.0,265.0 532.2,265.0 532.2,265.1 534.4,265.1 534.4,263.6 536.6,263.6 536.6,258.6 538.8,258.6 538.8,260.6 541.0,260.6 541.0,263.5 543.2,263.5 543.2,268.0 545.4,268.0 545.4,272.2 547.6,272.2 547.6,294.9 549.8,294.9 549.8,317.9 552.0,317.9 552.0,317.9 554.2,317.9 554.2,319.0 556.4,319.0 556.4,320.0 558.6,320.0 558.6,318.8 560.8,318.8 560.8,317.6 563.0,317.6 563.0,323.1 565.2,323.1 565.2,324.5 567.4,324.5 567.4,326.2 569.6,326.2 569.6,325.2 571.8,325.2 571.8,335.0 574.0,335.0 574.0,336.2 576.2,336.2 576.2,338.1 578.4,338.1 578.4,343.5 580.6,343.5 580.6,346.1 582.8,346.1 582.8,372.3 585.0,372.3 585.0,400.4 587.2,400.4 587.2,409.7 589.4,409.7 589.4,415.6 591.6,415.6 591.6,418.5 593.8,418.5 593.8,411.8 596.0,411.8 596.0,427.4 598.2,427.4 598.2,422.3 600.4,422.3 600.4,422.6 602.6,422.6 602.6,423.8 604.8,423.8 604.8,420.9 607.0,420.9 607.0,422.2 609.2,422.2 609.2,420.4 611.4,420.4 611.4,418.6 613.6,418.6 613.6,405.0 615.8,405.0 615.8,400.5 618.0,400.5 618.0,390.1 620.2,390.1 620.2,414.5 622.4,414.5 622.4,424.9 624.6,424.9 624.6,439.1 626.8,439.1 626.8,447.2 629.0,447.2 629.0,445.5 631.2,445.5 631.2,451.4 633.4,451.4 633.4,454.3 635.6,454.3 635.6,457.9 637.8,457.9 637.8,453.3 640.0,453.3 640.0,458.4 642.2,458.4 642.2,459.5 644.4,459.5 644.4,463.5 646.6,463.5 646.6,463.5 648.8,463.5 648.8,465.1 651.0,465.1 651.0,466.3 653.2,466.3 653.2,456.6 655.4,456.6 655.4,445.7 657.6,445.7 657.6,438.3 659.8,438.3 659.8,424.3 662.0,424.3 662.0,451.7 664.2,451.7 664.2,452.7 666.4,452.7 666.4,438.1 668.6,438.1 668.6,468.3 670.8,468.3 670.8,544.9 673.0,544.9 673.0,619.9 675.2,619.9 675.2,626.8 677.4,626.8 677.4,630.8 679.6,630.8 679.6,629.8 681.8,629.8 681.8,629.5 684.0,629.5 684.0,628.4 686.2,628.4 686.2,629.6 688.4,629.6 688.4,632.5 690.6,632.5 690.6,632.2 692.8,632.2 692.8,629.5 695.0,629.5 695.0,630.3 697.2,630.3 697.2,626.6 699.4,626.6 699.4,628.8 701.6,628.8 701.6,624.7 703.8,624.7 703.8,627.2 706.0,627.2 706.0,626.5 708.2,626.5 708.2,624.7 710.4,624.7 710.4,626.8 712.6,626.8 712.6,625.7 714.8,625.7 714.8,625.7 717.0,625.7 717.0,624.8 719.2,624.8 719.2,625.2 721.4,625.2 721.4,623.8 723.6,623.8 723.6,621.4 725.8,621.4 725.8,622.2 728.0,622.2 728.0,620.6 730.2,620.6 730.2,618.3 732.4,618.3 732.4,623.5 734.6,623.5 734.6,622.1 736.8,622.1 736.8,622.3 739.0,622.3 739.0,620.4 741.2,620.4 741.2,621.2 743.4,621.2 743.4,621.9 745.6,621.9 745.6,621.4 747.8,621.4 747.8,611.9 750.0,611.9 750.0,621.6 752.2,621.6 752.2,621.4 754.4,621.4 754.4,620.9 756.6,620.9 756.6,618.6 758.8,618.6 758.8,618.9 761.0,618.9 761.0,621.1 763.2,621.1 763.2,616.3 765.4,616.3 765.4,619.1 767.6,619.1 767.6,619.7 769.8,619.7 769.8,614.3 772.0,614.3 772.0,608.3 774.2,608.3 774.2,606.6 776.4,606.6 776.4,607.2 778.6,607.2 778.6,615.9 780.8,615.9 780.8,622.8 783.0,622.8 783.0,639.9 785.2,639.9 785.2,655.7 787.4,655.7 787.4,670.4 789.6,670.4 789.6,556.6 791.8,556.6 791.8,549.9 794.0,549.9 794.0,304.2 796.2,304.2 796.2,531.1 798.4,531.1 798.4,705.9 800.6,705.9 800.6,705.3 802.8,705.3 802.8,709.8 805.0,709.8 805.0,710.3 807.2,710.3 807.2,710.5 809.4,710.5 809.4,712.3 811.6,712.3 811.6,711.1 813.8,711.1 813.8,711.9 816.0,711.9 816.0,709.6 818.2,709.6 818.2,709.8 820.4,709.8 820.4,710.8 822.6,710.8 822.6,711.7 824.8,711.7 824.8,709.8 827.0,709.8 827.0,709.8 829.2,709.8 829.2,707.9 831.4,707.9 831.4,708.4 833.6,708.4 833.6,710.1 835.8,710.1 835.8,709.5 838.0,709.5 838.0,710.4 840.2,710.4 840.2,708.8 842.4,708.8 842.4,706.9 844.6,706.9 844.6,706.6 846.8,706.6 846.8,708.6 849.0,708.6 849.0,708.9 851.2,708.9 851.2,709.1 853.4,709.1 853.4,707.9 855.6,707.9 855.6,707.3 857.8,707.3 857.8,705.2 860.0,705.2 860.0,704.1 862.2,704.1 862.2,707.3 864.4,707.3 864.4,707.2 866.6,707.2 866.6,706.4 868.8,706.4 868.8,704.4 871.0,704.4 871.0,703.0 873.2,703.0 873.2,704.2 875.4,704.2 875.4,706.0 877.6,706.0 877.6,706.1 879.8,706.1 879.8,706.9 882.0,706.9 882.0,706.9 884.2,706.9 884.2,667.7 886.4,667.7 886.4,708.3 888.6,708.3 888.6,707.9 890.8,707.9 890.8,709.0 893.0,709.0 893.0,708.9 895.2,708.9 895.2,709.0 897.4,709.0 897.4,709.8 899.6,709.8 899.6,708.6 901.8,708.6 901.8,709.7 904.0,709.7 904.0,708.7 906.2,708.7 906.2,711.2 908.4,711.2 908.4,710.8 910.6,710.8 910.6,710.5 912.8,710.5 912.8,709.0 915.0,709.0 915.0,710.8 917.2,710.8 917.2,709.7 919.4,709.7 919.4,708.4 921.6,708.4 921.6,709.0 923.8,709.0 923.8,704.6 926.0,704.6 926.0,700.4 928.2,700.4 928.2,706.6 930.4,706.6 930.4,703.4 932.6,703.4 932.6,705.6 934.8,705.6 934.8,702.5 937.0,702.5 937.0,698.0 939.2,698.0 939.2,701.8 941.4,701.8 941.4,699.0 943.6,699.0 943.6,697.1 945.8,697.1 945.8,695.6 948.0,695.6 948.0,698.0 950.2,698.0 950.2,705.3 952.4,705.3 952.4,708.4 954.6,708.4 954.6,709.6 956.8,709.6 956.8,703.3 959.0,703.3 959.0,701.9 961.2,701.9 961.2,615.0 963.4,615.0 963.4,523.1 965.6,523.1 965.6,520.3 967.8,520.3 967.8,616.8 970.0,616.8 970.0,725.0 972.2,725.0 972.2,730.4 974.4,730.4 974.4,730.1 976.6,730.1 976.6,730.3 978.8,730.3 978.8,729.6 981.0,729.6 981.0,731.0 983.2,731.0 983.2,727.6 985.4,727.6 985.4,730.0 987.6,730.0 987.6,728.8 989.8,728.8 989.8,729.4 992.0,729.4 992.0,729.2 994.2,729.2 994.2,731.3 996.4,731.3 996.4,726.9 998.6,726.9 998.6,731.5 1000.8,731.5 1000.8,732.0 1003.0,732.0 1003.0,730.3 1005.2,730.3 1005.2,731.3 1007.4,731.3 1007.4,731.6 1009.6,731.6 1009.6,730.1 1011.8,730.1 1011.8,731.4 1014.0,731.4 1014.0,731.1 1016.2,731.1 1016.2,728.1 1018.4,728.1 1018.4,729.3 1020.6,729.3 1020.6,730.4 1022.8,730.4 1022.8,730.5 1025.0,730.5 1025.0,730.9 1027.2,730.9 1027.2,728.3 1029.4,728.3 1029.4,729.3 1031.6,729.3 1031.6,730.1 1033.8,730.1 1033.8,729.9 1036.0,729.9 1036.0,729.7 1038.2,729.7 1038.2,729.0 1040.4,729.0 1040.4,728.7 1042.6,728.7 1042.6,727.0 1044.8,727.0 1044.8,728.6 1047.0,728.6 1047.0,727.1 1049.2,727.1 1049.2,728.7 1051.4,728.7 1051.4,726.0 1053.6,726.0 1053.6,725.9 1055.8,725.9 1055.8,727.2 1058.0,727.2 1058.0,727.1 1060.2,727.1 1060.2,727.2 1062.4,727.2 1062.4,725.4 1064.6,725.4 1064.6,725.2 1066.8,725.2 1066.8,724.7 1069.0,724.7 1069.0,725.0 1071.2,725.0 1071.2,726.1 1073.4,726.1 1073.4,723.1 1075.6,723.1 1075.6,725.9 1077.8,725.9 1077.8,723.7 1080.0,723.7 1080.0,723.7 1082.2,723.7 1082.2,724.8 1084.4,724.8 1084.4,724.5 1086.6,724.5 1086.6,723.9 1088.8,723.9 1088.8,721.4 1091.0,721.4 1091.0,720.7 1093.2,720.7 1093.2,717.1 1095.4,717.1 1095.4,714.0 1097.6,714.0 1097.6,722.2 1099.8,722.2 1099.8,727.2 1102.0,727.2 1102.0,724.0 1104.2,724.0 1104.2,726.4 1106.4,726.4 1106.4,729.8 1108.6,729.8 1108.6,731.9 1110.8,731.9 1110.8,731.5 1113.0,731.5 1113.0,734.1 1115.2,734.1 1115.2,734.0 1117.4,734.0 1117.4,734.3 1119.6,734.3 1119.6,722.5 1121.8,722.5 1121.8,710.8 1124.0,710.8 1124.0,736.3 1126.2,736.3 1126.2,746.7 1128.4,746.7 1128.4,750.2 1130.6,750.2 1130.6,753.9 1132.8,753.9 1132.8,756.1 1135.0,756.1 1135.0,759.2 1137.2,759.2 1137.2,755.8 1139.4,755.8 1139.4,752.6 1141.6,752.6 1141.6,749.3 1143.8,749.3 1143.8,747.1 1146.0,747.1 1146.0,750.6 1148.2,750.6 1148.2,756.2 1150.4,756.2 1150.4,758.9 1152.6,758.9 1152.6,758.1 1154.8,758.1 1154.8,757.9 1157.0,757.9 1157.0,755.2 1159.2,755.2 1159.2,766.4 1157.0,766.4 1157.0,765.6 1154.8,765.6 1154.8,765.9 1152.6,765.9 1152.6,768.3 1150.4,768.3 1150.4,765.3 1148.2,765.3 1148.2,760.0 1146.0,760.0 1146.0,755.9 1143.8,755.9 1143.8,759.0 1141.6,759.0 1141.6,761.5 1139.4,761.5 1139.4,764.5 1137.2,764.5 1137.2,770.5 1135.0,770.5 1135.0,765.6 1132.8,765.6 1132.8,763.5 1130.6,763.5 1130.6,760.1 1128.4,760.1 1128.4,757.3 1126.2,757.3 1126.2,745.5 1124.0,745.5 1124.0,718.2 1121.8,718.2 1121.8,731.8 1119.6,731.8 1119.6,745.5 1117.4,745.5 1117.4,746.3 1115.2,746.3 1115.2,741.2 1113.0,741.2 1113.0,742.3 1110.8,742.3 1110.8,740.9 1108.6,740.9 1108.6,741.7 1106.4,741.7 1106.4,737.3 1104.2,737.3 1104.2,738.9 1102.0,738.9 1102.0,738.1 1099.8,738.1 1099.8,731.2 1097.6,731.2 1097.6,727.6 1095.4,727.6 1095.4,727.2 1093.2,727.2 1093.2,729.8 1091.0,729.8 1091.0,736.7 1088.8,736.7 1088.8,732.8 1086.6,732.8 1086.6,733.4 1084.4,733.4 1084.4,734.6 1082.2,734.6 1082.2,733.9 1080.0,733.9 1080.0,735.6 1077.8,735.6 1077.8,733.9 1075.6,733.9 1075.6,733.5 1073.4,733.5 1073.4,735.5 1071.2,735.5 1071.2,735.3 1069.0,735.3 1069.0,737.4 1066.8,737.4 1066.8,736.1 1064.6,736.1 1064.6,738.8 1062.4,738.8 1062.4,735.5 1060.2,735.5 1060.2,735.2 1058.0,735.2 1058.0,735.3 1055.8,735.3 1055.8,736.4 1053.6,736.4 1053.6,736.1 1051.4,736.1 1051.4,736.6 1049.2,736.6 1049.2,740.3 1047.0,740.3 1047.0,740.9 1044.8,740.9 1044.8,737.7 1042.6,737.7 1042.6,737.2 1040.4,737.2 1040.4,738.5 1038.2,738.5 1038.2,740.3 1036.0,740.3 1036.0,739.5 1033.8,739.5 1033.8,738.2 1031.6,738.2 1031.6,743.8 1029.4,743.8 1029.4,739.1 1027.2,739.1 1027.2,740.4 1025.0,740.4 1025.0,738.9 1022.8,738.9 1022.8,741.2 1020.6,741.2 1020.6,738.8 1018.4,738.8 1018.4,739.8 1016.2,739.8 1016.2,739.2 1014.0,739.2 1014.0,739.1 1011.8,739.1 1011.8,742.6 1009.6,742.6 1009.6,740.8 1007.4,740.8 1007.4,739.2 1005.2,739.2 1005.2,741.3 1003.0,741.3 1003.0,739.1 1000.8,739.1 1000.8,740.2 998.6,740.2 998.6,742.7 996.4,742.7 996.4,741.1 994.2,741.1 994.2,742.0 992.0,742.0 992.0,740.7 989.8,740.7 989.8,738.9 987.6,738.9 987.6,739.0 985.4,739.0 985.4,738.3 983.2,738.3 983.2,738.5 981.0,738.5 981.0,738.6 978.8,738.6 978.8,738.1 976.6,738.1 976.6,741.9 974.4,741.9 974.4,738.5 972.2,738.5 972.2,738.7 970.0,738.7 970.0,624.7 967.8,624.7 967.8,531.9 965.6,531.9 965.6,532.2 963.4,532.2 963.4,624.7 961.2,624.7 961.2,713.2 959.0,713.2 959.0,716.4 956.8,716.4 956.8,720.2 954.6,720.2 954.6,721.7 952.4,721.7 952.4,713.5 950.2,713.5 950.2,709.5 948.0,709.5 948.0,707.2 945.8,707.2 945.8,708.9 943.6,708.9 943.6,708.0 941.4,708.0 941.4,713.9 939.2,713.9 939.2,712.2 937.0,712.2 937.0,713.9 934.8,713.9 934.8,718.0 932.6,718.0 932.6,716.1 930.4,716.1 930.4,714.4 928.2,714.4 928.2,719.7 926.0,719.7 926.0,717.9 923.8,717.9 923.8,721.7 921.6,721.7 921.6,720.2 919.4,720.2 919.4,718.0 917.2,718.0 917.2,719.0 915.0,719.0 915.0,719.3 912.8,719.3 912.8,721.7 910.6,721.7 910.6,724.1 908.4,724.1 908.4,718.5 906.2,718.5 906.2,718.7 904.0,718.7 904.0,718.4 901.8,718.4 901.8,718.6 899.6,718.6 899.6,719.0 897.4,719.0 897.4,718.8 895.2,718.8 895.2,718.8 893.0,718.8 893.0,718.7 890.8,718.7 890.8,718.4 888.6,718.4 888.6,717.3 886.4,717.3 886.4,676.5 884.2,676.5 884.2,717.2 882.0,717.2 882.0,716.9 879.8,716.9 879.8,715.3 877.6,715.3 877.6,714.1 875.4,714.1 875.4,714.2 873.2,714.2 873.2,713.8 871.0,713.8 871.0,713.7 868.8,713.7 868.8,715.3 866.6,715.3 866.6,714.8 864.4,714.8 864.4,714.9 862.2,714.9 862.2,715.9 860.0,715.9 860.0,717.6 857.8,717.6 857.8,716.1 855.6,716.1 855.6,716.7 853.4,716.7 853.4,720.3 851.2,720.3 851.2,717.9 849.0,717.9 849.0,717.1 846.8,717.1 846.8,717.1 844.6,717.1 844.6,718.8 842.4,718.8 842.4,718.4 840.2,718.4 840.2,719.2 838.0,719.2 838.0,720.4 835.8,720.4 835.8,718.6 833.6,718.6 833.6,719.7 831.4,719.7 831.4,720.9 829.2,720.9 829.2,718.7 827.0,718.7 827.0,720.3 824.8,720.3 824.8,719.2 822.6,719.2 822.6,720.0 820.4,720.0 820.4,722.3 818.2,722.3 818.2,719.9 816.0,719.9 816.0,721.9 813.8,721.9 813.8,727.3 811.6,727.3 811.6,723.1 809.4,723.1 809.4,721.1 807.2,721.1 807.2,721.4 805.0,721.4 805.0,720.9 802.8,720.9 802.8,720.1 800.6,720.1 800.6,715.5 798.4,715.5 798.4,541.8 796.2,541.8 796.2,313.5 794.0,313.5 794.0,561.2 791.8,561.2 791.8,572.8 789.6,572.8 789.6,681.2 787.4,681.2 787.4,671.9 785.2,671.9 785.2,653.3 783.0,653.3 783.0,639.5 780.8,639.5 780.8,630.1 778.6,630.1 778.6,622.7 776.4,622.7 776.4,622.6 774.2,622.6 774.2,623.5 772.0,623.5 772.0,627.1 769.8,627.1 769.8,631.1 767.6,631.1 767.6,638.1 765.4,638.1 765.4,634.1 763.2,634.1 763.2,632.5 761.0,632.5 761.0,634.3 758.8,634.3 758.8,632.4 756.6,632.4 756.6,634.4 754.4,634.4 754.4,633.1 752.2,633.1 752.2,636.3 750.0,636.3 750.0,632.5 747.8,632.5 747.8,636.9 745.6,636.9 745.6,635.0 743.4,635.0 743.4,632.7 741.2,632.7 741.2,633.5 739.0,633.5 739.0,634.4 736.8,634.4 736.8,636.7 734.6,636.7 734.6,636.6 732.4,636.6 732.4,640.7 730.2,640.7 730.2,636.7 728.0,636.7 728.0,635.3 725.8,635.3 725.8,640.7 723.6,640.7 723.6,635.9 721.4,635.9 721.4,636.3 719.2,636.3 719.2,636.0 717.0,636.0 717.0,636.7 714.8,636.7 714.8,638.3 712.6,638.3 712.6,637.3 710.4,637.3 710.4,638.4 708.2,638.4 708.2,637.8 706.0,637.8 706.0,639.2 703.8,639.2 703.8,643.5 701.6,643.5 701.6,643.7 699.4,643.7 699.4,642.9 697.2,642.9 697.2,642.7 695.0,642.7 695.0,643.1 692.8,643.1 692.8,644.1 690.6,644.1 690.6,644.1 688.4,644.1 688.4,644.5 686.2,644.5 686.2,647.1 684.0,647.1 684.0,648.2 681.8,648.2 681.8,650.2 679.6,650.2 679.6,648.8 677.4,648.8 677.4,647.5 675.2,647.5 675.2,638.5 673.0,638.5 673.0,563.2 670.8,563.2 670.8,488.6 668.6,488.6 668.6,463.1 666.4,463.1 666.4,476.4 664.2,476.4 664.2,471.7 662.0,471.7 662.0,449.3 659.8,449.3 659.8,456.2 657.6,456.2 657.6,470.8 655.4,470.8 655.4,487.0 653.2,487.0 653.2,489.4 651.0,489.4 651.0,489.8 648.8,489.8 648.8,490.0 646.6,490.0 646.6,486.1 644.4,486.1 644.4,482.5 642.2,482.5 642.2,479.8 640.0,479.8 640.0,482.8 637.8,482.8 637.8,475.1 635.6,475.1 635.6,478.8 633.4,478.8 633.4,478.8 631.2,478.8 631.2,470.6 629.0,470.6 629.0,466.6 626.8,466.6 626.8,464.4 624.6,464.4 624.6,449.9 622.4,449.9 622.4,443.7 620.2,443.7 620.2,424.2 618.0,424.2 618.0,419.4 615.8,419.4 615.8,433.2 613.6,433.2 613.6,436.1 611.4,436.1 611.4,447.1 609.2,447.1 609.2,448.2 607.0,448.2 607.0,450.5 604.8,450.5 604.8,450.4 602.6,450.4 602.6,444.9 600.4,444.9 600.4,446.8 598.2,446.8 598.2,449.7 596.0,449.7 596.0,446.5 593.8,446.5 593.8,442.6 591.6,442.6 591.6,434.0 589.4,434.0 589.4,426.6 587.2,426.6 587.2,427.1 585.0,427.1 585.0,396.5 582.8,396.5 582.8,364.0 580.6,364.0 580.6,370.6 578.4,370.6 578.4,362.4 576.2,362.4 576.2,355.1 574.0,355.1 574.0,356.2 571.8,356.2 571.8,351.2 569.6,351.2 569.6,351.4 567.4,351.4 567.4,356.3 565.2,356.3 565.2,342.4 563.0,342.4 563.0,341.2 560.8,341.2 560.8,340.4 558.6,340.4 558.6,338.0 556.4,338.0 556.4,339.4 554.2,339.4 554.2,340.3 552.0,340.3 552.0,341.0 549.8,341.0 549.8,324.1 547.6,324.1 547.6,294.2 545.4,294.2 545.4,292.5 543.2,292.5 543.2,286.1 541.0,286.1 541.0,289.5 538.8,289.5 538.8,283.5 536.6,283.5 536.6,288.6 534.4,288.6 534.4,284.8 532.2,284.8 532.2,292.9 530.0,292.9 530.0,285.9 527.8,285.9 527.8,288.4 525.6,288.4 525.6,282.2 523.4,282.2 523.4,278.8 521.2,278.8 521.2,282.8 519.0,282.8 519.0,275.0 516.8,275.0 516.8,279.8 514.6,279.8 514.6,276.5 512.4,276.5 512.4,274.5 510.2,274.5 510.2,275.6 508.0,275.6 508.0,278.8 505.8,278.8 505.8,276.7 503.6,276.7 503.6,275.1 501.4,275.1 501.4,274.5 499.2,274.5 499.2,275.9 497.0,275.9 497.0,273.5 494.8,273.5 494.8,258.8 492.6,258.8 492.6,222.9 490.4,222.9 490.4,184.8 488.2,184.8 488.2,164.9 486.0,164.9 486.0,201.4 483.8,201.4 483.8,232.6 481.6,232.6 481.6,228.7 479.4,228.7 479.4,220.4 477.2,220.4 477.2,218.1 475.0,218.1 475.0,214.6 472.8,214.6 472.8,214.7 470.6,214.7 470.6,212.8 468.4,212.8 468.4,213.2 466.2,213.2 466.2,213.0 464.0,213.0 464.0,220.5 461.8,220.5 461.8,217.1 459.6,217.1 459.6,221.6 457.4,221.6 457.4,219.7 455.2,219.7 455.2,223.8 453.0,223.8 453.0,222.7 450.8,222.7 450.8,227.0 448.6,227.0 448.6,228.4 446.4,228.4 446.4,231.2 444.2,231.2 444.2,230.7 442.0,230.7 442.0,233.9 439.8,233.9 439.8,236.3 437.6,236.3 437.6,238.3 435.4,238.3 435.4,236.9 433.2,236.9 433.2,240.0 431.0,240.0 431.0,247.9 428.8,247.9 428.8,242.6 426.6,242.6 426.6,245.0 424.4,245.0 424.4,250.4 422.2,250.4 422.2,245.4 420.0,245.4 420.0,248.1 417.8,248.1 417.8,256.0 415.6,256.0 415.6,260.3 413.4,260.3 413.4,259.2 411.2,259.2 411.2,258.5 409.0,258.5 409.0,257.8 406.8,257.8 406.8,256.6 404.6,256.6 404.6,257.6 402.4,257.6 402.4,255.3 400.2,255.3 400.2,255.0 398.0,255.0 398.0,258.8 395.8,258.8 395.8,261.1 393.6,261.1 393.6,269.1 391.4,269.1 391.4,261.8 389.2,261.8 389.2,277.1 387.0,277.1 387.0,270.1 384.8,270.1 384.8,276.1 382.6,276.1 382.6,271.9 380.4,271.9 380.4,276.7 378.2,276.7 378.2,274.9 376.0,274.9 376.0,276.0 373.8,276.0 373.8,277.9 371.6,277.9 371.6,284.1 369.4,284.1 369.4,283.4 367.2,283.4 367.2,282.3 365.0,282.3 365.0,281.9 362.8,281.9 362.8,291.4 360.6,291.4 360.6,288.8 358.4,288.8 358.4,297.4 356.2,297.4 356.2,290.8 354.0,290.8 354.0,292.3 351.8,292.3 351.8,293.3 349.6,293.3 349.6,297.0 347.4,297.0 347.4,296.0 345.2,296.0 345.2,296.5 343.0,296.5 343.0,302.0 340.8,302.0 340.8,306.8 338.6,306.8 338.6,300.3 336.4,300.3 336.4,305.0 334.2,305.0 334.2,304.8 332.0,304.8 332.0,309.0 329.8,309.0 329.8,305.7 327.6,305.7 327.6,299.0 325.4,299.0 325.4,293.9 323.2,293.9 323.2,303.1 321.0,303.1 321.0,279.5 318.8,279.5 318.8,260.1 316.6,260.1 316.6,258.1 314.4,258.1 314.4,247.3 312.2,247.3 312.2,254.2 310.0,254.2 310.0,251.0 307.8,251.0 307.8,256.7 305.6,256.7 305.6,255.7 303.4,255.7 303.4,260.9 301.2,260.9 301.2,260.7 299.0,260.7 299.0,264.2 296.8,264.2 296.8,265.2 294.6,265.2 294.6,271.5 292.4,271.5 292.4,276.1 290.2,276.1 290.2,273.5 288.0,273.5 288.0,277.2 285.8,277.2 285.8,280.1 283.6,280.1 283.6,280.8 281.4,280.8 281.4,289.7 279.2,289.7 279.2,282.1 277.0,282.1 277.0,283.6 274.8,283.6 274.8,285.1 272.6,285.1 272.6,284.2 270.4,284.2 270.4,284.2 268.2,284.2 268.2,281.5 266.0,281.5 266.0,284.2 263.8,284.2 263.8,278.5 261.6,278.5 261.6,278.4 259.4,278.4 259.4,287.0 257.2,287.0 257.2,277.9 255.0,277.9 255.0,280.4 252.8,280.4 252.8,283.9 250.6,283.9 250.6,280.3 248.4,280.3 248.4,278.0 246.2,278.0 246.2,273.4 244.0,273.4 244.0,272.3 241.8,272.3 241.8,273.5 239.6,273.5 239.6,263.8 237.4,263.8 237.4,265.3 235.2,265.3 235.2,256.8 233.0,256.8Z" fill="#000"/>
<path d="M1423.5,2499.4 1425.5,2499.4 1425.5,2519.8 1427.5,2519.8 1427.5,2538.9 1429.5,2538.9 1429.5,2546.4 1431.5,2546.4 1431.5,2557.8 1433.5,2557.8 1433.5,2567.5 1435.5,2567.5 1435.5,2575.0 1437.5,2575.0 1437.5,2568.7 1439.5,2568.7 1439.5,2582.3 1441.5,2582.3 1441.5,2588.2 1443.5,2588.2 1443.5,2592.7 1445.5,2592.7 1445.5,2599.0 1447.5,2599.0 1447.5,2602.3 1449.5,2602.3 1449.5,2607.5 1451.5,2607.5 1451.5,2611.3 1453.5,2611.3 1453.5,2609.7 1455.5,2609.7 1455.5,2617.4 1457.5,2617.4 1457.5,2623.1 1459.5,2623.1 1459.5,2626.1 1461.5,2626.1 1461.5,2618.0 1463.5,2618.0 1463.5,2626.3 1465.5,2626.3 1465.5,2631.3 1467.5,2631.3 1467.5,2632.5 1469.5,2632.5 1469.5,2631.5 1471.5,2631.5 1471.5,2644.7 1473.5,2644.7 1473.5,2639.4 1475.5,2639.4 1475.5,2647.8 1477.5,2647.8 1477.5,2638.9 1479.5,2638.9 1479.5,2647.1 1481.5,2647.1 1481.5,2652.0 1483.5,2652.0 1483.5,2651.2 1485.5,2651.2 1485.5,2650.5 1487.5,2650.5 1487.5,2637.9 1489.5,2637.9 1489.5,2656.1 1491.5,2656.1 1491.5,2648.1 1493.5,2648.1 1493.5,2657.8 1495.5,2657.8 1495.5,2655.7 1497.5,2655.7 1497.5,2647.6 1499.5,2647.6 1499.5,2654.7 1501.5,2654.7 1501.5,2663.8 1503.5,2663.8 1503.5,2660.9 1505.5,2660.9 1505.5,2665.0 1507.5,2665.0 1507.5,2662.8 1509.5,2662.8 1509.5,2661.8 1511.5,2661.8 1511.5,2656.1 1513.5,2656.1 1513.5,2644.5 1515.5,2644.5 1515.5,2664.5 1517.5,2664.5 1517.5,2653.3 1519.5,2653.3 1519.5,2665.5 1521.5,2665.5 1521.5,2664.0 1523.5,2664.0 1523.5,2655.7 1525.5,2655.7 1525.5,2656.4 1527.5,2656.4 1527.5,2667.1 1529.5,2667.1 1529.5,2666.3 1531.5,2666.3 1531.5,2667.1 1533.5,2667.1 1533.5,2666.2 1535.5,2666.2 1535.5,2659.6 1537.5,2659.6 1537.5,2665.7 1539.5,2665.7 1539.5,2668.5 1541.5,2668.5 1541.5,2662.1 1543.5,2662.1 1543.5,2667.6 1545.5,2667.6 1545.5,2658.5 1547.5,2658.5 1547.5,2670.0 1549.5,2670.0 1549.5,2660.5 1551.5,2660.5 1551.5,2669.0 1553.5,2669.0 1553.5,2666.2 1555.5,2666.2 1555.5,2664.7 1557.5,2664.7 1557.5,2665.9 1559.5,2665.9 1559.5,2671.0 1561.5,2671.0 1561.5,2665.9 1563.5,2665.9 1563.5,2655.6 1565.5,2655.6 1565.5,2671.9 1567.5,2671.9 1567.5,2673.2 1569.5,2673.2 1569.5,2665.0 1571.5,2665.0 1571.5,2664.8 1573.5,2664.8 1573.5,2673.0 1575.5,2673.0 1575.5,2672.5 1577.5,2672.5 1577.5,2670.1 1579.5,2670.1 1579.5,2673.7 1581.5,2673.7 1581.5,2663.9 1583.5,2663.9 1583.5,2661.1 1585.5,2661.1 1585.5,2669.8 1587.5,2669.8 1587.5,2672.9 1589.5,2672.9 1589.5,2669.9 1591.5,2669.9 1591.5,2674.6 1593.5,2674.6 1593.5,2671.9 1595.5,2671.9 1595.5,2673.5 1597.5,2673.5 1597.5,2667.0 1599.5,2667.0 1599.5,2665.3 1601.5,2665.3 1601.5,2658.4 1603.5,2658.4 1603.5,2671.1 1605.5,2671.1 1605.5,2670.0 1607.5,2670.0 1607.5,2665.1 1609.5,2665.1 1609.5,2673.4 1611.5,2673.4 1611.5,2669.4 1613.5,2669.4 1613.5,2673.1 1615.5,2673.1 1615.5,2658.8 1617.5,2658.8 1617.5,2667.4 1619.5,2667.4 1619.5,2670.6 1621.5,2670.6 1621.5,2669.0 1623.5,2669.0 1623.5,2665.7 1625.5,2665.7 1625.5,2668.0 1627.5,2668.0 1627.5,2653.2 1629.5,2653.2 1629.5,2659.5 1631.5,2659.5 1631.5,2664.8 1633.5,2664.8 1633.5,2663.4 1635.5,2663.4 1635.5,2657.0 1637.5,2657.0 1637.5,2664.3 1639.5,2664.3 1639.5,2653.5 1641.5,2653.5 1641.5,2660.7 1643.5,2660.7 1643.5,2661.0 1645.5,2661.0 1645.5,2660.1 1647.5,2660.1 1647.5,2654.3 1649.5,2654.3 1649.5,2656.5 1651.5,2656.5 1651.5,2650.9 1653.5,2650.9 1653.5,2656.5 1655.5,2656.5 1655.5,2656.3 1657.5,2656.3 1657.5,2652.5 1659.5,2652.5 1659.5,2649.8 1661.5,2649.8 1661.5,2641.5 1663.5,2641.5 1663.5,2649.0 1665.5,2649.0 1665.5,2644.9 1667.5,2644.9 1667.5,2645.0 1669.5,2645.0 1669.5,2647.1 1671.5,2647.1 1671.5,2646.2 1673.5,2646.2 1673.5,2640.4 1675.5,2640.4 1675.5,2641.0 1677.5,2641.0 1677.5,2640.7 1679.5,2640.7 1679.5,2635.7 1681.5,2635.7 1681.5,2639.2 1683.5,2639.2 1683.5,2622.9 1685.5,2622.9 1685.5,2636.6 1687.5,2636.6 1687.5,2623.2 1689.5,2623.2 1689.5,2635.5 1691.5,2635.5 1691.5,2628.8 1693.5,2628.8 1693.5,2622.8 1695.5,2622.8 1695.5,2633.3 1697.5,2633.3 1697.5,2611.6 1699.5,2611.6 1699.5,2618.9 1701.5,2618.9 1701.5,2628.5 1703.5,2628.5 1703.5,2625.5 1705.5,2625.5 1705.5,2626.2 1707.5,2626.2 1707.5,2624.3 1709.5,2624.3 1709.5,2618.8 1711.5,2618.8 1711.5,2616.3 1713.5,2616.3 1713.5,2619.1 1715.5,2619.1 1715.5,2618.8 1717.5,2618.8 1717.5,2613.7 1719.5,2613.7 1719.5,2615.2 1721.5,2615.2 1721.5,2606.0 1723.5,2606.0 1723.5,2613.2 1725.5,2613.2 1725.5,2601.1 1727.5,2601.1 1727.5,2608.6 1729.5,2608.6 1729.5,2602.7 1731.5,2602.7 1731.5,2595.9 1733.5,2595.9 1733.5,2587.9 1735.5,2587.9 1735.5,2584.3 1737.5,2584.3 1737.5,2584.1 1739.5,2584.1 1739.5,2577.2 1741.5,2577.2 1741.5,2574.3 1743.5,2574.3 1743.5,2569.5 1745.5,2569.5 1745.5,2564.2 1747.5,2564.2 1747.5,2549.9 1749.5,2549.9 1749.5,2543.9 1751.5,2543.9 1751.5,2540.5 1753.5,2540.5 1753.5,2530.3 1755.5,2530.3 1755.5,2523.2 1757.5,2523.2 1757.5,2514.3 1759.5,2514.3 1759.5,2503.6 1761.5,2503.6 1761.5,2494.6 1763.5,2494.6 1763.5,2478.0 1765.5,2478.0 1765.5,2469.1 1767.5,2469.1 1767.5,2463.0 1769.5,2463.0 1769.5,2477.5 1771.5,2477.5 1771.5,2501.7 1773.5,2501.7 1773.5,2515.6 1775.5,2515.6 1775.5,2524.3 1777.5,2524.3 1777.5,2536.5 1779.5,2536.5 1779.5,2544.8 1781.5,2544.8 1781.5,2560.4 1783.5,2560.4 1783.5,2575.2 1785.5,2575.2 1785.5,2585.5 1787.5,2585.5 1787.5,2604.2 1789.5,2604.2 1789.5,2613.0 1791.5,2613.0 1791.5,2627.9 1793.5,2627.9 1793.5,2624.2 1795.5,2624.2 1795.5,2643.2 1797.5,2643.2 1797.5,2655.7 1799.5,2655.7 1799.5,2665.3 1801.5,2665.3 1801.5,2668.7 1803.5,2668.7 1803.5,2675.9 1805.5,2675.9 1805.5,2686.0 1807.5,2686.0 1807.5,2688.0 1809.5,2688.0 1809.5,2690.8 1811.5,2690.8 1811.5,2685.9 1813.5,2685.9 1813.5,2677.9 1815.5,2677.9 1815.5,2689.4 1817.5,2689.4 1817.5,2697.4 1819.5,2697.4 1819.5,2697.1 1821.5,2697.1 1821.5,2701.0 1823.5,2701.0 1823.5,2692.5 1825.5,2692.5 1825.5,2695.8 1827.5,2695.8 1827.5,2693.2 1829.5,2693.2 1829.5,2693.4 1831.5,2693.4 1831.5,2698.6 1833.5,2698.6 1833.5,2695.9 1835.5,2695.9 1835.5,2698.4 1837.5,2698.4 1837.5,2695.2 1839.5,2695.2 1839.5,2697.0 1841.5,2697.0 1841.5,2698.3 1843.5,2698.3 1843.5,2692.4 1845.5,2692.4 1845.5,2696.9 1847.5,2696.9 1847.5,2684.3 1849.5,2684.3 1849.5,2696.5 1851.5,2696.5 1851.5,2695.2 1853.5,2695.2 1853.5,2694.5 1855.5,2694.5 1855.5,2694.2 1857.5,2694.2 1857.5,2697.3 1859.5,2697.3 1859.5,2696.5 1861.5,2696.5 1861.5,2694.7 1863.5,2694.7 1863.5,2697.7 1865.5,2697.7 1865.5,2688.8 1867.5,2688.8 1867.5,2698.5 1869.5,2698.5 1869.5,2688.4 1871.5,2688.4 1871.5,2694.6 1873.5,2694.6 1873.5,2701.2 1875.5,2701.2 1875.5,2697.7 1877.5,2697.7 1877.5,2688.3 1879.5,2688.3 1879.5,2694.5 1881.5,2694.5 1881.5,2703.1 1883.5,2703.1 1883.5,2709.6 1885.5,2709.6 1885.5,2710.2 1887.5,2710.2 1887.5,2710.5 1889.5,2710.5 1889.5,2718.7 1891.5,2718.7 1891.5,2719.7 1893.5,2719.7 1893.5,2716.4 1895.5,2716.4 1895.5,2717.8 1897.5,2717.8 1897.5,2723.9 1899.5,2723.9 1899.5,2724.1 1901.5,2724.1 1901.5,2726.9 1903.5,2726.9 1903.5,2729.1 1905.5,2729.1 1905.5,2719.8 1907.5,2719.8 1907.5,2724.9 1909.5,2724.9 1909.5,2733.7 1911.5,2733.7 1911.5,2730.5 1913.5,2730.5 1913.5,2728.3 1915.5,2728.3 1915.5,2728.1 1917.5,2728.1 1917.5,2732.8 1919.5,2732.8 1919.5,2736.2 1921.5,2736.2 1921.5,2728.9 1923.5,2728.9 1923.5,2729.7 1925.5,2729.7 1925.5,2736.9 1927.5,2736.9 1927.5,2737.6 1929.5,2737.6 1929.5,2736.6 1931.5,2736.6 1931.5,2739.3 1933.5,2739.3 1933.5,2734.3 1935.5,2734.3 1935.5,2737.8 1937.5,2737.8 1937.5,2735.1 1939.5,2735.1 1939.5,2741.2 1941.5,2741.2 1941.5,2737.8 1943.5,2737.8 1943.5,2734.3 1945.5,2734.3 1945.5,2726.5 1947.5,2726.5 1947.5,2731.7 1949.5,2731.7 1949.5,2740.2 1951.5,2740.2 1951.5,2734.0 1953.5,2734.0 1953.5,2742.6 1955.5,2742.6 1955.5,2740.1 1957.5,2740.1 1957.5,2741.3 1959.5,2741.3 1959.5,2739.6 1961.5,2739.6 1961.5,2738.2 1963.5,2738.2 1963.5,2733.5 1965.5,2733.5 1965.5,2732.5 1967.5,2732.5 1967.5,2737.3 1969.5,2737.3 1969.5,2735.4 1971.5,2735.4 1971.5,2735.6 1973.5,2735.6 1973.5,2733.0 1975.5,2733.0 1975.5,2734.7 1977.5,2734.7 1977.5,2734.7 1979.5,2734.7 1979.5,2722.3 1981.5,2722.3 1981.5,2729.6 1983.5,2729.6 1983.5,2730.4 1985.5,2730.4 1985.5,2711.7 1987.5,2711.7 1987.5,2721.1 1989.5,2721.1 1989.5,2729.3 1991.5,2729.3 1991.5,2725.0 1993.5,2725.0 1993.5,2727.9 1995.5,2727.9 1995.5,2724.5 1997.5,2724.5 1997.5,2719.4 1999.5,2719.4 1999.5,2716.6 2001.5,2716.6 2001.5,2717.9 2003.5,2717.9 2003.5,2718.9 2005.5,2718.9 2005.5,2720.3 2007.5,2720.3 2007.5,2711.4 2009.5,2711.4 2009.5,2712.0 2011.5,2712.0 2011.5,2713.7 2013.5,2713.7 2013.5,2708.7 2015.5,2708.7 2015.5,2702.5 2017.5,2702.5 2017.5,2712.0 2019.5,2712.0 2019.5,2700.6 2021.5,2700.6 2021.5,2705.7 2023.5,2705.7 2023.5,2705.9 2025.5,2705.9 2025.5,2705.5 2027.5,2705.5 2027.5,2696.1 2029.5,2696.1 2029.5,2703.3 2031.5,2703.3 2031.5,2698.4 2033.5,2698.4 2033.5,2702.4 2035.5,2702.4 2035.5,2702.0 2037.5,2702.0 2037.5,2693.3 2039.5,2693.3 2039.5,2693.4 2041.5,2693.4 2041.5,2691.1 2043.5,2691.1 2043.5,2695.3 2045.5,2695.3 2045.5,2691.3 2047.5,2691.3 2047.5,2689.6 2049.5,2689.6 2049.5,2695.0 2051.5,2695.0 2051.5,2690.9 2053.5,2690.9 2053.5,2686.3 2055.5,2686.3 2055.5,2677.7 2057.5,2677.7 2057.5,2692.0 2059.5,2692.0 2059.5,2691.9 2061.5,2691.9 2061.5,2695.5 2063.5,2695.5 2063.5,2694.2 2065.5,2694.2 2065.5,2697.5 2067.5,2697.5 2067.5,2694.2 2069.5,2694.2 2069.5,2693.5 2071.5,2693.5 2071.5,2697.7 2073.5,2697.7 2073.5,2701.7 2075.5,2701.7 2075.5,2693.0 2077.5,2693.0 2077.5,2696.6 2079.5,2696.6 2079.5,2699.8 2081.5,2699.8 2081.5,2703.8 2083.5,2703.8 2083.5,2704.5 2085.5,2704.5 2085.5,2704.0 2087.5,2704.0 2087.5,2700.0 2089.5,2700.0 2089.5,2694.7 2091.5,2694.7 2091.5,2699.5 2093.5,2699.5 2093.5,2691.5 2095.5,2691.5 2095.5,2696.5 2097.5,2696.5 2097.5,2688.8 2099.5,2688.8 2099.5,2695.6 2101.5,2695.6 2101.5,2694.0 2103.5,2694.0 2103.5,2681.0 2105.5,2681.0 2105.5,2682.0 2107.5,2682.0 2107.5,2676.5 2109.5,2676.5 2109.5,2677.8 2111.5,2677.8 2111.5,2661.4 2113.5,2661.4 2113.5,2671.5 2115.5,2671.5 2115.5,2669.1 2117.5,2669.1 2117.5,2663.7 2119.5,2663.7 2119.5,2655.3 2121.5,2655.3 2121.5,2659.5 2123.5,2659.5 2123.5,2646.8 2125.5,2646.8 2125.5,2649.4 2127.5,2649.4 2127.5,2658.7 2129.5,2658.7 2129.5,2647.5 2131.5,2647.5 2131.5,2662.8 2133.5,2662.8 2133.5,2652.0 2135.5,2652.0 2135.5,2646.4 2137.5,2646.4 2137.5,2668.8 2139.5,2668.8 2139.5,2670.0 2141.5,2670.0 2141.5,2668.5 2143.5,2668.5 2143.5,2673.0 2145.5,2673.0 2145.5,2676.0 2147.5,2676.0 2147.5,2684.3 2149.5,2684.3 2149.5,2691.0 2151.5,2691.0 2151.5,2680.8 2153.5,2680.8 2153.5,2698.3 2155.5,2698.3 2155.5,2707.8 2157.5,2707.8 2157.5,2699.8 2159.5,2699.8 2159.5,2714.0 2161.5,2714.0 2161.5,2708.1 2163.5,2708.1 2163.5,2722.0 2165.5,2722.0 2165.5,2720.0 2167.5,2720.0 2167.5,2732.9 2169.5,2732.9 2169.5,2714.6 2171.5,2714.6 2171.5,2741.7 2173.5,2741.7 2173.5,2727.2 2175.5,2727.2 2175.5,2735.5 2177.5,2735.5 2177.5,2738.3 2179.5,2738.3 2179.5,2746.3 2181.5,2746.3 2181.5,2734.1 2183.5,2734.1 2183.5,2732.5 2185.5,2732.5 2185.5,2749.3 2187.5,2749.3 2187.5,2748.9 2189.5,2748.9 2189.5,2746.1 2191.5,2746.1 2191.5,2734.4 2193.5,2734.4 2193.5,2744.9 2195.5,2744.9 2195.5,2742.0 2197.5,2742.0 2197.5,2755.1 2199.5,2755.1 2199.5,2754.8 2201.5,2754.8 2201.5,2757.2 2203.5,2757.2 2203.5,2757.3 2205.5,2757.3 2205.5,2753.7 2207.5,2753.7 2207.5,2753.4 2209.5,2753.4 2209.5,2757.2 2211.5,2757.2 2211.5,2749.5 2213.5,2749.5 2213.5,2753.5 2215.5,2753.5 2215.5,2759.3 2217.5,2759.3 2217.5,2756.9 2219.5,2756.9 2219.5,2742.9 2221.5,2742.9 2221.5,2753.8 2223.5,2753.8 2223.5,2760.1 2225.5,2760.1 2225.5,2756.0 2227.5,2756.0 2227.5,2752.5 2229.5,2752.5 2229.5,2758.6 2231.5,2758.6 2231.5,2747.8 2233.5,2747.8 2233.5,2751.4 2235.5,2751.4 2235.5,2752.9 2237.5,2752.9 2237.5,2756.4 2239.5,2756.4 2239.5,2756.4 2241.5,2756.4 2241.5,2757.7 2243.5,2757.7 2243.5,2754.2 2245.5,2754.2 2245.5,2752.2 2247.5,2752.2 2247.5,2754.8 2249.5,2754.8 2249.5,2750.6 2251.5,2750.6 2251.5,2758.5 2253.5,2758.5 2253.5,2754.2 2255.5,2754.2 2255.5,2756.8 2257.5,2756.8 2257.5,2755.2 2259.5,2755.2 2259.5,2748.3 2261.5,2748.3 2261.5,2743.0 2263.5,2743.0 2263.5,2755.3 2265.5,2755.3 2265.5,2751.4 2267.5,2751.4 2267.5,2757.9 2269.5,2757.9 2269.5,2755.6 2271.5,2755.6 2271.5,2753.6 2273.5,2753.6 2273.5,2758.2 2275.5,2758.2 2275.5,2752.1 2277.5,2752.1 2277.5,2760.6 2279.5,2760.6 2279.5,2757.0 2281.5,2757.0 2281.5,2759.0 2283.5,2759.0 2283.5,2757.3 2285.5,2757.3 2285.5,2756.4 2287.5,2756.4 2287.5,2761.2 2289.5,2761.2 2289.5,2759.5 2291.5,2759.5 2291.5,2760.8 2293.5,2760.8 2293.5,2760.0 2295.5,2760.0 2295.5,2762.4 2297.5,2762.4 2297.5,2754.0 2299.5,2754.0 2299.5,2759.6 2301.5,2759.6 2301.5,2766.4 2303.5,2766.4 2303.5,2767.3 2305.5,2767.3 2305.5,2757.4 2307.5,2757.4 2307.5,2759.5 2309.5,2759.5 2309.5,2768.1 2311.5,2768.1 2311.5,2770.8 2313.5,2770.8 2313.5,2772.8 2315.5,2772.8 2315.5,2771.5 2317.5,2771.5 2317.5,2774.4 2319.5,2774.4 2319.5,2771.6 2321.5,2771.6 2321.5,2762.6 2323.5,2762.6 2323.5,2775.4 2325.5,2775.4 2325.5,2773.9 2327.5,2773.9 2327.5,2779.4 2329.5,2779.4 2329.5,2776.6 2331.5,2776.6 2331.5,2777.7 2333.5,2777.7 2333.5,2778.1 2335.5,2778.1 2335.5,2772.1 2337.5,2772.1 2337.5,2767.7 2339.5,2767.7 2339.5,2782.1 2341.5,2782.1 2341.5,2777.0 2343.5,2777.0 2343.5,2785.0 2345.5,2785.0 2345.5,2783.8 2347.5,2783.8 2347.5,2778.5 2349.5,2778.5 2349.5,2780.3 2351.5,2780.3 2351.5,2781.1 2353.5,2781.1 2353.5,2778.8 2355.5,2778.8 2355.5,2783.7 2357.5,2783.7 2357.5,2779.3 2359.5,2779.3 2359.5,2782.9 2361.5,2782.9 2361.5,2821.9 2359.5,2821.9 2359.5,2820.7 2357.5,2820.7 2357.5,2821.1 2355.5,2821.1 2355.5,2814.1 2353.5,2814.1 2353.5,2813.4 2351.5,2813.4 2351.5,2814.1 2349.5,2814.1 2349.5,2825.0 2347.5,2825.0 2347.5,2813.2 2345.5,2813.2 2345.5,2817.0 2343.5,2817.0 2343.5,2818.8 2341.5,2818.8 2341.5,2812.2 2339.5,2812.2 2339.5,2817.0 2337.5,2817.0 2337.5,2812.4 2335.5,2812.4 2335.5,2810.5 2333.5,2810.5 2333.5,2809.3 2331.5,2809.3 2331.5,2809.2 2329.5,2809.2 2329.5,2809.0 2327.5,2809.0 2327.5,2806.7 2325.5,2806.7 2325.5,2805.7 2323.5,2805.7 2323.5,2809.7 2321.5,2809.7 2321.5,2814.4 2319.5,2814.4 2319.5,2811.0 2317.5,2811.0 2317.5,2815.1 2315.5,2815.1 2315.5,2803.2 2313.5,2803.2 2313.5,2801.1 2311.5,2801.1 2311.5,2801.0 2309.5,2801.0 2309.5,2802.6 2307.5,2802.6 2307.5,2803.0 2305.5,2803.0 2305.5,2809.3 2303.5,2809.3 2303.5,2807.5 2301.5,2807.5 2301.5,2796.4 2299.5,2796.4 2299.5,2798.9 2297.5,2798.9 2297.5,2797.3 2295.5,2797.3 2295.5,2793.5 2293.5,2793.5 2293.5,2799.7 2291.5,2799.7 2291.5,2794.4 2289.5,2794.4 2289.5,2793.0 2287.5,2793.0 2287.5,2793.6 2285.5,2793.6 2285.5,2793.8 2283.5,2793.8 2283.5,2797.5 2281.5,2797.5 2281.5,2793.6 2279.5,2793.6 2279.5,2794.0 2277.5,2794.0 2277.5,2796.5 2275.5,2796.5 2275.5,2790.6 2273.5,2790.6 2273.5,2793.7 2271.5,2793.7 2271.5,2792.3 2269.5,2792.3 2269.5,2797.5 2267.5,2797.5 2267.5,2788.3 2265.5,2788.3 2265.5,2792.2 2263.5,2792.2 2263.5,2791.8 2261.5,2791.8 2261.5,2791.5 2259.5,2791.5 2259.5,2796.8 2257.5,2796.8 2257.5,2792.6 2255.5,2792.6 2255.5,2790.0 2253.5,2790.0 2253.5,2797.4 2251.5,2797.4 2251.5,2800.1 2249.5,2800.1 2249.5,2790.5 2247.5,2790.5 2247.5,2789.7 2245.5,2789.7 2245.5,2790.1 2243.5,2790.1 2243.5,2791.7 2241.5,2791.7 2241.5,2799.0 2239.5,2799.0 2239.5,2800.7 2237.5,2800.7 2237.5,2790.9 2235.5,2790.9 2235.5,2795.6 2233.5,2795.6 2233.5,2791.5 2231.5,2791.5 2231.5,2796.1 2229.5,2796.1 2229.5,2796.3 2227.5,2796.3 2227.5,2804.6 2225.5,2804.6 2225.5,2794.0 2223.5,2794.0 2223.5,2793.0 2221.5,2793.0 2221.5,2803.5 2219.5,2803.5 2219.5,2794.8 2217.5,2794.8 2217.5,2794.8 2215.5,2794.8 2215.5,2790.5 2213.5,2790.5 2213.5,2790.2 2211.5,2790.2 2211.5,2793.0 2209.5,2793.0 2209.5,2790.8 2207.5,2790.8 2207.5,2792.0 2205.5,2792.0 2205.5,2794.9 2203.5,2794.9 2203.5,2805.5 2201.5,2805.5 2201.5,2787.4 2199.5,2787.4 2199.5,2788.8 2197.5,2788.8 2197.5,2788.1 2195.5,2788.1 2195.5,2786.1 2193.5,2786.1 2193.5,2785.7 2191.5,2785.7 2191.5,2783.5 2189.5,2783.5 2189.5,2783.8 2187.5,2783.8 2187.5,2783.1 2185.5,2783.1 2185.5,2790.7 2183.5,2790.7 2183.5,2795.0 2181.5,2795.0 2181.5,2787.4 2179.5,2787.4 2179.5,2789.1 2177.5,2789.1 2177.5,2781.1 2175.5,2781.1 2175.5,2775.4 2173.5,2775.4 2173.5,2780.1 2171.5,2780.1 2171.5,2777.0 2169.5,2777.0 2169.5,2770.5 2167.5,2770.5 2167.5,2768.2 2165.5,2768.2 2165.5,2764.7 2163.5,2764.7 2163.5,2755.4 2161.5,2755.4 2161.5,2752.2 2159.5,2752.2 2159.5,2769.2 2157.5,2769.2 2157.5,2744.0 2155.5,2744.0 2155.5,2743.6 2153.5,2743.6 2153.5,2738.7 2151.5,2738.7 2151.5,2736.1 2149.5,2736.1 2149.5,2724.2 2147.5,2724.2 2147.5,2716.3 2145.5,2716.3 2145.5,2715.4 2143.5,2715.4 2143.5,2709.1 2141.5,2709.1 2141.5,2709.5 2139.5,2709.5 2139.5,2708.8 2137.5,2708.8 2137.5,2703.0 2135.5,2703.0 2135.5,2701.3 2133.5,2701.3 2133.5,2707.3 2131.5,2707.3 2131.5,2707.7 2129.5,2707.7 2129.5,2700.9 2127.5,2700.9 2127.5,2700.3 2125.5,2700.3 2125.5,2700.5 2123.5,2700.5 2123.5,2707.1 2121.5,2707.1 2121.5,2701.4 2119.5,2701.4 2119.5,2711.1 2117.5,2711.1 2117.5,2718.5 2115.5,2718.5 2115.5,2725.9 2113.5,2725.9 2113.5,2714.6 2111.5,2714.6 2111.5,2716.2 2109.5,2716.2 2109.5,2720.9 2107.5,2720.9 2107.5,2736.3 2105.5,2736.3 2105.5,2740.4 2103.5,2740.4 2103.5,2730.4 2101.5,2730.4 2101.5,2755.2 2099.5,2755.2 2099.5,2737.2 2097.5,2737.2 2097.5,2739.8 2095.5,2739.8 2095.5,2738.6 2093.5,2738.6 2093.5,2736.2 2091.5,2736.2 2091.5,2738.7 2089.5,2738.7 2089.5,2744.9 2087.5,2744.9 2087.5,2743.0 2085.5,2743.0 2085.5,2742.7 2083.5,2742.7 2083.5,2742.5 2081.5,2742.5 2081.5,2739.7 2079.5,2739.7 2079.5,2744.1 2077.5,2744.1 2077.5,2740.7 2075.5,2740.7 2075.5,2738.3 2073.5,2738.3 2073.5,2741.0 2071.5,2741.0 2071.5,2737.9 2069.5,2737.9 2069.5,2741.5 2067.5,2741.5 2067.5,2737.2 2065.5,2737.2 2065.5,2735.9 2063.5,2735.9 2063.5,2733.7 2061.5,2733.7 2061.5,2736.9 2059.5,2736.9 2059.5,2749.4 2057.5,2749.4 2057.5,2732.7 2055.5,2732.7 2055.5,2735.3 2053.5,2735.3 2053.5,2731.2 2051.5,2731.2 2051.5,2736.3 2049.5,2736.3 2049.5,2734.8 2047.5,2734.8 2047.5,2733.2 2045.5,2733.2 2045.5,2741.8 2043.5,2741.8 2043.5,2734.5 2041.5,2734.5 2041.5,2742.4 2039.5,2742.4 2039.5,2742.8 2037.5,2742.8 2037.5,2738.0 2035.5,2738.0 2035.5,2748.9 2033.5,2748.9 2033.5,2739.5 2031.5,2739.5 2031.5,2755.1 2029.5,2755.1 2029.5,2750.0 2027.5,2750.0 2027.5,2741.6 2025.5,2741.6 2025.5,2754.4 2023.5,2754.4 2023.5,2746.5 2021.5,2746.5 2021.5,2756.1 2019.5,2756.1 2019.5,2760.2 2017.5,2760.2 2017.5,2751.2 2015.5,2751.2 2015.5,2749.3 2013.5,2749.3 2013.5,2755.5 2011.5,2755.5 2011.5,2762.0 2009.5,2762.0 2009.5,2756.8 2007.5,2756.8 2007.5,2762.5 2005.5,2762.5 2005.5,2762.9 2003.5,2762.9 2003.5,2761.3 2001.5,2761.3 2001.5,2764.7 1999.5,2764.7 1999.5,2765.1 1997.5,2765.1 1997.5,2761.7 1995.5,2761.7 1995.5,2771.2 1993.5,2771.2 1993.5,2766.7 1991.5,2766.7 1991.5,2765.7 1989.5,2765.7 1989.5,2776.3 1987.5,2776.3 1987.5,2778.9 1985.5,2778.9 1985.5,2771.1 1983.5,2771.1 1983.5,2783.6 1981.5,2783.6 1981.5,2775.5 1979.5,2775.5 1979.5,2770.6 1977.5,2770.6 1977.5,2776.5 1975.5,2776.5 1975.5,2773.7 1973.5,2773.7 1973.5,2776.5 1971.5,2776.5 1971.5,2776.3 1969.5,2776.3 1969.5,2788.5 1967.5,2788.5 1967.5,2775.8 1965.5,2775.8 1965.5,2775.7 1963.5,2775.7 1963.5,2778.1 1961.5,2778.1 1961.5,2789.6 1959.5,2789.6 1959.5,2787.7 1957.5,2787.7 1957.5,2786.8 1955.5,2786.8 1955.5,2776.7 1953.5,2776.7 1953.5,2778.8 1951.5,2778.8 1951.5,2783.7 1949.5,2783.7 1949.5,2775.2 1947.5,2775.2 1947.5,2783.2 1945.5,2783.2 1945.5,2777.7 1943.5,2777.7 1943.5,2774.8 1941.5,2774.8 1941.5,2773.9 1939.5,2773.9 1939.5,2779.3 1937.5,2779.3 1937.5,2774.8 1935.5,2774.8 1935.5,2782.8 1933.5,2782.8 1933.5,2773.2 1931.5,2773.2 1931.5,2777.5 1929.5,2777.5 1929.5,2773.3 1927.5,2773.3 1927.5,2771.6 1925.5,2771.6 1925.5,2774.9 1923.5,2774.9 1923.5,2772.9 1921.5,2772.9 1921.5,2772.7 1919.5,2772.7 1919.5,2782.0 1917.5,2782.0 1917.5,2768.7 1915.5,2768.7 1915.5,2769.3 1913.5,2769.3 1913.5,2775.1 1911.5,2775.1 1911.5,2774.9 1909.5,2774.9 1909.5,2776.2 1907.5,2776.2 1907.5,2779.9 1905.5,2779.9 1905.5,2766.7 1903.5,2766.7 1903.5,2768.0 1901.5,2768.0 1901.5,2761.9 1899.5,2761.9 1899.5,2757.8 1897.5,2757.8 1897.5,2758.4 1895.5,2758.4 1895.5,2757.7 1893.5,2757.7 1893.5,2753.7 1891.5,2753.7 1891.5,2753.5 1889.5,2753.5 1889.5,2751.0 1887.5,2751.0 1887.5,2746.1 1885.5,2746.1 1885.5,2742.3 1883.5,2742.3 1883.5,2748.0 1881.5,2748.0 1881.5,2735.9 1879.5,2735.9 1879.5,2740.9 1877.5,2740.9 1877.5,2737.3 1875.5,2737.3 1875.5,2734.5 1873.5,2734.5 1873.5,2740.6 1871.5,2740.6 1871.5,2746.9 1869.5,2746.9 1869.5,2735.3 1867.5,2735.3 1867.5,2738.2 1865.5,2738.2 1865.5,2731.1 1863.5,2731.1 1863.5,2741.4 1861.5,2741.4 1861.5,2738.4 1859.5,2738.4 1859.5,2728.6 1857.5,2728.6 1857.5,2734.3 1855.5,2734.3 1855.5,2737.1 1853.5,2737.1 1853.5,2743.6 1851.5,2743.6 1851.5,2746.2 1849.5,2746.2 1849.5,2729.2 1847.5,2729.2 1847.5,2730.7 1845.5,2730.7 1845.5,2733.4 1843.5,2733.4 1843.5,2739.7 1841.5,2739.7 1841.5,2735.2 1839.5,2735.2 1839.5,2741.7 1837.5,2741.7 1837.5,2739.7 1835.5,2739.7 1835.5,2737.7 1833.5,2737.7 1833.5,2729.7 1831.5,2729.7 1831.5,2731.0 1829.5,2731.0 1829.5,2736.0 1827.5,2736.0 1827.5,2738.6 1825.5,2738.6 1825.5,2728.4 1823.5,2728.4 1823.5,2729.6 1821.5,2729.6 1821.5,2743.4 1819.5,2743.4 1819.5,2737.4 1817.5,2737.4 1817.5,2729.6 1815.5,2729.6 1815.5,2739.3 1813.5,2739.3 1813.5,2722.8 1811.5,2722.8 1811.5,2733.0 1809.5,2733.0 1809.5,2724.6 1807.5,2724.6 1807.5,2719.3 1805.5,2719.3 1805.5,2715.6 1803.5,2715.6 1803.5,2707.4 1801.5,2707.4 1801.5,2698.0 1799.5,2698.0 1799.5,2686.3 1797.5,2686.3 1797.5,2676.6 1795.5,2676.6 1795.5,2668.3 1793.5,2668.3 1793.5,2650.2 1791.5,2650.2 1791.5,2639.9 1789.5,2639.9 1789.5,2627.1 1787.5,2627.1 1787.5,2611.3 1785.5,2611.3 1785.5,2598.6 1783.5,2598.6 1783.5,2588.4 1781.5,2588.4 1781.5,2567.3 1779.5,2567.3 1779.5,2554.9 1777.5,2554.9 1777.5,2548.1 1775.5,2548.1 1775.5,2532.7 1773.5,2532.7 1773.5,2518.9 1771.5,2518.9 1771.5,2501.9 1769.5,2501.9 1769.5,2481.4 1767.5,2481.4 1767.5,2489.3 1765.5,2489.3 1765.5,2501.4 1763.5,2501.4 1763.5,2513.3 1761.5,2513.3 1761.5,2527.5 1759.5,2527.5 1759.5,2533.7 1757.5,2533.7 1757.5,2543.4 1755.5,2543.4 1755.5,2553.6 1753.5,2553.6 1753.5,2568.8 1751.5,2568.8 1751.5,2573.3 1749.5,2573.3 1749.5,2580.6 1747.5,2580.6 1747.5,2594.7 1745.5,2594.7 1745.5,2599.5 1743.5,2599.5 1743.5,2605.7 1741.5,2605.7 1741.5,2619.5 1739.5,2619.5 1739.5,2615.4 1737.5,2615.4 1737.5,2620.8 1735.5,2620.8 1735.5,2629.8 1733.5,2629.8 1733.5,2637.4 1731.5,2637.4 1731.5,2640.5 1729.5,2640.5 1729.5,2651.9 1727.5,2651.9 1727.5,2644.1 1725.5,2644.1 1725.5,2647.0 1723.5,2647.0 1723.5,2650.9 1721.5,2650.9 1721.5,2654.7 1719.5,2654.7 1719.5,2656.4 1717.5,2656.4 1717.5,2661.3 1715.5,2661.3 1715.5,2665.5 1713.5,2665.5 1713.5,2658.7 1711.5,2658.7 1711.5,2658.7 1709.5,2658.7 1709.5,2667.9 1707.5,2667.9 1707.5,2664.4 1705.5,2664.4 1705.5,2668.6 1703.5,2668.6 1703.5,2669.4 1701.5,2669.4 1701.5,2672.4 1699.5,2672.4 1699.5,2672.2 1697.5,2672.2 1697.5,2667.9 1695.5,2667.9 1695.5,2678.9 1693.5,2678.9 1693.5,2679.5 1691.5,2679.5 1691.5,2674.0 1689.5,2674.0 1689.5,2678.7 1687.5,2678.7 1687.5,2679.3 1685.5,2679.3 1685.5,2675.8 1683.5,2675.8 1683.5,2674.6 1681.5,2674.6 1681.5,2685.4 1679.5,2685.4 1679.5,2683.1 1677.5,2683.1 1677.5,2681.4 1675.5,2681.4 1675.5,2681.7 1673.5,2681.7 1673.5,2684.0 1671.5,2684.0 1671.5,2688.9 1669.5,2688.9 1669.5,2689.8 1667.5,2689.8 1667.5,2689.6 1665.5,2689.6 1665.5,2686.8 1663.5,2686.8 1663.5,2700.7 1661.5,2700.7 1661.5,2697.5 1659.5,2697.5 1659.5,2689.1 1657.5,2689.1 1657.5,2694.3 1655.5,2694.3 1655.5,2698.7 1653.5,2698.7 1653.5,2701.2 1651.5,2701.2 1651.5,2712.5 1649.5,2712.5 1649.5,2708.6 1647.5,2708.6 1647.5,2704.7 1645.5,2704.7 1645.5,2698.2 1643.5,2698.2 1643.5,2705.1 1641.5,2705.1 1641.5,2708.2 1639.5,2708.2 1639.5,2699.0 1637.5,2699.0 1637.5,2709.0 1635.5,2709.0 1635.5,2704.0 1633.5,2704.0 1633.5,2702.2 1631.5,2702.2 1631.5,2706.5 1629.5,2706.5 1629.5,2702.9 1627.5,2702.9 1627.5,2719.5 1625.5,2719.5 1625.5,2722.5 1623.5,2722.5 1623.5,2719.5 1621.5,2719.5 1621.5,2705.2 1619.5,2705.2 1619.5,2706.3 1617.5,2706.3 1617.5,2711.9 1615.5,2711.9 1615.5,2716.5 1613.5,2716.5 1613.5,2709.0 1611.5,2709.0 1611.5,2707.6 1609.5,2707.6 1609.5,2707.8 1607.5,2707.8 1607.5,2710.5 1605.5,2710.5 1605.5,2719.1 1603.5,2719.1 1603.5,2707.1 1601.5,2707.1 1601.5,2708.4 1599.5,2708.4 1599.5,2710.6 1597.5,2710.6 1597.5,2720.8 1595.5,2720.8 1595.5,2711.1 1593.5,2711.1 1593.5,2714.1 1591.5,2714.1 1591.5,2709.3 1589.5,2709.3 1589.5,2728.6 1587.5,2728.6 1587.5,2717.9 1585.5,2717.9 1585.5,2711.8 1583.5,2711.8 1583.5,2713.2 1581.5,2713.2 1581.5,2725.2 1579.5,2725.2 1579.5,2706.0 1577.5,2706.0 1577.5,2714.4 1575.5,2714.4 1575.5,2724.9 1573.5,2724.9 1573.5,2712.9 1571.5,2712.9 1571.5,2716.8 1569.5,2716.8 1569.5,2715.4 1567.5,2715.4 1567.5,2709.8 1565.5,2709.8 1565.5,2706.0 1563.5,2706.0 1563.5,2721.5 1561.5,2721.5 1561.5,2711.4 1559.5,2711.4 1559.5,2724.9 1557.5,2724.9 1557.5,2705.2 1555.5,2705.2 1555.5,2716.5 1553.5,2716.5 1553.5,2708.5 1551.5,2708.5 1551.5,2708.3 1549.5,2708.3 1549.5,2702.3 1547.5,2702.3 1547.5,2706.9 1545.5,2706.9 1545.5,2707.5 1543.5,2707.5 1543.5,2704.7 1541.5,2704.7 1541.5,2699.1 1539.5,2699.1 1539.5,2700.8 1537.5,2700.8 1537.5,2708.3 1535.5,2708.3 1535.5,2701.3 1533.5,2701.3 1533.5,2699.7 1531.5,2699.7 1531.5,2708.0 1529.5,2708.0 1529.5,2709.0 1527.5,2709.0 1527.5,2699.9 1525.5,2699.9 1525.5,2714.0 1523.5,2714.0 1523.5,2701.4 1521.5,2701.4 1521.5,2699.2 1519.5,2699.2 1519.5,2701.0 1517.5,2701.0 1517.5,2699.2 1515.5,2699.2 1515.5,2696.5 1513.5,2696.5 1513.5,2706.1 1511.5,2706.1 1511.5,2700.0 1509.5,2700.0 1509.5,2697.4 1507.5,2697.4 1507.5,2699.0 1505.5,2699.0 1505.5,2695.9 1503.5,2695.9 1503.5,2699.9 1501.5,2699.9 1501.5,2703.7 1499.5,2703.7 1499.5,2698.0 1497.5,2698.0 1497.5,2694.5 1495.5,2694.5 1495.5,2690.4 1493.5,2690.4 1493.5,2697.6 1491.5,2697.6 1491.5,2692.9 1489.5,2692.9 1489.5,2697.5 1487.5,2697.5 1487.5,2687.7 1485.5,2687.7 1485.5,2696.0 1483.5,2696.0 1483.5,2684.7 1481.5,2684.7 1481.5,2690.3 1479.5,2690.3 1479.5,2683.8 1477.5,2683.8 1477.5,2678.3 1475.5,2678.3 1475.5,2675.9 1473.5,2675.9 1473.5,2671.9 1471.5,2671.9 1471.5,2673.9 1469.5,2673.9 1469.5,2669.9 1467.5,2669.9 1467.5,2678.2 1465.5,2678.2 1465.5,2664.3 1463.5,2664.3 1463.5,2656.3 1461.5,2656.3 1461.5,2664.2 1459.5,2664.2 1459.5,2656.3 1457.5,2656.3 1457.5,2644.1 1455.5,2644.1 1455.5,2641.9 1453.5,2641.9 1453.5,2635.2 1451.5,2635.2 1451.5,2632.5 1449.5,2632.5 1449.5,2626.9 1447.5,2626.9 1447.5,2621.9 1445.5,2621.9 1445.5,2614.6 1443.5,2614.6 1443.5,2610.4 1441.5,2610.4 1441.5,2604.2 1439.5,2604.2 1439.5,2599.3 1437.5,2599.3 1437.5,2594.1 1435.5,2594.1 1435.5,2588.1 1433.5,2588.1 1433.5,2579.1 1431.5,2579.1 1431.5,2567.7 1429.5,2567.7 1429.5,2548.2 1427.5,2548.2 1427.5,2530.5 1425.5,2530.5 1425.5,2509.3 1423.5,2509.3Z" fill="#000"/></svg></body></html>
